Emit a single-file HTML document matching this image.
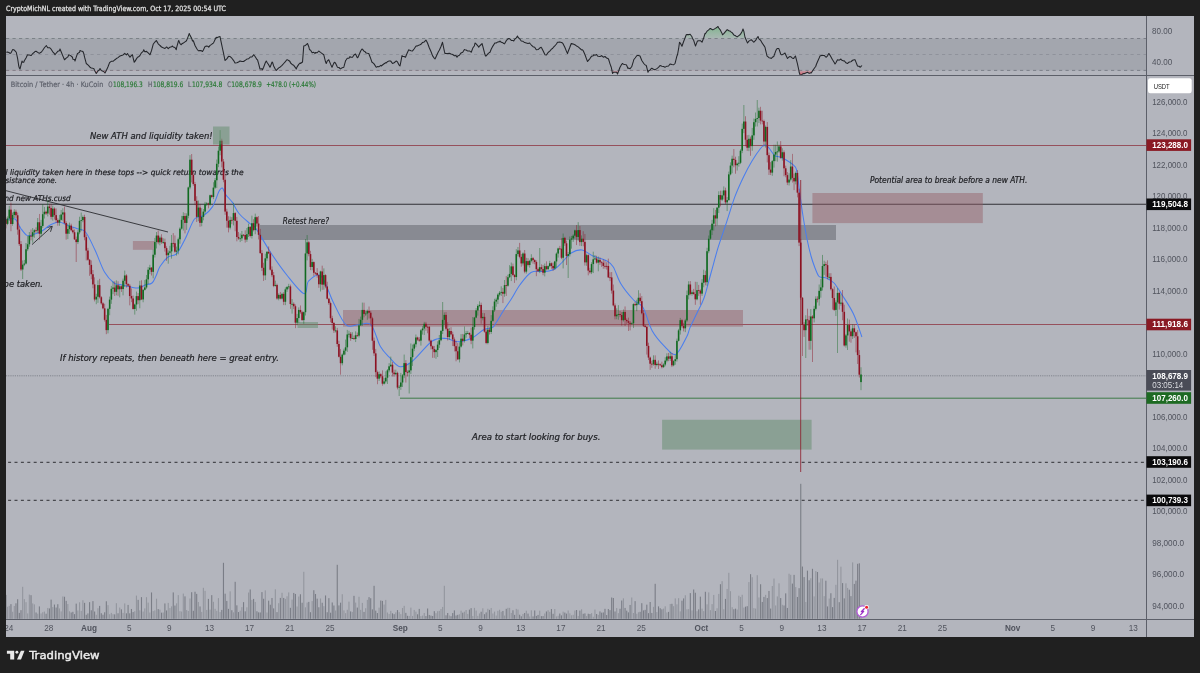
<!DOCTYPE html><html><head><meta charset="utf-8"><style>html,body{margin:0;padding:0;background:#202020;overflow:hidden}svg{display:block}</style></head><body>
<svg width="1200" height="673" viewBox="0 0 1200 673" font-family="'Liberation Sans', sans-serif">
<rect width="1200" height="673" fill="#202020"/>
<defs><clipPath id="pc"><rect x="6" y="16" width="1140.5" height="603.5"/></clipPath><clipPath id="mc"><rect x="6" y="76.0" width="1140.5" height="543.5"/></clipPath><clipPath id="rc"><rect x="6" y="16" width="1140.5" height="59.5"/></clipPath></defs>
<text x="6" y="11.2" fill="#e4e4e4" font-family="'DejaVu Sans', sans-serif" font-size="7.2" stroke="#e4e4e4" stroke-width="0.25" textLength="220" lengthAdjust="spacingAndGlyphs">CryptoMichNL created with TradingView.com, Oct 17, 2025 00:54 UTC</text>
<rect x="6" y="16" width="1188" height="621" fill="#b3b5bd"/>
<rect x="6" y="38.5" width="1140.5" height="31.900000000000006" fill="#a3a6ae"/>
<line x1="6" y1="38.5" x2="1146.5" y2="38.5" stroke="#7c7f88" stroke-width="1" stroke-dasharray="3.2 3.3"/>
<line x1="6" y1="54.5" x2="1146.5" y2="54.5" stroke="#8f929b" stroke-width="1" stroke-dasharray="3.2 3.3"/>
<line x1="6" y1="70.4" x2="1146.5" y2="70.4" stroke="#7c7f88" stroke-width="1" stroke-dasharray="3.2 3.3"/>
<g clip-path="url(#rc)">
<clipPath id="ob"><rect x="6" y="16" width="1140.5" height="22.5"/></clipPath>
<clipPath id="os"><rect x="6" y="70.4" width="1140.5" height="5.099999999999994"/></clipPath>
<linearGradient id="gg" x1="0" y1="16" x2="0" y2="38.5" gradientUnits="userSpaceOnUse"><stop offset="0" stop-color="#3aa54a" stop-opacity="0.85"/><stop offset="1" stop-color="#6cc07a" stop-opacity="0.15"/></linearGradient>
<linearGradient id="rg" x1="0" y1="70.4" x2="0" y2="75.5" gradientUnits="userSpaceOnUse"><stop offset="0" stop-color="#e05060" stop-opacity="0.2"/><stop offset="1" stop-color="#e03040" stop-opacity="0.8"/></linearGradient>
<polygon clip-path="url(#ob)" points="6.25,38.5 6.25,52.25 7.60,52.05 9.27,52.63 10.00,53.50 10.95,52.92 12.62,49.62 13.75,49.75 14.29,50.21 15.97,51.97 16.25,52.25 17.64,58.65 18.75,66.00 19.31,67.96 20.00,69.00 20.99,65.16 22.00,61.00 22.66,62.22 23.75,62.25 24.33,60.81 26.01,57.96 27.50,54.75 27.68,54.79 29.35,54.96 31.03,55.46 31.25,55.50 32.70,53.55 34.37,52.25 35.00,51.50 36.05,51.23 37.72,52.39 38.75,53.00 39.39,53.19 41.07,52.30 41.25,52.25 42.74,50.27 44.41,47.75 46.09,45.72 46.25,45.50 47.76,47.71 49.43,47.65 50.00,48.00 51.11,49.17 52.78,51.84 54.45,53.72 55.00,54.75 56.13,53.24 57.80,51.34 59.47,50.72 60.00,49.00 61.15,51.75 62.82,55.83 64.49,59.73 64.50,59.75 66.17,58.16 67.84,56.93 68.75,54.75 69.51,55.14 71.19,56.03 72.50,57.25 72.86,59.15 74.53,59.50 75.00,61.00 76.21,57.18 77.50,53.50 77.88,53.41 79.55,52.29 80.00,50.50 81.23,50.96 82.90,51.48 83.75,53.50 84.57,57.16 86.25,63.49 86.25,63.50 87.92,64.88 89.59,66.63 90.00,67.25 91.27,67.93 92.94,68.35 93.75,68.50 94.61,70.39 96.25,73.50 96.29,73.45 97.96,70.98 99.63,69.70 100.00,68.50 101.31,70.50 102.98,71.20 104.65,72.44 105.00,73.00 106.33,70.55 108.00,66.81 109.67,62.38 110.00,62.25 111.35,61.32 113.02,61.32 114.69,59.85 115.00,59.75 116.37,58.54 118.04,57.59 119.71,56.21 120.00,56.00 121.39,55.52 123.06,54.98 124.73,53.36 126.41,54.83 127.50,53.50 128.08,54.48 129.75,56.88 130.00,57.25 131.43,55.34 132.50,54.75 133.10,57.86 134.25,62.25 134.77,61.61 136.45,58.88 137.50,57.25 138.12,57.08 139.79,55.74 141.47,52.79 143.14,51.35 143.75,49.75 144.81,51.79 146.49,51.38 148.16,52.99 149.83,54.62 150.00,54.75 151.51,50.66 153.18,44.27 153.75,43.50 154.85,42.03 156.25,40.50 156.53,40.87 158.20,43.81 159.87,45.33 160.00,45.50 161.55,47.00 163.22,47.75 164.89,48.44 165.00,48.50 166.57,46.94 168.24,48.71 169.91,47.17 171.59,46.73 172.50,46.00 173.26,47.03 174.93,47.49 176.25,49.75 176.61,47.64 178.28,41.57 178.75,40.50 179.95,43.60 181.25,44.75 181.63,44.01 183.30,43.08 184.97,41.82 186.25,41.00 186.65,40.32 188.32,36.10 189.25,33.50 189.99,35.36 191.67,38.38 192.50,41.00 193.34,40.74 195.01,45.49 196.69,48.47 197.50,49.75 198.36,50.73 200.03,50.58 201.71,50.89 202.50,51.50 203.38,49.97 205.00,46.50 205.05,46.51 206.73,45.99 208.40,46.61 208.75,47.25 210.07,45.37 211.75,44.41 212.50,43.50 213.42,43.12 215.09,39.60 216.25,37.25 216.77,37.77 218.44,36.94 220.00,36.50 220.11,37.04 221.79,45.23 222.50,48.50 223.46,52.86 225.00,60.50 225.13,60.39 226.81,58.90 228.48,56.38 230.00,56.50 230.15,56.70 231.83,58.21 233.50,60.34 235.00,63.00 235.17,62.93 236.85,62.72 238.52,61.96 240.00,61.00 240.19,60.98 241.87,61.44 243.54,61.50 245.00,60.50 245.21,60.36 246.89,59.11 248.56,58.77 250.00,57.25 250.23,57.09 251.91,57.05 253.58,54.86 253.75,54.75 255.25,56.75 256.93,59.58 257.50,59.75 258.60,63.73 260.00,69.00 260.27,69.08 261.95,68.70 262.50,69.75 263.62,67.20 265.29,62.78 266.25,61.00 266.97,62.25 268.64,64.73 270.00,67.25 270.31,66.80 271.99,62.10 272.50,62.25 273.66,65.95 275.33,69.23 276.25,70.50 277.01,69.65 278.68,67.89 280.00,67.25 280.35,66.87 282.03,65.43 283.70,63.49 285.37,61.67 286.25,60.50 287.05,59.63 288.72,60.54 290.00,61.50 290.39,62.75 292.07,64.32 292.50,64.75 293.74,65.32 295.41,67.57 296.25,69.00 297.09,66.86 298.76,64.42 300.00,63.00 300.43,63.52 302.11,62.25 302.50,62.25 303.75,46.00 303.78,45.98 305.45,45.49 307.13,43.85 307.50,43.50 308.80,46.73 309.50,49.75 310.47,50.05 312.15,52.83 313.82,52.27 315.00,53.50 315.49,52.59 317.17,52.75 318.75,51.00 318.84,51.07 320.51,52.37 322.19,53.57 323.75,54.75 323.86,55.14 325.53,61.81 326.25,63.50 327.21,61.08 328.75,59.75 328.88,60.05 330.55,64.15 332.00,67.25 332.23,66.80 333.90,62.86 334.50,62.25 335.57,63.25 337.25,66.83 337.50,67.25 338.92,67.50 340.00,68.50 340.59,68.95 342.27,67.67 343.75,67.25 343.94,66.68 345.61,60.63 346.25,59.75 347.29,58.23 348.96,58.26 350.00,56.50 350.63,57.26 352.31,57.19 352.50,57.25 353.98,55.03 355.50,54.00 355.65,54.20 357.33,57.74 358.00,57.25 359.00,54.98 360.67,51.07 362.00,49.00 362.35,49.21 364.02,51.21 365.00,51.50 365.69,52.77 367.37,53.34 368.75,53.50 369.04,54.28 370.71,58.55 372.00,62.25 372.39,62.39 374.06,63.86 375.73,66.60 376.25,67.25 377.41,66.63 379.08,66.68 380.75,65.41 381.25,66.00 382.43,65.00 384.10,63.79 385.77,62.61 386.25,63.00 387.45,61.70 389.12,60.90 390.00,61.00 390.79,61.13 392.47,63.47 392.50,63.50 394.14,62.73 395.81,61.35 396.25,61.00 397.49,61.91 399.16,65.17 400.00,66.00 400.83,61.79 402.00,55.50 402.51,56.57 404.18,56.48 405.50,57.25 405.85,56.32 407.53,52.19 408.75,49.75 409.20,49.97 410.87,50.74 412.50,51.00 412.55,50.94 414.22,48.80 415.89,46.33 416.25,46.00 417.57,45.88 419.24,45.05 420.00,44.75 420.91,44.27 422.59,42.47 424.26,41.97 425.93,40.15 426.25,40.50 427.61,43.21 429.28,47.71 430.95,51.55 431.25,52.25 432.63,55.91 434.30,58.30 435.00,59.00 435.97,56.93 437.65,53.25 438.75,51.00 439.32,50.23 440.99,46.54 442.50,42.25 442.67,43.00 444.34,51.22 445.00,53.50 446.01,53.40 447.69,53.61 449.36,53.31 450.00,53.50 451.03,53.89 452.71,54.47 454.38,55.71 456.05,55.53 457.00,57.25 457.73,55.89 459.40,55.24 461.07,52.91 462.75,52.17 464.42,49.57 465.00,49.75 466.09,49.98 467.77,51.08 469.44,50.94 471.11,52.20 471.25,52.25 472.79,48.06 474.46,45.72 475.00,43.00 476.13,43.90 477.81,45.78 478.75,47.25 479.48,46.09 481.15,44.50 482.00,43.50 482.83,46.44 484.50,52.98 485.50,56.00 486.17,55.88 487.85,53.82 489.52,52.45 490.00,52.25 491.19,49.25 492.87,46.10 494.54,43.44 495.00,43.00 496.21,42.93 497.89,41.91 499.56,41.63 500.00,41.00 501.23,42.35 502.91,42.85 503.75,43.50 504.58,43.85 506.25,40.70 507.93,38.97 508.75,38.50 509.60,38.68 511.27,40.40 512.95,40.52 513.75,41.00 514.62,39.42 516.29,37.85 517.50,36.00 517.97,37.26 519.64,38.79 521.25,41.00 521.31,41.02 522.99,41.35 524.66,42.58 526.33,43.01 528.01,43.46 529.68,42.98 530.00,43.50 531.35,45.01 533.03,46.73 534.70,47.19 536.25,49.75 536.37,49.69 538.05,49.53 539.72,48.07 541.25,47.25 541.39,47.54 543.07,50.69 544.74,54.23 545.00,54.75 546.41,54.96 548.09,52.52 549.76,51.18 550.00,51.00 551.43,49.16 552.50,48.50 553.11,47.71 554.78,45.97 556.45,44.02 557.50,42.25 558.13,42.31 559.80,42.11 561.47,42.45 562.50,43.00 563.15,43.90 564.82,47.28 566.49,51.37 567.50,53.50 568.17,51.45 569.84,47.29 571.25,43.50 571.51,43.63 573.19,43.97 574.86,44.75 576.53,45.93 577.50,46.50 578.21,46.87 579.88,48.40 580.00,48.50 581.55,49.92 582.50,49.75 583.23,50.70 584.90,54.55 585.00,54.75 586.57,59.11 587.50,61.50 588.25,60.58 589.92,58.60 590.00,58.50 591.59,56.17 593.27,55.64 593.75,54.75 594.94,55.24 596.61,54.53 597.50,56.00 598.29,56.34 599.96,56.53 601.25,56.00 601.63,55.60 603.31,57.23 604.98,56.50 605.00,56.50 606.65,58.02 608.33,58.74 608.75,59.75 610.00,63.82 611.25,67.25 611.67,69.16 612.50,73.50 613.35,72.33 615.00,72.25 615.02,72.26 616.69,72.23 617.50,74.00 618.37,71.80 620.00,67.25 620.04,67.19 621.71,64.27 622.50,63.50 623.39,64.16 625.06,64.57 626.25,64.75 626.73,65.49 628.00,68.50 628.41,68.05 630.08,68.69 631.25,67.25 631.75,66.70 633.43,61.14 633.75,59.75 635.10,58.02 636.77,55.77 637.50,55.50 638.45,55.47 640.00,56.00 640.12,56.24 641.79,60.52 643.47,62.93 643.75,63.50 645.14,64.87 646.25,65.50 646.81,67.51 648.00,72.25 648.49,71.00 650.16,69.85 651.25,68.50 651.83,68.20 653.51,69.26 655.00,69.75 655.18,69.60 656.85,68.59 658.53,67.35 660.00,65.50 660.20,65.57 661.87,66.23 663.55,66.55 665.00,67.25 665.22,67.11 666.89,66.15 668.57,65.94 670.00,64.00 670.24,64.05 671.91,64.59 673.59,64.72 673.75,64.75 675.00,63.50 675.26,62.59 676.93,55.95 677.50,54.75 678.61,48.70 679.50,42.25 680.28,43.04 681.95,46.24 682.50,44.75 683.63,41.48 685.30,37.23 686.25,34.75 686.97,34.49 688.65,34.64 690.00,34.25 690.32,34.47 691.99,36.81 692.50,38.50 693.67,40.34 695.34,45.60 695.50,46.00 697.01,42.15 697.50,41.00 698.69,40.71 700.36,40.68 702.03,42.19 702.50,41.00 703.71,37.83 705.00,33.50 705.38,33.73 707.05,31.17 708.73,29.94 710.00,28.50 710.40,28.58 712.07,29.42 712.50,29.75 713.75,29.43 715.42,28.36 717.09,27.21 718.00,26.50 718.77,27.99 720.44,30.17 722.11,33.63 722.50,34.75 723.79,33.68 725.46,31.59 727.13,29.68 727.50,29.75 728.81,30.82 730.48,31.22 731.25,32.25 732.15,32.64 733.83,34.93 735.50,35.66 736.25,36.50 737.17,36.87 738.85,35.58 740.00,34.75 740.52,34.21 742.19,31.18 743.00,29.00 743.87,31.37 745.00,37.25 745.54,38.45 747.21,42.34 747.50,43.00 748.89,41.08 750.56,40.09 751.25,39.75 752.23,40.68 753.75,42.25 753.91,42.04 755.58,40.47 757.25,37.49 758.00,36.50 758.93,38.86 760.60,40.25 762.27,43.15 762.50,43.50 763.95,45.64 765.00,47.25 765.62,50.01 767.00,56.00 767.29,56.17 768.97,57.68 770.64,58.11 771.25,58.50 772.31,57.30 773.75,56.50 773.99,55.86 775.66,51.16 776.25,49.75 777.33,48.43 778.75,48.50 779.01,49.14 780.68,54.03 781.25,54.75 782.35,54.65 784.03,53.69 785.00,53.00 785.70,54.69 787.37,58.22 787.50,58.50 789.05,56.93 790.00,56.50 790.72,56.66 792.39,58.23 793.75,58.50 794.07,57.61 795.50,56.00 795.74,57.02 797.41,63.66 798.75,69.75 799.09,71.98 800.00,74.75 800.76,75.37 802.43,74.10 803.75,73.50 804.11,73.68 805.78,72.93 807.45,72.27 807.50,72.25 809.13,73.37 810.80,72.66 811.25,73.00 812.47,71.03 814.15,68.49 815.82,66.26 816.25,64.75 817.49,61.71 819.17,58.07 820.00,56.00 820.84,55.62 822.51,55.30 823.75,55.50 824.19,55.44 825.86,57.02 826.25,57.25 827.53,55.82 828.75,53.50 829.21,53.88 830.88,56.72 832.50,59.75 832.55,59.84 834.23,62.46 835.00,64.00 835.90,62.67 837.50,59.75 837.57,59.75 839.25,60.14 840.92,59.06 841.25,59.75 842.59,60.62 843.75,61.00 844.27,60.79 845.94,62.86 847.50,63.50 847.61,63.44 849.29,62.01 850.96,61.65 851.25,61.50 852.63,60.25 854.31,59.68 855.00,59.75 855.98,62.17 857.50,66.00 857.65,66.08 859.33,66.36 860.00,67.25 861.00,66.49 862.00,65.50 862,38.5" fill="url(#gg)"/>
<polygon clip-path="url(#os)" points="6.25,70.4 6.25,52.25 7.60,52.05 9.27,52.63 10.00,53.50 10.95,52.92 12.62,49.62 13.75,49.75 14.29,50.21 15.97,51.97 16.25,52.25 17.64,58.65 18.75,66.00 19.31,67.96 20.00,69.00 20.99,65.16 22.00,61.00 22.66,62.22 23.75,62.25 24.33,60.81 26.01,57.96 27.50,54.75 27.68,54.79 29.35,54.96 31.03,55.46 31.25,55.50 32.70,53.55 34.37,52.25 35.00,51.50 36.05,51.23 37.72,52.39 38.75,53.00 39.39,53.19 41.07,52.30 41.25,52.25 42.74,50.27 44.41,47.75 46.09,45.72 46.25,45.50 47.76,47.71 49.43,47.65 50.00,48.00 51.11,49.17 52.78,51.84 54.45,53.72 55.00,54.75 56.13,53.24 57.80,51.34 59.47,50.72 60.00,49.00 61.15,51.75 62.82,55.83 64.49,59.73 64.50,59.75 66.17,58.16 67.84,56.93 68.75,54.75 69.51,55.14 71.19,56.03 72.50,57.25 72.86,59.15 74.53,59.50 75.00,61.00 76.21,57.18 77.50,53.50 77.88,53.41 79.55,52.29 80.00,50.50 81.23,50.96 82.90,51.48 83.75,53.50 84.57,57.16 86.25,63.49 86.25,63.50 87.92,64.88 89.59,66.63 90.00,67.25 91.27,67.93 92.94,68.35 93.75,68.50 94.61,70.39 96.25,73.50 96.29,73.45 97.96,70.98 99.63,69.70 100.00,68.50 101.31,70.50 102.98,71.20 104.65,72.44 105.00,73.00 106.33,70.55 108.00,66.81 109.67,62.38 110.00,62.25 111.35,61.32 113.02,61.32 114.69,59.85 115.00,59.75 116.37,58.54 118.04,57.59 119.71,56.21 120.00,56.00 121.39,55.52 123.06,54.98 124.73,53.36 126.41,54.83 127.50,53.50 128.08,54.48 129.75,56.88 130.00,57.25 131.43,55.34 132.50,54.75 133.10,57.86 134.25,62.25 134.77,61.61 136.45,58.88 137.50,57.25 138.12,57.08 139.79,55.74 141.47,52.79 143.14,51.35 143.75,49.75 144.81,51.79 146.49,51.38 148.16,52.99 149.83,54.62 150.00,54.75 151.51,50.66 153.18,44.27 153.75,43.50 154.85,42.03 156.25,40.50 156.53,40.87 158.20,43.81 159.87,45.33 160.00,45.50 161.55,47.00 163.22,47.75 164.89,48.44 165.00,48.50 166.57,46.94 168.24,48.71 169.91,47.17 171.59,46.73 172.50,46.00 173.26,47.03 174.93,47.49 176.25,49.75 176.61,47.64 178.28,41.57 178.75,40.50 179.95,43.60 181.25,44.75 181.63,44.01 183.30,43.08 184.97,41.82 186.25,41.00 186.65,40.32 188.32,36.10 189.25,33.50 189.99,35.36 191.67,38.38 192.50,41.00 193.34,40.74 195.01,45.49 196.69,48.47 197.50,49.75 198.36,50.73 200.03,50.58 201.71,50.89 202.50,51.50 203.38,49.97 205.00,46.50 205.05,46.51 206.73,45.99 208.40,46.61 208.75,47.25 210.07,45.37 211.75,44.41 212.50,43.50 213.42,43.12 215.09,39.60 216.25,37.25 216.77,37.77 218.44,36.94 220.00,36.50 220.11,37.04 221.79,45.23 222.50,48.50 223.46,52.86 225.00,60.50 225.13,60.39 226.81,58.90 228.48,56.38 230.00,56.50 230.15,56.70 231.83,58.21 233.50,60.34 235.00,63.00 235.17,62.93 236.85,62.72 238.52,61.96 240.00,61.00 240.19,60.98 241.87,61.44 243.54,61.50 245.00,60.50 245.21,60.36 246.89,59.11 248.56,58.77 250.00,57.25 250.23,57.09 251.91,57.05 253.58,54.86 253.75,54.75 255.25,56.75 256.93,59.58 257.50,59.75 258.60,63.73 260.00,69.00 260.27,69.08 261.95,68.70 262.50,69.75 263.62,67.20 265.29,62.78 266.25,61.00 266.97,62.25 268.64,64.73 270.00,67.25 270.31,66.80 271.99,62.10 272.50,62.25 273.66,65.95 275.33,69.23 276.25,70.50 277.01,69.65 278.68,67.89 280.00,67.25 280.35,66.87 282.03,65.43 283.70,63.49 285.37,61.67 286.25,60.50 287.05,59.63 288.72,60.54 290.00,61.50 290.39,62.75 292.07,64.32 292.50,64.75 293.74,65.32 295.41,67.57 296.25,69.00 297.09,66.86 298.76,64.42 300.00,63.00 300.43,63.52 302.11,62.25 302.50,62.25 303.75,46.00 303.78,45.98 305.45,45.49 307.13,43.85 307.50,43.50 308.80,46.73 309.50,49.75 310.47,50.05 312.15,52.83 313.82,52.27 315.00,53.50 315.49,52.59 317.17,52.75 318.75,51.00 318.84,51.07 320.51,52.37 322.19,53.57 323.75,54.75 323.86,55.14 325.53,61.81 326.25,63.50 327.21,61.08 328.75,59.75 328.88,60.05 330.55,64.15 332.00,67.25 332.23,66.80 333.90,62.86 334.50,62.25 335.57,63.25 337.25,66.83 337.50,67.25 338.92,67.50 340.00,68.50 340.59,68.95 342.27,67.67 343.75,67.25 343.94,66.68 345.61,60.63 346.25,59.75 347.29,58.23 348.96,58.26 350.00,56.50 350.63,57.26 352.31,57.19 352.50,57.25 353.98,55.03 355.50,54.00 355.65,54.20 357.33,57.74 358.00,57.25 359.00,54.98 360.67,51.07 362.00,49.00 362.35,49.21 364.02,51.21 365.00,51.50 365.69,52.77 367.37,53.34 368.75,53.50 369.04,54.28 370.71,58.55 372.00,62.25 372.39,62.39 374.06,63.86 375.73,66.60 376.25,67.25 377.41,66.63 379.08,66.68 380.75,65.41 381.25,66.00 382.43,65.00 384.10,63.79 385.77,62.61 386.25,63.00 387.45,61.70 389.12,60.90 390.00,61.00 390.79,61.13 392.47,63.47 392.50,63.50 394.14,62.73 395.81,61.35 396.25,61.00 397.49,61.91 399.16,65.17 400.00,66.00 400.83,61.79 402.00,55.50 402.51,56.57 404.18,56.48 405.50,57.25 405.85,56.32 407.53,52.19 408.75,49.75 409.20,49.97 410.87,50.74 412.50,51.00 412.55,50.94 414.22,48.80 415.89,46.33 416.25,46.00 417.57,45.88 419.24,45.05 420.00,44.75 420.91,44.27 422.59,42.47 424.26,41.97 425.93,40.15 426.25,40.50 427.61,43.21 429.28,47.71 430.95,51.55 431.25,52.25 432.63,55.91 434.30,58.30 435.00,59.00 435.97,56.93 437.65,53.25 438.75,51.00 439.32,50.23 440.99,46.54 442.50,42.25 442.67,43.00 444.34,51.22 445.00,53.50 446.01,53.40 447.69,53.61 449.36,53.31 450.00,53.50 451.03,53.89 452.71,54.47 454.38,55.71 456.05,55.53 457.00,57.25 457.73,55.89 459.40,55.24 461.07,52.91 462.75,52.17 464.42,49.57 465.00,49.75 466.09,49.98 467.77,51.08 469.44,50.94 471.11,52.20 471.25,52.25 472.79,48.06 474.46,45.72 475.00,43.00 476.13,43.90 477.81,45.78 478.75,47.25 479.48,46.09 481.15,44.50 482.00,43.50 482.83,46.44 484.50,52.98 485.50,56.00 486.17,55.88 487.85,53.82 489.52,52.45 490.00,52.25 491.19,49.25 492.87,46.10 494.54,43.44 495.00,43.00 496.21,42.93 497.89,41.91 499.56,41.63 500.00,41.00 501.23,42.35 502.91,42.85 503.75,43.50 504.58,43.85 506.25,40.70 507.93,38.97 508.75,38.50 509.60,38.68 511.27,40.40 512.95,40.52 513.75,41.00 514.62,39.42 516.29,37.85 517.50,36.00 517.97,37.26 519.64,38.79 521.25,41.00 521.31,41.02 522.99,41.35 524.66,42.58 526.33,43.01 528.01,43.46 529.68,42.98 530.00,43.50 531.35,45.01 533.03,46.73 534.70,47.19 536.25,49.75 536.37,49.69 538.05,49.53 539.72,48.07 541.25,47.25 541.39,47.54 543.07,50.69 544.74,54.23 545.00,54.75 546.41,54.96 548.09,52.52 549.76,51.18 550.00,51.00 551.43,49.16 552.50,48.50 553.11,47.71 554.78,45.97 556.45,44.02 557.50,42.25 558.13,42.31 559.80,42.11 561.47,42.45 562.50,43.00 563.15,43.90 564.82,47.28 566.49,51.37 567.50,53.50 568.17,51.45 569.84,47.29 571.25,43.50 571.51,43.63 573.19,43.97 574.86,44.75 576.53,45.93 577.50,46.50 578.21,46.87 579.88,48.40 580.00,48.50 581.55,49.92 582.50,49.75 583.23,50.70 584.90,54.55 585.00,54.75 586.57,59.11 587.50,61.50 588.25,60.58 589.92,58.60 590.00,58.50 591.59,56.17 593.27,55.64 593.75,54.75 594.94,55.24 596.61,54.53 597.50,56.00 598.29,56.34 599.96,56.53 601.25,56.00 601.63,55.60 603.31,57.23 604.98,56.50 605.00,56.50 606.65,58.02 608.33,58.74 608.75,59.75 610.00,63.82 611.25,67.25 611.67,69.16 612.50,73.50 613.35,72.33 615.00,72.25 615.02,72.26 616.69,72.23 617.50,74.00 618.37,71.80 620.00,67.25 620.04,67.19 621.71,64.27 622.50,63.50 623.39,64.16 625.06,64.57 626.25,64.75 626.73,65.49 628.00,68.50 628.41,68.05 630.08,68.69 631.25,67.25 631.75,66.70 633.43,61.14 633.75,59.75 635.10,58.02 636.77,55.77 637.50,55.50 638.45,55.47 640.00,56.00 640.12,56.24 641.79,60.52 643.47,62.93 643.75,63.50 645.14,64.87 646.25,65.50 646.81,67.51 648.00,72.25 648.49,71.00 650.16,69.85 651.25,68.50 651.83,68.20 653.51,69.26 655.00,69.75 655.18,69.60 656.85,68.59 658.53,67.35 660.00,65.50 660.20,65.57 661.87,66.23 663.55,66.55 665.00,67.25 665.22,67.11 666.89,66.15 668.57,65.94 670.00,64.00 670.24,64.05 671.91,64.59 673.59,64.72 673.75,64.75 675.00,63.50 675.26,62.59 676.93,55.95 677.50,54.75 678.61,48.70 679.50,42.25 680.28,43.04 681.95,46.24 682.50,44.75 683.63,41.48 685.30,37.23 686.25,34.75 686.97,34.49 688.65,34.64 690.00,34.25 690.32,34.47 691.99,36.81 692.50,38.50 693.67,40.34 695.34,45.60 695.50,46.00 697.01,42.15 697.50,41.00 698.69,40.71 700.36,40.68 702.03,42.19 702.50,41.00 703.71,37.83 705.00,33.50 705.38,33.73 707.05,31.17 708.73,29.94 710.00,28.50 710.40,28.58 712.07,29.42 712.50,29.75 713.75,29.43 715.42,28.36 717.09,27.21 718.00,26.50 718.77,27.99 720.44,30.17 722.11,33.63 722.50,34.75 723.79,33.68 725.46,31.59 727.13,29.68 727.50,29.75 728.81,30.82 730.48,31.22 731.25,32.25 732.15,32.64 733.83,34.93 735.50,35.66 736.25,36.50 737.17,36.87 738.85,35.58 740.00,34.75 740.52,34.21 742.19,31.18 743.00,29.00 743.87,31.37 745.00,37.25 745.54,38.45 747.21,42.34 747.50,43.00 748.89,41.08 750.56,40.09 751.25,39.75 752.23,40.68 753.75,42.25 753.91,42.04 755.58,40.47 757.25,37.49 758.00,36.50 758.93,38.86 760.60,40.25 762.27,43.15 762.50,43.50 763.95,45.64 765.00,47.25 765.62,50.01 767.00,56.00 767.29,56.17 768.97,57.68 770.64,58.11 771.25,58.50 772.31,57.30 773.75,56.50 773.99,55.86 775.66,51.16 776.25,49.75 777.33,48.43 778.75,48.50 779.01,49.14 780.68,54.03 781.25,54.75 782.35,54.65 784.03,53.69 785.00,53.00 785.70,54.69 787.37,58.22 787.50,58.50 789.05,56.93 790.00,56.50 790.72,56.66 792.39,58.23 793.75,58.50 794.07,57.61 795.50,56.00 795.74,57.02 797.41,63.66 798.75,69.75 799.09,71.98 800.00,74.75 800.76,75.37 802.43,74.10 803.75,73.50 804.11,73.68 805.78,72.93 807.45,72.27 807.50,72.25 809.13,73.37 810.80,72.66 811.25,73.00 812.47,71.03 814.15,68.49 815.82,66.26 816.25,64.75 817.49,61.71 819.17,58.07 820.00,56.00 820.84,55.62 822.51,55.30 823.75,55.50 824.19,55.44 825.86,57.02 826.25,57.25 827.53,55.82 828.75,53.50 829.21,53.88 830.88,56.72 832.50,59.75 832.55,59.84 834.23,62.46 835.00,64.00 835.90,62.67 837.50,59.75 837.57,59.75 839.25,60.14 840.92,59.06 841.25,59.75 842.59,60.62 843.75,61.00 844.27,60.79 845.94,62.86 847.50,63.50 847.61,63.44 849.29,62.01 850.96,61.65 851.25,61.50 852.63,60.25 854.31,59.68 855.00,59.75 855.98,62.17 857.50,66.00 857.65,66.08 859.33,66.36 860.00,67.25 861.00,66.49 862.00,65.50 862,70.4" fill="url(#rg)"/>
<polyline points="6.25,52.25 7.60,52.05 9.27,52.63 10.00,53.50 10.95,52.92 12.62,49.62 13.75,49.75 14.29,50.21 15.97,51.97 16.25,52.25 17.64,58.65 18.75,66.00 19.31,67.96 20.00,69.00 20.99,65.16 22.00,61.00 22.66,62.22 23.75,62.25 24.33,60.81 26.01,57.96 27.50,54.75 27.68,54.79 29.35,54.96 31.03,55.46 31.25,55.50 32.70,53.55 34.37,52.25 35.00,51.50 36.05,51.23 37.72,52.39 38.75,53.00 39.39,53.19 41.07,52.30 41.25,52.25 42.74,50.27 44.41,47.75 46.09,45.72 46.25,45.50 47.76,47.71 49.43,47.65 50.00,48.00 51.11,49.17 52.78,51.84 54.45,53.72 55.00,54.75 56.13,53.24 57.80,51.34 59.47,50.72 60.00,49.00 61.15,51.75 62.82,55.83 64.49,59.73 64.50,59.75 66.17,58.16 67.84,56.93 68.75,54.75 69.51,55.14 71.19,56.03 72.50,57.25 72.86,59.15 74.53,59.50 75.00,61.00 76.21,57.18 77.50,53.50 77.88,53.41 79.55,52.29 80.00,50.50 81.23,50.96 82.90,51.48 83.75,53.50 84.57,57.16 86.25,63.49 86.25,63.50 87.92,64.88 89.59,66.63 90.00,67.25 91.27,67.93 92.94,68.35 93.75,68.50 94.61,70.39 96.25,73.50 96.29,73.45 97.96,70.98 99.63,69.70 100.00,68.50 101.31,70.50 102.98,71.20 104.65,72.44 105.00,73.00 106.33,70.55 108.00,66.81 109.67,62.38 110.00,62.25 111.35,61.32 113.02,61.32 114.69,59.85 115.00,59.75 116.37,58.54 118.04,57.59 119.71,56.21 120.00,56.00 121.39,55.52 123.06,54.98 124.73,53.36 126.41,54.83 127.50,53.50 128.08,54.48 129.75,56.88 130.00,57.25 131.43,55.34 132.50,54.75 133.10,57.86 134.25,62.25 134.77,61.61 136.45,58.88 137.50,57.25 138.12,57.08 139.79,55.74 141.47,52.79 143.14,51.35 143.75,49.75 144.81,51.79 146.49,51.38 148.16,52.99 149.83,54.62 150.00,54.75 151.51,50.66 153.18,44.27 153.75,43.50 154.85,42.03 156.25,40.50 156.53,40.87 158.20,43.81 159.87,45.33 160.00,45.50 161.55,47.00 163.22,47.75 164.89,48.44 165.00,48.50 166.57,46.94 168.24,48.71 169.91,47.17 171.59,46.73 172.50,46.00 173.26,47.03 174.93,47.49 176.25,49.75 176.61,47.64 178.28,41.57 178.75,40.50 179.95,43.60 181.25,44.75 181.63,44.01 183.30,43.08 184.97,41.82 186.25,41.00 186.65,40.32 188.32,36.10 189.25,33.50 189.99,35.36 191.67,38.38 192.50,41.00 193.34,40.74 195.01,45.49 196.69,48.47 197.50,49.75 198.36,50.73 200.03,50.58 201.71,50.89 202.50,51.50 203.38,49.97 205.00,46.50 205.05,46.51 206.73,45.99 208.40,46.61 208.75,47.25 210.07,45.37 211.75,44.41 212.50,43.50 213.42,43.12 215.09,39.60 216.25,37.25 216.77,37.77 218.44,36.94 220.00,36.50 220.11,37.04 221.79,45.23 222.50,48.50 223.46,52.86 225.00,60.50 225.13,60.39 226.81,58.90 228.48,56.38 230.00,56.50 230.15,56.70 231.83,58.21 233.50,60.34 235.00,63.00 235.17,62.93 236.85,62.72 238.52,61.96 240.00,61.00 240.19,60.98 241.87,61.44 243.54,61.50 245.00,60.50 245.21,60.36 246.89,59.11 248.56,58.77 250.00,57.25 250.23,57.09 251.91,57.05 253.58,54.86 253.75,54.75 255.25,56.75 256.93,59.58 257.50,59.75 258.60,63.73 260.00,69.00 260.27,69.08 261.95,68.70 262.50,69.75 263.62,67.20 265.29,62.78 266.25,61.00 266.97,62.25 268.64,64.73 270.00,67.25 270.31,66.80 271.99,62.10 272.50,62.25 273.66,65.95 275.33,69.23 276.25,70.50 277.01,69.65 278.68,67.89 280.00,67.25 280.35,66.87 282.03,65.43 283.70,63.49 285.37,61.67 286.25,60.50 287.05,59.63 288.72,60.54 290.00,61.50 290.39,62.75 292.07,64.32 292.50,64.75 293.74,65.32 295.41,67.57 296.25,69.00 297.09,66.86 298.76,64.42 300.00,63.00 300.43,63.52 302.11,62.25 302.50,62.25 303.75,46.00 303.78,45.98 305.45,45.49 307.13,43.85 307.50,43.50 308.80,46.73 309.50,49.75 310.47,50.05 312.15,52.83 313.82,52.27 315.00,53.50 315.49,52.59 317.17,52.75 318.75,51.00 318.84,51.07 320.51,52.37 322.19,53.57 323.75,54.75 323.86,55.14 325.53,61.81 326.25,63.50 327.21,61.08 328.75,59.75 328.88,60.05 330.55,64.15 332.00,67.25 332.23,66.80 333.90,62.86 334.50,62.25 335.57,63.25 337.25,66.83 337.50,67.25 338.92,67.50 340.00,68.50 340.59,68.95 342.27,67.67 343.75,67.25 343.94,66.68 345.61,60.63 346.25,59.75 347.29,58.23 348.96,58.26 350.00,56.50 350.63,57.26 352.31,57.19 352.50,57.25 353.98,55.03 355.50,54.00 355.65,54.20 357.33,57.74 358.00,57.25 359.00,54.98 360.67,51.07 362.00,49.00 362.35,49.21 364.02,51.21 365.00,51.50 365.69,52.77 367.37,53.34 368.75,53.50 369.04,54.28 370.71,58.55 372.00,62.25 372.39,62.39 374.06,63.86 375.73,66.60 376.25,67.25 377.41,66.63 379.08,66.68 380.75,65.41 381.25,66.00 382.43,65.00 384.10,63.79 385.77,62.61 386.25,63.00 387.45,61.70 389.12,60.90 390.00,61.00 390.79,61.13 392.47,63.47 392.50,63.50 394.14,62.73 395.81,61.35 396.25,61.00 397.49,61.91 399.16,65.17 400.00,66.00 400.83,61.79 402.00,55.50 402.51,56.57 404.18,56.48 405.50,57.25 405.85,56.32 407.53,52.19 408.75,49.75 409.20,49.97 410.87,50.74 412.50,51.00 412.55,50.94 414.22,48.80 415.89,46.33 416.25,46.00 417.57,45.88 419.24,45.05 420.00,44.75 420.91,44.27 422.59,42.47 424.26,41.97 425.93,40.15 426.25,40.50 427.61,43.21 429.28,47.71 430.95,51.55 431.25,52.25 432.63,55.91 434.30,58.30 435.00,59.00 435.97,56.93 437.65,53.25 438.75,51.00 439.32,50.23 440.99,46.54 442.50,42.25 442.67,43.00 444.34,51.22 445.00,53.50 446.01,53.40 447.69,53.61 449.36,53.31 450.00,53.50 451.03,53.89 452.71,54.47 454.38,55.71 456.05,55.53 457.00,57.25 457.73,55.89 459.40,55.24 461.07,52.91 462.75,52.17 464.42,49.57 465.00,49.75 466.09,49.98 467.77,51.08 469.44,50.94 471.11,52.20 471.25,52.25 472.79,48.06 474.46,45.72 475.00,43.00 476.13,43.90 477.81,45.78 478.75,47.25 479.48,46.09 481.15,44.50 482.00,43.50 482.83,46.44 484.50,52.98 485.50,56.00 486.17,55.88 487.85,53.82 489.52,52.45 490.00,52.25 491.19,49.25 492.87,46.10 494.54,43.44 495.00,43.00 496.21,42.93 497.89,41.91 499.56,41.63 500.00,41.00 501.23,42.35 502.91,42.85 503.75,43.50 504.58,43.85 506.25,40.70 507.93,38.97 508.75,38.50 509.60,38.68 511.27,40.40 512.95,40.52 513.75,41.00 514.62,39.42 516.29,37.85 517.50,36.00 517.97,37.26 519.64,38.79 521.25,41.00 521.31,41.02 522.99,41.35 524.66,42.58 526.33,43.01 528.01,43.46 529.68,42.98 530.00,43.50 531.35,45.01 533.03,46.73 534.70,47.19 536.25,49.75 536.37,49.69 538.05,49.53 539.72,48.07 541.25,47.25 541.39,47.54 543.07,50.69 544.74,54.23 545.00,54.75 546.41,54.96 548.09,52.52 549.76,51.18 550.00,51.00 551.43,49.16 552.50,48.50 553.11,47.71 554.78,45.97 556.45,44.02 557.50,42.25 558.13,42.31 559.80,42.11 561.47,42.45 562.50,43.00 563.15,43.90 564.82,47.28 566.49,51.37 567.50,53.50 568.17,51.45 569.84,47.29 571.25,43.50 571.51,43.63 573.19,43.97 574.86,44.75 576.53,45.93 577.50,46.50 578.21,46.87 579.88,48.40 580.00,48.50 581.55,49.92 582.50,49.75 583.23,50.70 584.90,54.55 585.00,54.75 586.57,59.11 587.50,61.50 588.25,60.58 589.92,58.60 590.00,58.50 591.59,56.17 593.27,55.64 593.75,54.75 594.94,55.24 596.61,54.53 597.50,56.00 598.29,56.34 599.96,56.53 601.25,56.00 601.63,55.60 603.31,57.23 604.98,56.50 605.00,56.50 606.65,58.02 608.33,58.74 608.75,59.75 610.00,63.82 611.25,67.25 611.67,69.16 612.50,73.50 613.35,72.33 615.00,72.25 615.02,72.26 616.69,72.23 617.50,74.00 618.37,71.80 620.00,67.25 620.04,67.19 621.71,64.27 622.50,63.50 623.39,64.16 625.06,64.57 626.25,64.75 626.73,65.49 628.00,68.50 628.41,68.05 630.08,68.69 631.25,67.25 631.75,66.70 633.43,61.14 633.75,59.75 635.10,58.02 636.77,55.77 637.50,55.50 638.45,55.47 640.00,56.00 640.12,56.24 641.79,60.52 643.47,62.93 643.75,63.50 645.14,64.87 646.25,65.50 646.81,67.51 648.00,72.25 648.49,71.00 650.16,69.85 651.25,68.50 651.83,68.20 653.51,69.26 655.00,69.75 655.18,69.60 656.85,68.59 658.53,67.35 660.00,65.50 660.20,65.57 661.87,66.23 663.55,66.55 665.00,67.25 665.22,67.11 666.89,66.15 668.57,65.94 670.00,64.00 670.24,64.05 671.91,64.59 673.59,64.72 673.75,64.75 675.00,63.50 675.26,62.59 676.93,55.95 677.50,54.75 678.61,48.70 679.50,42.25 680.28,43.04 681.95,46.24 682.50,44.75 683.63,41.48 685.30,37.23 686.25,34.75 686.97,34.49 688.65,34.64 690.00,34.25 690.32,34.47 691.99,36.81 692.50,38.50 693.67,40.34 695.34,45.60 695.50,46.00 697.01,42.15 697.50,41.00 698.69,40.71 700.36,40.68 702.03,42.19 702.50,41.00 703.71,37.83 705.00,33.50 705.38,33.73 707.05,31.17 708.73,29.94 710.00,28.50 710.40,28.58 712.07,29.42 712.50,29.75 713.75,29.43 715.42,28.36 717.09,27.21 718.00,26.50 718.77,27.99 720.44,30.17 722.11,33.63 722.50,34.75 723.79,33.68 725.46,31.59 727.13,29.68 727.50,29.75 728.81,30.82 730.48,31.22 731.25,32.25 732.15,32.64 733.83,34.93 735.50,35.66 736.25,36.50 737.17,36.87 738.85,35.58 740.00,34.75 740.52,34.21 742.19,31.18 743.00,29.00 743.87,31.37 745.00,37.25 745.54,38.45 747.21,42.34 747.50,43.00 748.89,41.08 750.56,40.09 751.25,39.75 752.23,40.68 753.75,42.25 753.91,42.04 755.58,40.47 757.25,37.49 758.00,36.50 758.93,38.86 760.60,40.25 762.27,43.15 762.50,43.50 763.95,45.64 765.00,47.25 765.62,50.01 767.00,56.00 767.29,56.17 768.97,57.68 770.64,58.11 771.25,58.50 772.31,57.30 773.75,56.50 773.99,55.86 775.66,51.16 776.25,49.75 777.33,48.43 778.75,48.50 779.01,49.14 780.68,54.03 781.25,54.75 782.35,54.65 784.03,53.69 785.00,53.00 785.70,54.69 787.37,58.22 787.50,58.50 789.05,56.93 790.00,56.50 790.72,56.66 792.39,58.23 793.75,58.50 794.07,57.61 795.50,56.00 795.74,57.02 797.41,63.66 798.75,69.75 799.09,71.98 800.00,74.75 800.76,75.37 802.43,74.10 803.75,73.50 804.11,73.68 805.78,72.93 807.45,72.27 807.50,72.25 809.13,73.37 810.80,72.66 811.25,73.00 812.47,71.03 814.15,68.49 815.82,66.26 816.25,64.75 817.49,61.71 819.17,58.07 820.00,56.00 820.84,55.62 822.51,55.30 823.75,55.50 824.19,55.44 825.86,57.02 826.25,57.25 827.53,55.82 828.75,53.50 829.21,53.88 830.88,56.72 832.50,59.75 832.55,59.84 834.23,62.46 835.00,64.00 835.90,62.67 837.50,59.75 837.57,59.75 839.25,60.14 840.92,59.06 841.25,59.75 842.59,60.62 843.75,61.00 844.27,60.79 845.94,62.86 847.50,63.50 847.61,63.44 849.29,62.01 850.96,61.65 851.25,61.50 852.63,60.25 854.31,59.68 855.00,59.75 855.98,62.17 857.50,66.00 857.65,66.08 859.33,66.36 860.00,67.25 861.00,66.49 862.00,65.50" fill="none" stroke="#24262b" stroke-width="1.05" stroke-linejoin="round"/>
</g>
<line x1="6" y1="75.5" x2="1194" y2="75.5" stroke="#5c5f69" stroke-width="1"/>
<g clip-path="url(#mc)">
<rect x="2.03" y="606.88" width="1.1" height="11.92" fill="#93969e"/>
<rect x="3.70" y="604.55" width="1.1" height="14.25" fill="#93969e"/>
<rect x="5.38" y="594.88" width="1.1" height="23.92" fill="#7a7d86"/>
<rect x="7.05" y="606.75" width="1.1" height="12.05" fill="#93969e"/>
<rect x="8.72" y="605.89" width="1.1" height="12.91" fill="#93969e"/>
<rect x="10.40" y="604.14" width="1.1" height="14.66" fill="#7a7d86"/>
<rect x="12.07" y="611.75" width="1.1" height="7.05" fill="#93969e"/>
<rect x="13.74" y="605.96" width="1.1" height="12.84" fill="#93969e"/>
<rect x="15.42" y="603.31" width="1.1" height="15.49" fill="#7a7d86"/>
<rect x="17.09" y="599.23" width="1.1" height="19.57" fill="#7a7d86"/>
<rect x="18.76" y="612.88" width="1.1" height="5.92" fill="#7a7d86"/>
<rect x="20.44" y="610.15" width="1.1" height="8.65" fill="#7a7d86"/>
<rect x="22.11" y="586.80" width="1.1" height="32.00" fill="#93969e"/>
<rect x="23.78" y="599.11" width="1.1" height="19.69" fill="#93969e"/>
<rect x="25.46" y="602.17" width="1.1" height="16.63" fill="#93969e"/>
<rect x="27.13" y="613.40" width="1.1" height="5.40" fill="#93969e"/>
<rect x="28.80" y="594.58" width="1.1" height="24.22" fill="#93969e"/>
<rect x="30.48" y="595.18" width="1.1" height="23.62" fill="#7a7d86"/>
<rect x="32.15" y="603.40" width="1.1" height="15.40" fill="#93969e"/>
<rect x="33.82" y="604.35" width="1.1" height="14.45" fill="#93969e"/>
<rect x="35.50" y="612.48" width="1.1" height="6.32" fill="#7a7d86"/>
<rect x="37.17" y="613.67" width="1.1" height="5.13" fill="#93969e"/>
<rect x="38.84" y="606.42" width="1.1" height="12.38" fill="#7a7d86"/>
<rect x="40.52" y="613.47" width="1.1" height="5.33" fill="#93969e"/>
<rect x="42.19" y="612.21" width="1.1" height="6.59" fill="#93969e"/>
<rect x="43.86" y="611.56" width="1.1" height="7.24" fill="#93969e"/>
<rect x="45.54" y="613.72" width="1.1" height="5.08" fill="#7a7d86"/>
<rect x="47.21" y="607.96" width="1.1" height="10.84" fill="#93969e"/>
<rect x="48.88" y="608.44" width="1.1" height="10.36" fill="#7a7d86"/>
<rect x="50.56" y="599.62" width="1.1" height="19.18" fill="#7a7d86"/>
<rect x="52.23" y="607.04" width="1.1" height="11.76" fill="#93969e"/>
<rect x="53.90" y="604.56" width="1.1" height="14.24" fill="#7a7d86"/>
<rect x="55.58" y="607.52" width="1.1" height="11.28" fill="#7a7d86"/>
<rect x="57.25" y="604.21" width="1.1" height="14.59" fill="#7a7d86"/>
<rect x="58.92" y="608.42" width="1.1" height="10.38" fill="#93969e"/>
<rect x="60.60" y="611.41" width="1.1" height="7.39" fill="#93969e"/>
<rect x="62.27" y="596.46" width="1.1" height="22.34" fill="#93969e"/>
<rect x="63.94" y="596.75" width="1.1" height="22.05" fill="#7a7d86"/>
<rect x="65.62" y="600.86" width="1.1" height="17.94" fill="#7a7d86"/>
<rect x="67.29" y="604.04" width="1.1" height="14.76" fill="#93969e"/>
<rect x="68.96" y="611.29" width="1.1" height="7.51" fill="#93969e"/>
<rect x="70.64" y="612.49" width="1.1" height="6.31" fill="#7a7d86"/>
<rect x="72.31" y="611.81" width="1.1" height="6.99" fill="#7a7d86"/>
<rect x="73.98" y="614.13" width="1.1" height="4.67" fill="#7a7d86"/>
<rect x="75.66" y="603.63" width="1.1" height="15.17" fill="#7a7d86"/>
<rect x="77.33" y="610.49" width="1.1" height="8.31" fill="#93969e"/>
<rect x="79.00" y="602.28" width="1.1" height="16.52" fill="#93969e"/>
<rect x="80.68" y="610.89" width="1.1" height="7.91" fill="#93969e"/>
<rect x="82.35" y="600.22" width="1.1" height="18.58" fill="#93969e"/>
<rect x="84.02" y="602.85" width="1.1" height="15.95" fill="#7a7d86"/>
<rect x="85.70" y="614.79" width="1.1" height="4.01" fill="#7a7d86"/>
<rect x="87.37" y="613.41" width="1.1" height="5.39" fill="#7a7d86"/>
<rect x="89.04" y="602.15" width="1.1" height="16.65" fill="#7a7d86"/>
<rect x="90.72" y="610.27" width="1.1" height="8.53" fill="#7a7d86"/>
<rect x="92.39" y="601.11" width="1.1" height="17.69" fill="#7a7d86"/>
<rect x="94.06" y="611.50" width="1.1" height="7.30" fill="#7a7d86"/>
<rect x="95.74" y="614.81" width="1.1" height="3.99" fill="#93969e"/>
<rect x="97.41" y="608.28" width="1.1" height="10.52" fill="#93969e"/>
<rect x="99.08" y="605.89" width="1.1" height="12.91" fill="#7a7d86"/>
<rect x="100.76" y="613.23" width="1.1" height="5.57" fill="#7a7d86"/>
<rect x="102.43" y="614.72" width="1.1" height="4.08" fill="#7a7d86"/>
<rect x="104.10" y="612.29" width="1.1" height="6.51" fill="#7a7d86"/>
<rect x="105.78" y="601.27" width="1.1" height="17.53" fill="#7a7d86"/>
<rect x="107.45" y="605.18" width="1.1" height="13.62" fill="#93969e"/>
<rect x="109.12" y="614.21" width="1.1" height="4.59" fill="#93969e"/>
<rect x="110.80" y="612.89" width="1.1" height="5.91" fill="#93969e"/>
<rect x="112.47" y="614.18" width="1.1" height="4.62" fill="#93969e"/>
<rect x="114.14" y="614.38" width="1.1" height="4.42" fill="#7a7d86"/>
<rect x="115.82" y="603.19" width="1.1" height="15.61" fill="#93969e"/>
<rect x="117.49" y="613.26" width="1.1" height="5.54" fill="#7a7d86"/>
<rect x="119.16" y="607.53" width="1.1" height="11.27" fill="#93969e"/>
<rect x="120.84" y="609.34" width="1.1" height="9.46" fill="#7a7d86"/>
<rect x="122.51" y="612.87" width="1.1" height="5.93" fill="#93969e"/>
<rect x="124.18" y="603.43" width="1.1" height="15.37" fill="#93969e"/>
<rect x="125.86" y="613.32" width="1.1" height="5.48" fill="#7a7d86"/>
<rect x="127.53" y="604.93" width="1.1" height="13.87" fill="#7a7d86"/>
<rect x="129.20" y="613.30" width="1.1" height="5.50" fill="#7a7d86"/>
<rect x="130.88" y="608.97" width="1.1" height="9.83" fill="#7a7d86"/>
<rect x="132.55" y="612.06" width="1.1" height="6.74" fill="#7a7d86"/>
<rect x="134.22" y="611.19" width="1.1" height="7.61" fill="#93969e"/>
<rect x="135.90" y="595.60" width="1.1" height="23.20" fill="#93969e"/>
<rect x="137.57" y="599.84" width="1.1" height="18.96" fill="#7a7d86"/>
<rect x="139.24" y="610.34" width="1.1" height="8.46" fill="#93969e"/>
<rect x="140.92" y="597.13" width="1.1" height="21.67" fill="#7a7d86"/>
<rect x="142.59" y="611.54" width="1.1" height="7.26" fill="#93969e"/>
<rect x="144.26" y="608.40" width="1.1" height="10.40" fill="#93969e"/>
<rect x="145.94" y="597.17" width="1.1" height="21.63" fill="#93969e"/>
<rect x="147.61" y="602.62" width="1.1" height="16.18" fill="#93969e"/>
<rect x="149.28" y="612.54" width="1.1" height="6.26" fill="#93969e"/>
<rect x="150.96" y="592.47" width="1.1" height="26.33" fill="#7a7d86"/>
<rect x="152.63" y="611.09" width="1.1" height="7.71" fill="#93969e"/>
<rect x="154.30" y="610.37" width="1.1" height="8.43" fill="#93969e"/>
<rect x="155.98" y="598.70" width="1.1" height="20.10" fill="#93969e"/>
<rect x="157.65" y="609.10" width="1.1" height="9.70" fill="#7a7d86"/>
<rect x="159.32" y="609.65" width="1.1" height="9.15" fill="#93969e"/>
<rect x="161.00" y="612.66" width="1.1" height="6.14" fill="#7a7d86"/>
<rect x="162.67" y="612.49" width="1.1" height="6.31" fill="#93969e"/>
<rect x="164.34" y="603.46" width="1.1" height="15.34" fill="#7a7d86"/>
<rect x="166.02" y="610.44" width="1.1" height="8.36" fill="#7a7d86"/>
<rect x="167.69" y="602.91" width="1.1" height="15.89" fill="#93969e"/>
<rect x="169.36" y="608.07" width="1.1" height="10.73" fill="#93969e"/>
<rect x="171.04" y="606.33" width="1.1" height="12.47" fill="#93969e"/>
<rect x="172.71" y="592.42" width="1.1" height="26.38" fill="#7a7d86"/>
<rect x="174.38" y="605.57" width="1.1" height="13.23" fill="#7a7d86"/>
<rect x="176.06" y="603.35" width="1.1" height="15.45" fill="#93969e"/>
<rect x="177.73" y="595.12" width="1.1" height="23.68" fill="#93969e"/>
<rect x="179.40" y="611.17" width="1.1" height="7.63" fill="#93969e"/>
<rect x="181.08" y="611.54" width="1.1" height="7.26" fill="#93969e"/>
<rect x="182.75" y="593.60" width="1.1" height="25.20" fill="#93969e"/>
<rect x="184.42" y="596.35" width="1.1" height="22.45" fill="#7a7d86"/>
<rect x="186.10" y="610.05" width="1.1" height="8.75" fill="#93969e"/>
<rect x="187.77" y="610.96" width="1.1" height="7.84" fill="#93969e"/>
<rect x="189.44" y="598.49" width="1.1" height="20.31" fill="#93969e"/>
<rect x="191.12" y="592.21" width="1.1" height="26.59" fill="#7a7d86"/>
<rect x="192.79" y="610.79" width="1.1" height="8.01" fill="#7a7d86"/>
<rect x="194.46" y="591.74" width="1.1" height="27.06" fill="#7a7d86"/>
<rect x="196.14" y="593.88" width="1.1" height="24.92" fill="#7a7d86"/>
<rect x="197.81" y="602.02" width="1.1" height="16.78" fill="#93969e"/>
<rect x="199.48" y="606.44" width="1.1" height="12.36" fill="#7a7d86"/>
<rect x="201.16" y="611.92" width="1.1" height="6.88" fill="#93969e"/>
<rect x="202.83" y="587.80" width="1.1" height="31.00" fill="#93969e"/>
<rect x="204.50" y="590.86" width="1.1" height="27.94" fill="#93969e"/>
<rect x="206.18" y="609.94" width="1.1" height="8.86" fill="#93969e"/>
<rect x="207.85" y="598.90" width="1.1" height="19.90" fill="#7a7d86"/>
<rect x="209.52" y="609.57" width="1.1" height="9.23" fill="#93969e"/>
<rect x="211.20" y="595.15" width="1.1" height="23.65" fill="#7a7d86"/>
<rect x="212.87" y="601.80" width="1.1" height="17.00" fill="#93969e"/>
<rect x="214.54" y="608.82" width="1.1" height="9.98" fill="#93969e"/>
<rect x="216.22" y="610.81" width="1.1" height="7.99" fill="#93969e"/>
<rect x="217.89" y="598.11" width="1.1" height="20.69" fill="#93969e"/>
<rect x="219.56" y="612.07" width="1.1" height="6.73" fill="#93969e"/>
<rect x="221.24" y="609.90" width="1.1" height="8.90" fill="#7a7d86"/>
<rect x="222.91" y="562.80" width="1.1" height="56.00" fill="#7a7d86"/>
<rect x="224.58" y="593.70" width="1.1" height="25.10" fill="#7a7d86"/>
<rect x="226.26" y="600.93" width="1.1" height="17.87" fill="#7a7d86"/>
<rect x="227.93" y="608.86" width="1.1" height="9.94" fill="#7a7d86"/>
<rect x="229.60" y="591.32" width="1.1" height="27.48" fill="#93969e"/>
<rect x="231.28" y="610.20" width="1.1" height="8.60" fill="#7a7d86"/>
<rect x="232.95" y="612.36" width="1.1" height="6.44" fill="#93969e"/>
<rect x="234.62" y="581.80" width="1.1" height="37.00" fill="#7a7d86"/>
<rect x="236.30" y="605.32" width="1.1" height="13.48" fill="#7a7d86"/>
<rect x="237.97" y="612.08" width="1.1" height="6.72" fill="#7a7d86"/>
<rect x="239.64" y="610.68" width="1.1" height="8.12" fill="#93969e"/>
<rect x="241.32" y="607.11" width="1.1" height="11.69" fill="#93969e"/>
<rect x="242.99" y="602.15" width="1.1" height="16.65" fill="#7a7d86"/>
<rect x="244.66" y="611.33" width="1.1" height="7.47" fill="#7a7d86"/>
<rect x="246.34" y="607.29" width="1.1" height="11.51" fill="#93969e"/>
<rect x="248.01" y="592.53" width="1.1" height="26.27" fill="#93969e"/>
<rect x="249.68" y="589.47" width="1.1" height="29.33" fill="#7a7d86"/>
<rect x="251.36" y="599.88" width="1.1" height="18.92" fill="#93969e"/>
<rect x="253.03" y="598.91" width="1.1" height="19.89" fill="#7a7d86"/>
<rect x="254.70" y="601.95" width="1.1" height="16.85" fill="#93969e"/>
<rect x="256.38" y="611.27" width="1.1" height="7.53" fill="#7a7d86"/>
<rect x="258.05" y="612.36" width="1.1" height="6.44" fill="#7a7d86"/>
<rect x="259.72" y="612.46" width="1.1" height="6.34" fill="#7a7d86"/>
<rect x="261.40" y="592.10" width="1.1" height="26.70" fill="#7a7d86"/>
<rect x="263.07" y="598.75" width="1.1" height="20.05" fill="#7a7d86"/>
<rect x="264.74" y="590.37" width="1.1" height="28.43" fill="#93969e"/>
<rect x="266.42" y="612.48" width="1.1" height="6.32" fill="#93969e"/>
<rect x="268.09" y="600.67" width="1.1" height="18.13" fill="#7a7d86"/>
<rect x="269.76" y="604.73" width="1.1" height="14.07" fill="#7a7d86"/>
<rect x="271.44" y="597.98" width="1.1" height="20.82" fill="#7a7d86"/>
<rect x="273.11" y="608.37" width="1.1" height="10.43" fill="#7a7d86"/>
<rect x="274.78" y="589.28" width="1.1" height="29.52" fill="#93969e"/>
<rect x="276.46" y="612.11" width="1.1" height="6.69" fill="#7a7d86"/>
<rect x="278.13" y="603.20" width="1.1" height="15.60" fill="#93969e"/>
<rect x="279.80" y="597.89" width="1.1" height="20.91" fill="#7a7d86"/>
<rect x="281.48" y="592.78" width="1.1" height="26.02" fill="#93969e"/>
<rect x="283.15" y="597.94" width="1.1" height="20.86" fill="#7a7d86"/>
<rect x="284.82" y="598.94" width="1.1" height="19.86" fill="#93969e"/>
<rect x="286.50" y="596.28" width="1.1" height="22.52" fill="#93969e"/>
<rect x="288.17" y="592.40" width="1.1" height="26.40" fill="#93969e"/>
<rect x="289.84" y="607.82" width="1.1" height="10.98" fill="#7a7d86"/>
<rect x="291.52" y="599.57" width="1.1" height="19.23" fill="#93969e"/>
<rect x="293.19" y="592.95" width="1.1" height="25.85" fill="#7a7d86"/>
<rect x="294.86" y="593.95" width="1.1" height="24.85" fill="#7a7d86"/>
<rect x="296.54" y="606.47" width="1.1" height="12.33" fill="#93969e"/>
<rect x="298.21" y="596.53" width="1.1" height="22.27" fill="#93969e"/>
<rect x="299.88" y="594.27" width="1.1" height="24.53" fill="#7a7d86"/>
<rect x="301.56" y="602.75" width="1.1" height="16.05" fill="#7a7d86"/>
<rect x="303.23" y="571.80" width="1.1" height="47.00" fill="#93969e"/>
<rect x="304.90" y="607.30" width="1.1" height="11.50" fill="#93969e"/>
<rect x="306.58" y="602.55" width="1.1" height="16.25" fill="#93969e"/>
<rect x="308.25" y="601.87" width="1.1" height="16.93" fill="#7a7d86"/>
<rect x="309.92" y="612.20" width="1.1" height="6.60" fill="#7a7d86"/>
<rect x="311.60" y="601.09" width="1.1" height="17.71" fill="#93969e"/>
<rect x="313.27" y="590.22" width="1.1" height="28.58" fill="#7a7d86"/>
<rect x="314.94" y="593.99" width="1.1" height="24.81" fill="#7a7d86"/>
<rect x="316.62" y="598.65" width="1.1" height="20.15" fill="#7a7d86"/>
<rect x="318.29" y="607.27" width="1.1" height="11.53" fill="#7a7d86"/>
<rect x="319.96" y="598.49" width="1.1" height="20.31" fill="#93969e"/>
<rect x="321.64" y="602.75" width="1.1" height="16.05" fill="#7a7d86"/>
<rect x="323.31" y="606.17" width="1.1" height="12.63" fill="#93969e"/>
<rect x="324.98" y="595.46" width="1.1" height="23.34" fill="#7a7d86"/>
<rect x="326.66" y="612.24" width="1.1" height="6.56" fill="#7a7d86"/>
<rect x="328.33" y="598.16" width="1.1" height="20.64" fill="#7a7d86"/>
<rect x="330.00" y="612.70" width="1.1" height="6.10" fill="#7a7d86"/>
<rect x="331.68" y="602.46" width="1.1" height="16.34" fill="#7a7d86"/>
<rect x="333.35" y="605.51" width="1.1" height="13.29" fill="#7a7d86"/>
<rect x="335.02" y="610.50" width="1.1" height="8.30" fill="#93969e"/>
<rect x="336.70" y="564.80" width="1.1" height="54.00" fill="#7a7d86"/>
<rect x="338.37" y="605.41" width="1.1" height="13.39" fill="#7a7d86"/>
<rect x="340.04" y="602.68" width="1.1" height="16.12" fill="#7a7d86"/>
<rect x="341.72" y="594.20" width="1.1" height="24.60" fill="#93969e"/>
<rect x="343.39" y="610.39" width="1.1" height="8.41" fill="#93969e"/>
<rect x="345.06" y="613.15" width="1.1" height="5.65" fill="#93969e"/>
<rect x="346.74" y="609.76" width="1.1" height="9.04" fill="#93969e"/>
<rect x="348.41" y="601.64" width="1.1" height="17.16" fill="#93969e"/>
<rect x="350.08" y="611.41" width="1.1" height="7.39" fill="#7a7d86"/>
<rect x="351.76" y="611.90" width="1.1" height="6.90" fill="#93969e"/>
<rect x="353.43" y="595.84" width="1.1" height="22.96" fill="#7a7d86"/>
<rect x="355.10" y="602.59" width="1.1" height="16.21" fill="#93969e"/>
<rect x="356.78" y="607.57" width="1.1" height="11.23" fill="#7a7d86"/>
<rect x="358.45" y="596.75" width="1.1" height="22.05" fill="#93969e"/>
<rect x="360.12" y="609.85" width="1.1" height="8.95" fill="#93969e"/>
<rect x="361.80" y="602.93" width="1.1" height="15.87" fill="#93969e"/>
<rect x="363.47" y="611.90" width="1.1" height="6.90" fill="#7a7d86"/>
<rect x="365.14" y="608.20" width="1.1" height="10.60" fill="#93969e"/>
<rect x="366.82" y="599.85" width="1.1" height="18.95" fill="#93969e"/>
<rect x="368.49" y="597.14" width="1.1" height="21.66" fill="#7a7d86"/>
<rect x="370.16" y="598.22" width="1.1" height="20.58" fill="#7a7d86"/>
<rect x="371.84" y="609.36" width="1.1" height="9.44" fill="#7a7d86"/>
<rect x="373.51" y="585.80" width="1.1" height="33.00" fill="#7a7d86"/>
<rect x="375.18" y="610.62" width="1.1" height="8.18" fill="#7a7d86"/>
<rect x="376.86" y="613.02" width="1.1" height="5.78" fill="#7a7d86"/>
<rect x="378.53" y="607.65" width="1.1" height="11.15" fill="#93969e"/>
<rect x="380.20" y="600.51" width="1.1" height="18.29" fill="#7a7d86"/>
<rect x="381.88" y="600.88" width="1.1" height="17.92" fill="#7a7d86"/>
<rect x="383.55" y="604.54" width="1.1" height="14.26" fill="#93969e"/>
<rect x="385.22" y="599.91" width="1.1" height="18.89" fill="#93969e"/>
<rect x="386.90" y="612.53" width="1.1" height="6.27" fill="#93969e"/>
<rect x="388.57" y="613.90" width="1.1" height="4.90" fill="#93969e"/>
<rect x="390.24" y="610.86" width="1.1" height="7.94" fill="#93969e"/>
<rect x="391.92" y="613.32" width="1.1" height="5.48" fill="#7a7d86"/>
<rect x="393.59" y="614.16" width="1.1" height="4.64" fill="#7a7d86"/>
<rect x="395.26" y="612.37" width="1.1" height="6.43" fill="#93969e"/>
<rect x="396.94" y="610.08" width="1.1" height="8.72" fill="#7a7d86"/>
<rect x="398.61" y="612.16" width="1.1" height="6.64" fill="#93969e"/>
<rect x="400.28" y="614.15" width="1.1" height="4.65" fill="#93969e"/>
<rect x="401.96" y="607.97" width="1.1" height="10.83" fill="#93969e"/>
<rect x="403.63" y="605.86" width="1.1" height="12.94" fill="#93969e"/>
<rect x="405.30" y="612.85" width="1.1" height="5.95" fill="#7a7d86"/>
<rect x="406.98" y="615.82" width="1.1" height="2.98" fill="#7a7d86"/>
<rect x="408.65" y="615.98" width="1.1" height="2.82" fill="#93969e"/>
<rect x="410.32" y="607.61" width="1.1" height="11.19" fill="#93969e"/>
<rect x="412.00" y="615.96" width="1.1" height="2.84" fill="#93969e"/>
<rect x="413.67" y="609.92" width="1.1" height="8.88" fill="#93969e"/>
<rect x="415.34" y="611.64" width="1.1" height="7.16" fill="#93969e"/>
<rect x="417.02" y="614.31" width="1.1" height="4.49" fill="#7a7d86"/>
<rect x="418.69" y="608.89" width="1.1" height="9.91" fill="#7a7d86"/>
<rect x="420.36" y="616.06" width="1.1" height="2.74" fill="#93969e"/>
<rect x="422.04" y="615.58" width="1.1" height="3.22" fill="#93969e"/>
<rect x="423.71" y="612.99" width="1.1" height="5.81" fill="#93969e"/>
<rect x="425.38" y="616.06" width="1.1" height="2.74" fill="#7a7d86"/>
<rect x="427.06" y="608.49" width="1.1" height="10.31" fill="#7a7d86"/>
<rect x="428.73" y="614.95" width="1.1" height="3.85" fill="#7a7d86"/>
<rect x="430.40" y="615.59" width="1.1" height="3.21" fill="#7a7d86"/>
<rect x="432.08" y="616.03" width="1.1" height="2.77" fill="#7a7d86"/>
<rect x="433.75" y="611.15" width="1.1" height="7.65" fill="#7a7d86"/>
<rect x="435.42" y="613.17" width="1.1" height="5.63" fill="#93969e"/>
<rect x="437.10" y="611.18" width="1.1" height="7.62" fill="#93969e"/>
<rect x="438.77" y="610.90" width="1.1" height="7.90" fill="#93969e"/>
<rect x="440.44" y="608.99" width="1.1" height="9.81" fill="#93969e"/>
<rect x="442.12" y="606.92" width="1.1" height="11.88" fill="#93969e"/>
<rect x="443.79" y="585.80" width="1.1" height="33.00" fill="#93969e"/>
<rect x="445.46" y="615.31" width="1.1" height="3.49" fill="#7a7d86"/>
<rect x="447.14" y="612.99" width="1.1" height="5.81" fill="#7a7d86"/>
<rect x="448.81" y="615.46" width="1.1" height="3.34" fill="#93969e"/>
<rect x="450.48" y="616.19" width="1.1" height="2.61" fill="#7a7d86"/>
<rect x="452.16" y="613.06" width="1.1" height="5.74" fill="#7a7d86"/>
<rect x="453.83" y="610.37" width="1.1" height="8.43" fill="#7a7d86"/>
<rect x="455.50" y="615.49" width="1.1" height="3.31" fill="#7a7d86"/>
<rect x="457.18" y="614.86" width="1.1" height="3.94" fill="#7a7d86"/>
<rect x="458.85" y="614.28" width="1.1" height="4.52" fill="#93969e"/>
<rect x="460.52" y="610.66" width="1.1" height="8.14" fill="#93969e"/>
<rect x="462.20" y="612.66" width="1.1" height="6.14" fill="#7a7d86"/>
<rect x="463.87" y="611.67" width="1.1" height="7.13" fill="#93969e"/>
<rect x="465.54" y="610.01" width="1.1" height="8.79" fill="#93969e"/>
<rect x="467.22" y="613.93" width="1.1" height="4.87" fill="#93969e"/>
<rect x="468.89" y="609.61" width="1.1" height="9.19" fill="#7a7d86"/>
<rect x="470.56" y="608.15" width="1.1" height="10.65" fill="#7a7d86"/>
<rect x="472.24" y="616.05" width="1.1" height="2.75" fill="#93969e"/>
<rect x="473.91" y="607.85" width="1.1" height="10.95" fill="#93969e"/>
<rect x="475.58" y="610.56" width="1.1" height="8.24" fill="#93969e"/>
<rect x="477.26" y="615.87" width="1.1" height="2.93" fill="#93969e"/>
<rect x="478.93" y="613.47" width="1.1" height="5.33" fill="#93969e"/>
<rect x="480.60" y="611.73" width="1.1" height="7.07" fill="#7a7d86"/>
<rect x="482.28" y="608.30" width="1.1" height="10.50" fill="#93969e"/>
<rect x="483.95" y="614.20" width="1.1" height="4.60" fill="#7a7d86"/>
<rect x="485.62" y="612.39" width="1.1" height="6.41" fill="#7a7d86"/>
<rect x="487.30" y="608.78" width="1.1" height="10.02" fill="#93969e"/>
<rect x="488.97" y="609.85" width="1.1" height="8.95" fill="#7a7d86"/>
<rect x="490.64" y="607.99" width="1.1" height="10.81" fill="#93969e"/>
<rect x="492.32" y="613.50" width="1.1" height="5.30" fill="#93969e"/>
<rect x="493.99" y="611.60" width="1.1" height="7.20" fill="#93969e"/>
<rect x="495.66" y="615.54" width="1.1" height="3.26" fill="#93969e"/>
<rect x="497.34" y="610.85" width="1.1" height="7.95" fill="#93969e"/>
<rect x="499.01" y="609.73" width="1.1" height="9.07" fill="#93969e"/>
<rect x="500.68" y="611.79" width="1.1" height="7.01" fill="#93969e"/>
<rect x="502.36" y="610.97" width="1.1" height="7.83" fill="#7a7d86"/>
<rect x="504.03" y="615.54" width="1.1" height="3.26" fill="#93969e"/>
<rect x="505.70" y="608.82" width="1.1" height="9.98" fill="#7a7d86"/>
<rect x="507.38" y="607.81" width="1.1" height="10.99" fill="#93969e"/>
<rect x="509.05" y="607.88" width="1.1" height="10.92" fill="#93969e"/>
<rect x="510.72" y="612.97" width="1.1" height="5.83" fill="#93969e"/>
<rect x="512.40" y="610.26" width="1.1" height="8.54" fill="#7a7d86"/>
<rect x="514.07" y="614.87" width="1.1" height="3.93" fill="#7a7d86"/>
<rect x="515.74" y="608.86" width="1.1" height="9.94" fill="#93969e"/>
<rect x="517.42" y="609.56" width="1.1" height="9.24" fill="#93969e"/>
<rect x="519.09" y="614.69" width="1.1" height="4.11" fill="#7a7d86"/>
<rect x="520.76" y="616.28" width="1.1" height="2.52" fill="#7a7d86"/>
<rect x="522.44" y="613.96" width="1.1" height="4.84" fill="#93969e"/>
<rect x="524.11" y="612.98" width="1.1" height="5.82" fill="#7a7d86"/>
<rect x="525.78" y="610.71" width="1.1" height="8.09" fill="#93969e"/>
<rect x="527.46" y="613.59" width="1.1" height="5.21" fill="#7a7d86"/>
<rect x="529.13" y="616.48" width="1.1" height="2.32" fill="#93969e"/>
<rect x="530.80" y="610.32" width="1.1" height="8.48" fill="#93969e"/>
<rect x="532.48" y="616.39" width="1.1" height="2.41" fill="#7a7d86"/>
<rect x="534.15" y="610.47" width="1.1" height="8.33" fill="#7a7d86"/>
<rect x="535.82" y="615.94" width="1.1" height="2.86" fill="#7a7d86"/>
<rect x="537.50" y="614.92" width="1.1" height="3.88" fill="#7a7d86"/>
<rect x="539.17" y="610.68" width="1.1" height="8.12" fill="#93969e"/>
<rect x="540.84" y="616.12" width="1.1" height="2.68" fill="#7a7d86"/>
<rect x="542.52" y="616.09" width="1.1" height="2.71" fill="#7a7d86"/>
<rect x="544.19" y="613.49" width="1.1" height="5.31" fill="#93969e"/>
<rect x="545.86" y="611.47" width="1.1" height="7.33" fill="#7a7d86"/>
<rect x="547.54" y="610.22" width="1.1" height="8.58" fill="#93969e"/>
<rect x="549.21" y="611.87" width="1.1" height="6.93" fill="#93969e"/>
<rect x="550.88" y="609.04" width="1.1" height="9.76" fill="#7a7d86"/>
<rect x="552.56" y="613.78" width="1.1" height="5.02" fill="#7a7d86"/>
<rect x="554.23" y="609.06" width="1.1" height="9.74" fill="#93969e"/>
<rect x="555.90" y="616.42" width="1.1" height="2.38" fill="#93969e"/>
<rect x="557.58" y="615.79" width="1.1" height="3.01" fill="#93969e"/>
<rect x="559.25" y="613.54" width="1.1" height="5.26" fill="#7a7d86"/>
<rect x="560.92" y="615.38" width="1.1" height="3.42" fill="#7a7d86"/>
<rect x="562.60" y="611.64" width="1.1" height="7.16" fill="#93969e"/>
<rect x="564.27" y="612.56" width="1.1" height="6.24" fill="#7a7d86"/>
<rect x="565.94" y="613.64" width="1.1" height="5.16" fill="#7a7d86"/>
<rect x="567.62" y="610.49" width="1.1" height="8.31" fill="#93969e"/>
<rect x="569.29" y="613.35" width="1.1" height="5.45" fill="#93969e"/>
<rect x="570.96" y="615.31" width="1.1" height="3.49" fill="#93969e"/>
<rect x="572.64" y="614.83" width="1.1" height="3.97" fill="#93969e"/>
<rect x="574.31" y="610.58" width="1.1" height="8.22" fill="#93969e"/>
<rect x="575.98" y="610.00" width="1.1" height="8.80" fill="#7a7d86"/>
<rect x="577.66" y="615.97" width="1.1" height="2.83" fill="#93969e"/>
<rect x="579.33" y="610.60" width="1.1" height="8.20" fill="#7a7d86"/>
<rect x="581.00" y="609.31" width="1.1" height="9.49" fill="#93969e"/>
<rect x="582.68" y="613.79" width="1.1" height="5.01" fill="#7a7d86"/>
<rect x="584.35" y="613.39" width="1.1" height="5.41" fill="#7a7d86"/>
<rect x="586.02" y="616.05" width="1.1" height="2.75" fill="#93969e"/>
<rect x="587.70" y="613.74" width="1.1" height="5.06" fill="#7a7d86"/>
<rect x="589.37" y="614.03" width="1.1" height="4.77" fill="#7a7d86"/>
<rect x="591.04" y="613.18" width="1.1" height="5.62" fill="#93969e"/>
<rect x="592.72" y="616.74" width="1.1" height="2.06" fill="#93969e"/>
<rect x="594.39" y="609.55" width="1.1" height="9.25" fill="#93969e"/>
<rect x="596.06" y="613.99" width="1.1" height="4.81" fill="#7a7d86"/>
<rect x="597.74" y="614.89" width="1.1" height="3.91" fill="#93969e"/>
<rect x="599.41" y="611.42" width="1.1" height="7.38" fill="#7a7d86"/>
<rect x="601.08" y="612.65" width="1.1" height="6.15" fill="#7a7d86"/>
<rect x="602.76" y="612.45" width="1.1" height="6.35" fill="#7a7d86"/>
<rect x="604.43" y="608.83" width="1.1" height="9.97" fill="#7a7d86"/>
<rect x="606.10" y="615.02" width="1.1" height="3.78" fill="#7a7d86"/>
<rect x="607.78" y="609.01" width="1.1" height="9.79" fill="#7a7d86"/>
<rect x="609.45" y="610.14" width="1.1" height="8.66" fill="#7a7d86"/>
<rect x="611.12" y="597.50" width="1.1" height="21.30" fill="#7a7d86"/>
<rect x="612.80" y="597.99" width="1.1" height="20.81" fill="#7a7d86"/>
<rect x="614.47" y="611.46" width="1.1" height="7.34" fill="#7a7d86"/>
<rect x="616.14" y="608.08" width="1.1" height="10.72" fill="#93969e"/>
<rect x="617.82" y="613.14" width="1.1" height="5.66" fill="#93969e"/>
<rect x="619.49" y="608.76" width="1.1" height="10.04" fill="#7a7d86"/>
<rect x="621.16" y="600.52" width="1.1" height="18.28" fill="#7a7d86"/>
<rect x="622.84" y="598.34" width="1.1" height="20.46" fill="#93969e"/>
<rect x="624.51" y="607.91" width="1.1" height="10.89" fill="#7a7d86"/>
<rect x="626.18" y="610.64" width="1.1" height="8.16" fill="#7a7d86"/>
<rect x="627.86" y="612.37" width="1.1" height="6.43" fill="#7a7d86"/>
<rect x="629.53" y="604.96" width="1.1" height="13.84" fill="#7a7d86"/>
<rect x="631.20" y="597.48" width="1.1" height="21.32" fill="#93969e"/>
<rect x="632.88" y="613.01" width="1.1" height="5.79" fill="#93969e"/>
<rect x="634.55" y="601.13" width="1.1" height="17.67" fill="#7a7d86"/>
<rect x="636.22" y="613.79" width="1.1" height="5.01" fill="#93969e"/>
<rect x="637.90" y="612.26" width="1.1" height="6.54" fill="#93969e"/>
<rect x="639.57" y="611.82" width="1.1" height="6.98" fill="#7a7d86"/>
<rect x="641.24" y="603.20" width="1.1" height="15.60" fill="#7a7d86"/>
<rect x="642.92" y="610.40" width="1.1" height="8.40" fill="#7a7d86"/>
<rect x="644.59" y="609.84" width="1.1" height="8.96" fill="#7a7d86"/>
<rect x="646.26" y="604.64" width="1.1" height="14.16" fill="#7a7d86"/>
<rect x="647.94" y="613.15" width="1.1" height="5.65" fill="#7a7d86"/>
<rect x="649.61" y="602.00" width="1.1" height="16.80" fill="#7a7d86"/>
<rect x="651.28" y="612.95" width="1.1" height="5.85" fill="#7a7d86"/>
<rect x="652.96" y="606.86" width="1.1" height="11.94" fill="#93969e"/>
<rect x="654.63" y="583.80" width="1.1" height="35.00" fill="#7a7d86"/>
<rect x="656.30" y="612.07" width="1.1" height="6.73" fill="#93969e"/>
<rect x="657.98" y="606.38" width="1.1" height="12.42" fill="#7a7d86"/>
<rect x="659.65" y="608.21" width="1.1" height="10.59" fill="#7a7d86"/>
<rect x="661.32" y="609.31" width="1.1" height="9.49" fill="#7a7d86"/>
<rect x="663.00" y="608.61" width="1.1" height="10.19" fill="#93969e"/>
<rect x="664.67" y="606.30" width="1.1" height="12.50" fill="#93969e"/>
<rect x="666.34" y="612.45" width="1.1" height="6.35" fill="#93969e"/>
<rect x="668.02" y="611.89" width="1.1" height="6.91" fill="#7a7d86"/>
<rect x="669.69" y="603.98" width="1.1" height="14.82" fill="#93969e"/>
<rect x="671.36" y="603.79" width="1.1" height="15.01" fill="#7a7d86"/>
<rect x="673.04" y="606.18" width="1.1" height="12.62" fill="#93969e"/>
<rect x="674.71" y="598.39" width="1.1" height="20.41" fill="#93969e"/>
<rect x="676.38" y="604.32" width="1.1" height="14.48" fill="#93969e"/>
<rect x="678.06" y="598.17" width="1.1" height="20.63" fill="#93969e"/>
<rect x="679.73" y="611.38" width="1.1" height="7.42" fill="#93969e"/>
<rect x="681.40" y="600.69" width="1.1" height="18.11" fill="#7a7d86"/>
<rect x="683.08" y="598.40" width="1.1" height="20.40" fill="#7a7d86"/>
<rect x="684.75" y="595.27" width="1.1" height="23.53" fill="#93969e"/>
<rect x="686.42" y="609.30" width="1.1" height="9.50" fill="#93969e"/>
<rect x="688.10" y="609.12" width="1.1" height="9.68" fill="#93969e"/>
<rect x="689.77" y="593.10" width="1.1" height="25.70" fill="#7a7d86"/>
<rect x="691.44" y="610.42" width="1.1" height="8.38" fill="#93969e"/>
<rect x="693.12" y="589.48" width="1.1" height="29.32" fill="#7a7d86"/>
<rect x="694.79" y="592.73" width="1.1" height="26.07" fill="#7a7d86"/>
<rect x="696.46" y="611.19" width="1.1" height="7.61" fill="#93969e"/>
<rect x="698.14" y="609.38" width="1.1" height="9.42" fill="#7a7d86"/>
<rect x="699.81" y="596.65" width="1.1" height="22.15" fill="#7a7d86"/>
<rect x="701.48" y="608.65" width="1.1" height="10.15" fill="#93969e"/>
<rect x="703.16" y="611.11" width="1.1" height="7.69" fill="#93969e"/>
<rect x="704.83" y="591.77" width="1.1" height="27.03" fill="#7a7d86"/>
<rect x="706.50" y="604.31" width="1.1" height="14.49" fill="#93969e"/>
<rect x="708.18" y="592.40" width="1.1" height="26.40" fill="#93969e"/>
<rect x="709.85" y="610.17" width="1.1" height="8.63" fill="#93969e"/>
<rect x="711.52" y="604.09" width="1.1" height="14.71" fill="#93969e"/>
<rect x="713.20" y="594.94" width="1.1" height="23.86" fill="#93969e"/>
<rect x="714.87" y="610.98" width="1.1" height="7.82" fill="#7a7d86"/>
<rect x="716.54" y="608.27" width="1.1" height="10.53" fill="#93969e"/>
<rect x="718.22" y="593.92" width="1.1" height="24.88" fill="#93969e"/>
<rect x="719.89" y="584.22" width="1.1" height="34.58" fill="#7a7d86"/>
<rect x="721.56" y="581.15" width="1.1" height="37.65" fill="#93969e"/>
<rect x="723.24" y="609.22" width="1.1" height="9.58" fill="#93969e"/>
<rect x="724.91" y="598.90" width="1.1" height="19.90" fill="#7a7d86"/>
<rect x="726.58" y="588.93" width="1.1" height="29.87" fill="#93969e"/>
<rect x="728.26" y="572.80" width="1.1" height="46.00" fill="#93969e"/>
<rect x="729.93" y="591.21" width="1.1" height="27.59" fill="#93969e"/>
<rect x="731.60" y="607.19" width="1.1" height="11.61" fill="#93969e"/>
<rect x="733.28" y="609.24" width="1.1" height="9.56" fill="#7a7d86"/>
<rect x="734.95" y="608.65" width="1.1" height="10.15" fill="#7a7d86"/>
<rect x="736.62" y="609.51" width="1.1" height="9.29" fill="#93969e"/>
<rect x="738.30" y="595.71" width="1.1" height="23.09" fill="#93969e"/>
<rect x="739.97" y="596.95" width="1.1" height="21.85" fill="#93969e"/>
<rect x="741.64" y="594.76" width="1.1" height="24.04" fill="#93969e"/>
<rect x="743.32" y="607.57" width="1.1" height="11.23" fill="#93969e"/>
<rect x="744.99" y="606.69" width="1.1" height="12.11" fill="#7a7d86"/>
<rect x="746.66" y="606.17" width="1.1" height="12.63" fill="#7a7d86"/>
<rect x="748.34" y="582.07" width="1.1" height="36.73" fill="#93969e"/>
<rect x="750.01" y="574.17" width="1.1" height="44.63" fill="#7a7d86"/>
<rect x="751.68" y="577.24" width="1.1" height="41.56" fill="#93969e"/>
<rect x="753.36" y="608.12" width="1.1" height="10.68" fill="#93969e"/>
<rect x="755.03" y="608.56" width="1.1" height="10.24" fill="#93969e"/>
<rect x="756.70" y="575.19" width="1.1" height="43.61" fill="#93969e"/>
<rect x="758.38" y="597.47" width="1.1" height="21.33" fill="#93969e"/>
<rect x="760.05" y="584.25" width="1.1" height="34.55" fill="#7a7d86"/>
<rect x="761.72" y="601.95" width="1.1" height="16.85" fill="#7a7d86"/>
<rect x="763.40" y="596.91" width="1.1" height="21.89" fill="#7a7d86"/>
<rect x="765.07" y="594.88" width="1.1" height="23.92" fill="#93969e"/>
<rect x="766.74" y="598.06" width="1.1" height="20.74" fill="#7a7d86"/>
<rect x="768.42" y="590.96" width="1.1" height="27.84" fill="#7a7d86"/>
<rect x="770.09" y="608.55" width="1.1" height="10.25" fill="#7a7d86"/>
<rect x="771.76" y="585.99" width="1.1" height="32.81" fill="#93969e"/>
<rect x="773.44" y="578.51" width="1.1" height="40.29" fill="#93969e"/>
<rect x="775.11" y="605.43" width="1.1" height="13.37" fill="#93969e"/>
<rect x="776.78" y="596.42" width="1.1" height="22.38" fill="#93969e"/>
<rect x="778.46" y="583.34" width="1.1" height="35.46" fill="#93969e"/>
<rect x="780.13" y="598.07" width="1.1" height="20.73" fill="#7a7d86"/>
<rect x="781.80" y="604.78" width="1.1" height="14.02" fill="#93969e"/>
<rect x="783.48" y="605.47" width="1.1" height="13.33" fill="#7a7d86"/>
<rect x="785.15" y="593.35" width="1.1" height="25.45" fill="#7a7d86"/>
<rect x="786.82" y="607.96" width="1.1" height="10.84" fill="#7a7d86"/>
<rect x="788.50" y="573.71" width="1.1" height="45.09" fill="#93969e"/>
<rect x="790.17" y="574.80" width="1.1" height="44.00" fill="#93969e"/>
<rect x="791.84" y="583.59" width="1.1" height="35.21" fill="#7a7d86"/>
<rect x="793.52" y="574.87" width="1.1" height="43.93" fill="#7a7d86"/>
<rect x="795.19" y="587.05" width="1.1" height="31.75" fill="#93969e"/>
<rect x="796.86" y="596.97" width="1.1" height="21.83" fill="#7a7d86"/>
<rect x="798.54" y="588.19" width="1.1" height="30.61" fill="#7a7d86"/>
<rect x="800.21" y="483.80" width="1.1" height="135.00" fill="#7a7d86"/>
<rect x="801.88" y="566.54" width="1.1" height="52.26" fill="#7a7d86"/>
<rect x="803.56" y="577.08" width="1.1" height="41.72" fill="#7a7d86"/>
<rect x="805.23" y="601.98" width="1.1" height="16.82" fill="#93969e"/>
<rect x="806.90" y="570.65" width="1.1" height="48.15" fill="#7a7d86"/>
<rect x="808.58" y="580.22" width="1.1" height="38.58" fill="#7a7d86"/>
<rect x="810.25" y="578.28" width="1.1" height="40.52" fill="#93969e"/>
<rect x="811.92" y="568.80" width="1.1" height="50.00" fill="#7a7d86"/>
<rect x="813.60" y="596.39" width="1.1" height="22.41" fill="#93969e"/>
<rect x="815.27" y="571.09" width="1.1" height="47.71" fill="#93969e"/>
<rect x="816.94" y="572.01" width="1.1" height="46.79" fill="#7a7d86"/>
<rect x="818.62" y="582.49" width="1.1" height="36.31" fill="#93969e"/>
<rect x="820.29" y="578.43" width="1.1" height="40.37" fill="#93969e"/>
<rect x="821.96" y="578.47" width="1.1" height="40.33" fill="#93969e"/>
<rect x="823.64" y="596.13" width="1.1" height="22.67" fill="#93969e"/>
<rect x="825.31" y="580.70" width="1.1" height="38.10" fill="#7a7d86"/>
<rect x="826.98" y="606.43" width="1.1" height="12.37" fill="#7a7d86"/>
<rect x="828.66" y="598.55" width="1.1" height="20.25" fill="#93969e"/>
<rect x="830.33" y="593.24" width="1.1" height="25.56" fill="#7a7d86"/>
<rect x="832.00" y="607.13" width="1.1" height="11.67" fill="#7a7d86"/>
<rect x="833.68" y="597.90" width="1.1" height="20.90" fill="#7a7d86"/>
<rect x="835.35" y="584.81" width="1.1" height="33.99" fill="#93969e"/>
<rect x="837.02" y="559.80" width="1.1" height="59.00" fill="#93969e"/>
<rect x="838.70" y="602.18" width="1.1" height="16.62" fill="#7a7d86"/>
<rect x="840.37" y="566.69" width="1.1" height="52.11" fill="#93969e"/>
<rect x="842.04" y="583.10" width="1.1" height="35.70" fill="#7a7d86"/>
<rect x="843.72" y="598.36" width="1.1" height="20.44" fill="#7a7d86"/>
<rect x="845.39" y="583.31" width="1.1" height="35.49" fill="#93969e"/>
<rect x="847.06" y="587.94" width="1.1" height="30.86" fill="#93969e"/>
<rect x="848.74" y="589.69" width="1.1" height="29.11" fill="#7a7d86"/>
<rect x="850.41" y="596.13" width="1.1" height="22.67" fill="#7a7d86"/>
<rect x="852.08" y="562.38" width="1.1" height="56.42" fill="#93969e"/>
<rect x="853.76" y="583.93" width="1.1" height="34.87" fill="#7a7d86"/>
<rect x="855.43" y="580.62" width="1.1" height="38.18" fill="#7a7d86"/>
<rect x="857.10" y="563.80" width="1.1" height="55.00" fill="#7a7d86"/>
<rect x="858.78" y="563.30" width="1.1" height="55.50" fill="#7a7d86"/>
<rect x="860.45" y="606.66" width="1.1" height="12.14" fill="#93969e"/>
<line x1="6" y1="145.5" x2="1146.5" y2="145.5" stroke="#96505c" stroke-width="1"/>
<line x1="6" y1="204.3" x2="1146.5" y2="204.3" stroke="#303136" stroke-width="1.1"/>
<line x1="109" y1="324.5" x2="1146.5" y2="324.5" stroke="#96505c" stroke-width="1"/>
<line x1="400" y1="398.2" x2="1146.5" y2="398.2" stroke="#3f7a48" stroke-width="1"/>
<line x1="6" y1="375.8" x2="1146.5" y2="375.8" stroke="#7d8089" stroke-width="0.9" stroke-dasharray="1.2 1"/>
<line x1="6" y1="462.3" x2="1146.5" y2="462.3" stroke="#2e2f33" stroke-width="1" stroke-dasharray="3 3.4" stroke-dashoffset="4.3"/>
<line x1="6" y1="500.3" x2="1146.5" y2="500.3" stroke="#2e2f33" stroke-width="1" stroke-dasharray="3 3.4" stroke-dashoffset="4.3"/>
<rect x="132.9" y="241" width="21.8" height="8.8" fill="rgba(148,94,102,0.46)"/>
<rect x="260" y="225" width="576" height="15" fill="rgba(93,95,103,0.5)"/>
<rect x="343" y="310" width="400" height="16.7" fill="rgba(148,94,102,0.46)"/>
<rect x="812.4" y="193" width="170.4" height="30.1" fill="rgba(148,94,102,0.46)"/>
<rect x="662.1" y="419.8" width="149.5" height="29.8" fill="rgba(97,139,107,0.5)"/>
<rect x="297.5" y="322" width="20.5" height="6" fill="rgba(97,139,107,0.5)"/>
<line x1="4" y1="190.2" x2="168" y2="232" stroke="#2a2b30" stroke-width="0.9"/>
<line x1="32" y1="244.6" x2="52" y2="226.5" stroke="#2a2b30" stroke-width="0.9"/>
<polyline points="46.5,227.5 52.3,226.3 50.5,231.8" fill="none" stroke="#2a2b30" stroke-width="0.9"/>
<text x="90" y="138.9" fill="#1d1e22" font-family="'DejaVu Sans', sans-serif" font-size="9.0" font-style="italic" stroke="#1d1e22" stroke-width="0.22" textLength="122.7" lengthAdjust="spacingAndGlyphs">New ATH and liquidity taken!</text>
<text x="5.5" y="174.8" fill="#1d1e22" font-family="'DejaVu Sans', sans-serif" font-size="7.8" font-style="italic" stroke="#1d1e22" stroke-width="0.22" textLength="238" lengthAdjust="spacingAndGlyphs">l liquidity taken here in these tops --&gt; quick return towards the</text>
<text x="5.5" y="182.9" fill="#1d1e22" font-family="'DejaVu Sans', sans-serif" font-size="7.8" font-style="italic" stroke="#1d1e22" stroke-width="0.22" textLength="51.5" lengthAdjust="spacingAndGlyphs">sistance zone.</text>
<text x="4.5" y="200.8" fill="#1d1e22" font-family="'DejaVu Sans', sans-serif" font-size="7.8" font-style="italic" stroke="#1d1e22" stroke-width="0.22" textLength="66.2" lengthAdjust="spacingAndGlyphs">nd new ATHs.cusd</text>
<text x="3.6" y="286.7" fill="#1d1e22" font-family="'DejaVu Sans', sans-serif" font-size="8.8" font-style="italic" stroke="#1d1e22" stroke-width="0.22" textLength="39.4" lengthAdjust="spacingAndGlyphs">be taken.</text>
<text x="282.8" y="224.3" fill="#1d1e22" font-family="'DejaVu Sans', sans-serif" font-size="8.4" font-style="italic" stroke="#1d1e22" stroke-width="0.22" textLength="46.2" lengthAdjust="spacingAndGlyphs">Retest here?</text>
<text x="60" y="360.8" fill="#1d1e22" font-family="'DejaVu Sans', sans-serif" font-size="9.2" font-style="italic" stroke="#1d1e22" stroke-width="0.22" textLength="219" lengthAdjust="spacingAndGlyphs">If history repeats, then beneath here = great entry.</text>
<text x="472" y="440.0" fill="#1d1e22" font-family="'DejaVu Sans', sans-serif" font-size="8.4" font-style="italic" stroke="#1d1e22" stroke-width="0.22" textLength="128.4" lengthAdjust="spacingAndGlyphs">Area to start looking for buys.</text>
<text x="870" y="182.5" fill="#1d1e22" font-family="'DejaVu Sans', sans-serif" font-size="8.0" font-style="italic" stroke="#1d1e22" stroke-width="0.22" textLength="157.4" lengthAdjust="spacingAndGlyphs">Potential area to break before a new ATH.</text>
<path d="M6.00,219.70 C7.50,219.58 12.50,217.50 15.00,219.00 C17.50,220.50 19.00,225.97 21.00,228.70 C23.00,231.43 25.00,234.42 27.00,235.40 C29.00,236.38 30.50,235.33 33.00,234.60 C35.50,233.87 39.33,232.48 42.00,231.00 C44.67,229.52 47.08,226.95 49.00,225.70 C50.92,224.45 51.75,224.12 53.50,223.50 C55.25,222.88 57.02,221.63 59.50,222.00 C61.98,222.37 65.43,224.58 68.40,225.70 C71.37,226.82 74.45,227.65 77.30,228.70 C80.15,229.75 82.55,228.45 85.50,232.00 C88.45,235.55 91.83,243.33 95.00,250.00 C98.17,256.67 101.33,266.50 104.50,272.00 C107.67,277.50 111.42,280.92 114.00,283.00 C116.58,285.08 116.07,283.67 120.00,284.50 C123.93,285.33 133.43,287.92 137.60,288.00 C141.77,288.08 142.60,285.83 145.00,285.00 C147.40,284.17 150.17,284.50 152.00,283.00 C153.83,281.50 154.67,278.75 156.00,276.00 C157.33,273.25 158.00,269.67 160.00,266.50 C162.00,263.33 165.22,259.15 168.00,257.00 C170.78,254.85 173.77,256.77 176.70,253.60 C179.63,250.43 182.63,243.77 185.60,238.00 C188.57,232.23 191.53,222.70 194.50,219.00 C197.47,215.30 200.42,217.82 203.40,215.80 C206.38,213.78 209.80,210.98 212.40,206.90 C215.00,202.82 217.33,194.45 219.00,191.30 C220.67,188.15 221.28,187.45 222.40,188.00 C223.52,188.55 224.03,192.20 225.70,194.60 C227.37,197.00 230.18,199.25 232.40,202.40 C234.62,205.55 236.07,209.97 239.00,213.50 C241.93,217.03 247.23,221.18 250.00,223.60 C252.77,226.02 252.10,223.10 255.60,228.00 C259.10,232.90 265.80,245.17 271.00,253.00 C276.20,260.83 281.30,268.23 286.80,275.00 C292.30,281.77 300.37,292.60 304.00,293.60 C307.63,294.60 305.77,283.93 308.60,281.00 C311.43,278.07 316.83,272.33 321.00,276.00 C325.17,279.67 329.43,294.87 333.60,303.00 C337.77,311.13 341.85,321.17 346.00,324.80 C350.15,328.43 354.33,324.80 358.50,324.80 C362.67,324.80 367.35,321.17 371.00,324.80 C374.65,328.43 377.23,341.07 380.40,346.60 C383.57,352.13 386.73,354.65 390.00,358.00 C393.27,361.35 396.23,366.20 400.00,366.70 C403.77,367.20 407.22,365.28 412.60,361.00 C417.98,356.72 426.67,344.75 432.30,341.00 C437.93,337.25 442.15,338.37 446.40,338.50 C450.65,338.63 453.53,341.88 457.80,341.80 C462.07,341.72 467.63,340.05 472.00,338.00 C476.37,335.95 480.62,331.25 484.00,329.50 C487.38,327.75 490.30,328.62 492.30,327.50 C494.30,326.38 494.05,325.77 496.00,322.80 C497.95,319.83 501.45,313.67 504.00,309.70 C506.55,305.73 508.63,303.15 511.30,299.00 C513.97,294.85 516.72,289.22 520.00,284.80 C523.28,280.38 527.27,274.72 531.00,272.50 C534.73,270.28 539.40,271.75 542.40,271.50 C545.40,271.25 546.80,271.50 549.00,271.00 C551.20,270.50 553.43,269.92 555.60,268.50 C557.77,267.08 559.40,265.08 562.00,262.50 C564.60,259.92 567.85,255.08 571.20,253.00 C574.55,250.92 578.47,249.50 582.10,250.00 C585.73,250.50 588.85,254.17 593.00,256.00 C597.15,257.83 603.62,259.17 607.00,261.00 C610.38,262.83 610.97,263.17 613.30,267.00 C615.63,270.83 617.62,278.50 621.00,284.00 C624.38,289.50 629.93,296.07 633.60,300.00 C637.27,303.93 639.88,302.43 643.00,307.60 C646.12,312.77 648.67,324.50 652.30,331.00 C655.93,337.50 660.90,342.70 664.80,346.60 C668.70,350.50 672.07,356.00 675.70,354.40 C679.33,352.80 684.22,341.47 686.60,337.00 C688.98,332.53 688.27,331.60 690.00,327.60 C691.73,323.60 694.67,317.93 697.00,313.00 C699.33,308.07 701.67,304.67 704.00,298.00 C706.33,291.33 708.63,281.47 711.00,273.00 C713.37,264.53 715.58,255.73 718.20,247.20 C720.82,238.67 723.90,230.27 726.70,221.80 C729.50,213.33 732.18,203.92 735.00,196.40 C737.82,188.88 740.77,182.60 743.60,176.70 C746.43,170.80 749.18,165.70 752.00,161.00 C754.82,156.30 758.37,151.17 760.50,148.50 C762.63,145.83 763.38,145.08 764.80,145.00 C766.22,144.92 767.37,146.25 769.00,148.00 C770.63,149.75 772.77,154.00 774.60,155.50 C776.43,157.00 777.60,155.97 780.00,157.00 C782.40,158.03 786.43,160.03 789.00,161.70 C791.57,163.37 793.98,164.78 795.40,167.00 C796.82,169.22 796.73,170.33 797.50,175.00 C798.27,179.67 799.08,188.17 800.00,195.00 C800.92,201.83 801.83,208.67 803.00,216.00 C804.17,223.33 805.67,232.33 807.00,239.00 C808.33,245.67 809.67,251.17 811.00,256.00 C812.33,260.83 813.73,264.67 815.00,268.00 C816.27,271.33 817.43,274.42 818.60,276.00 C819.77,277.58 820.72,277.17 822.00,277.50 C823.28,277.83 824.30,277.08 826.30,278.00 C828.30,278.92 831.42,280.25 834.00,283.00 C836.58,285.75 838.57,289.37 841.80,294.50 C845.03,299.63 850.05,306.72 853.40,313.80 C856.75,320.88 860.48,333.13 861.90,337.00" fill="none" stroke="#4a7eee" stroke-width="1.05"/>
<line x1="2.58" y1="218.36" x2="2.58" y2="223.46" stroke="#106a20" stroke-width="0.75" opacity="0.6"/>
<rect x="1.78" y="220.90" width="1.6" height="1.10" fill="#106a20"/>
<line x1="4.25" y1="215.26" x2="4.25" y2="222.31" stroke="#106a20" stroke-width="0.75" opacity="0.6"/>
<rect x="3.45" y="219.39" width="1.6" height="1.51" fill="#106a20"/>
<line x1="5.93" y1="217.18" x2="5.93" y2="228.39" stroke="#8c1222" stroke-width="0.75" opacity="0.6"/>
<rect x="5.13" y="219.39" width="1.6" height="4.46" fill="#8c1222"/>
<line x1="7.60" y1="216.37" x2="7.60" y2="225.16" stroke="#106a20" stroke-width="0.75" opacity="0.6"/>
<rect x="6.80" y="218.47" width="1.6" height="5.38" fill="#106a20"/>
<line x1="9.27" y1="205.81" x2="9.27" y2="220.99" stroke="#106a20" stroke-width="0.75" opacity="0.6"/>
<rect x="8.47" y="209.66" width="1.6" height="8.81" fill="#106a20"/>
<line x1="10.95" y1="202.63" x2="10.95" y2="231.21" stroke="#8c1222" stroke-width="0.75" opacity="0.6"/>
<rect x="10.15" y="209.66" width="1.6" height="14.33" fill="#8c1222"/>
<line x1="12.62" y1="212.56" x2="12.62" y2="225.75" stroke="#106a20" stroke-width="0.75" opacity="0.6"/>
<rect x="11.82" y="214.93" width="1.6" height="9.05" fill="#106a20"/>
<line x1="14.29" y1="209.19" x2="14.29" y2="217.98" stroke="#106a20" stroke-width="0.75" opacity="0.6"/>
<rect x="13.49" y="211.77" width="1.6" height="3.17" fill="#106a20"/>
<line x1="15.97" y1="209.67" x2="15.97" y2="218.37" stroke="#8c1222" stroke-width="0.75" opacity="0.6"/>
<rect x="15.17" y="211.77" width="1.6" height="3.49" fill="#8c1222"/>
<line x1="17.64" y1="212.55" x2="17.64" y2="234.73" stroke="#8c1222" stroke-width="0.75" opacity="0.6"/>
<rect x="16.84" y="215.26" width="1.6" height="14.32" fill="#8c1222"/>
<line x1="19.31" y1="226.18" x2="19.31" y2="246.00" stroke="#8c1222" stroke-width="0.75" opacity="0.6"/>
<rect x="18.51" y="229.59" width="1.6" height="14.51" fill="#8c1222"/>
<line x1="20.99" y1="241.10" x2="20.99" y2="271.03" stroke="#8c1222" stroke-width="0.75" opacity="0.6"/>
<rect x="20.19" y="244.10" width="1.6" height="25.39" fill="#8c1222"/>
<line x1="22.66" y1="260.43" x2="22.66" y2="279.00" stroke="#106a20" stroke-width="0.75" opacity="0.6"/>
<rect x="21.86" y="264.66" width="1.6" height="4.83" fill="#106a20"/>
<line x1="24.33" y1="259.91" x2="24.33" y2="266.19" stroke="#106a20" stroke-width="0.75" opacity="0.6"/>
<rect x="23.53" y="263.58" width="1.6" height="1.08" fill="#106a20"/>
<line x1="26.01" y1="243.02" x2="26.01" y2="264.37" stroke="#106a20" stroke-width="0.75" opacity="0.6"/>
<rect x="25.21" y="249.28" width="1.6" height="14.30" fill="#106a20"/>
<line x1="27.68" y1="236.00" x2="27.68" y2="251.11" stroke="#106a20" stroke-width="0.75" opacity="0.6"/>
<rect x="26.88" y="244.26" width="1.6" height="5.03" fill="#106a20"/>
<line x1="29.35" y1="232.01" x2="29.35" y2="246.75" stroke="#106a20" stroke-width="0.75" opacity="0.6"/>
<rect x="28.55" y="235.72" width="1.6" height="8.54" fill="#106a20"/>
<line x1="31.03" y1="229.55" x2="31.03" y2="240.36" stroke="#8c1222" stroke-width="0.75" opacity="0.6"/>
<rect x="30.23" y="235.72" width="1.6" height="0.89" fill="#8c1222"/>
<line x1="32.70" y1="228.03" x2="32.70" y2="242.69" stroke="#106a20" stroke-width="0.75" opacity="0.6"/>
<rect x="31.90" y="232.23" width="1.6" height="4.38" fill="#106a20"/>
<line x1="34.37" y1="229.19" x2="34.37" y2="237.76" stroke="#106a20" stroke-width="0.75" opacity="0.6"/>
<rect x="33.57" y="230.24" width="1.6" height="1.98" fill="#106a20"/>
<line x1="36.05" y1="227.32" x2="36.05" y2="232.92" stroke="#8c1222" stroke-width="0.75" opacity="0.6"/>
<rect x="35.25" y="230.24" width="1.6" height="0.80" fill="#8c1222"/>
<line x1="37.72" y1="218.00" x2="37.72" y2="233.22" stroke="#106a20" stroke-width="0.75" opacity="0.6"/>
<rect x="36.92" y="222.28" width="1.6" height="8.32" fill="#106a20"/>
<line x1="39.39" y1="213.96" x2="39.39" y2="239.89" stroke="#8c1222" stroke-width="0.75" opacity="0.6"/>
<rect x="38.59" y="222.28" width="1.6" height="11.47" fill="#8c1222"/>
<line x1="41.07" y1="219.84" x2="41.07" y2="236.55" stroke="#106a20" stroke-width="0.75" opacity="0.6"/>
<rect x="40.27" y="225.93" width="1.6" height="7.83" fill="#106a20"/>
<line x1="42.74" y1="204.05" x2="42.74" y2="227.89" stroke="#106a20" stroke-width="0.75" opacity="0.6"/>
<rect x="41.94" y="214.22" width="1.6" height="11.71" fill="#106a20"/>
<line x1="44.41" y1="206.91" x2="44.41" y2="218.53" stroke="#106a20" stroke-width="0.75" opacity="0.6"/>
<rect x="43.61" y="211.77" width="1.6" height="2.45" fill="#106a20"/>
<line x1="46.09" y1="210.57" x2="46.09" y2="215.01" stroke="#8c1222" stroke-width="0.75" opacity="0.6"/>
<rect x="45.29" y="211.77" width="1.6" height="1.71" fill="#8c1222"/>
<line x1="47.76" y1="199.87" x2="47.76" y2="216.43" stroke="#106a20" stroke-width="0.75" opacity="0.6"/>
<rect x="46.96" y="206.53" width="1.6" height="6.95" fill="#106a20"/>
<line x1="49.43" y1="203.85" x2="49.43" y2="214.61" stroke="#8c1222" stroke-width="0.75" opacity="0.6"/>
<rect x="48.63" y="206.53" width="1.6" height="1.52" fill="#8c1222"/>
<line x1="51.11" y1="203.82" x2="51.11" y2="219.44" stroke="#8c1222" stroke-width="0.75" opacity="0.6"/>
<rect x="50.31" y="208.05" width="1.6" height="8.78" fill="#8c1222"/>
<line x1="52.78" y1="205.62" x2="52.78" y2="220.63" stroke="#106a20" stroke-width="0.75" opacity="0.6"/>
<rect x="51.98" y="208.63" width="1.6" height="8.20" fill="#106a20"/>
<line x1="54.45" y1="207.33" x2="54.45" y2="219.59" stroke="#8c1222" stroke-width="0.75" opacity="0.6"/>
<rect x="53.65" y="208.63" width="1.6" height="6.49" fill="#8c1222"/>
<line x1="56.13" y1="208.40" x2="56.13" y2="222.87" stroke="#8c1222" stroke-width="0.75" opacity="0.6"/>
<rect x="55.33" y="215.12" width="1.6" height="5.05" fill="#8c1222"/>
<line x1="57.80" y1="218.34" x2="57.80" y2="225.72" stroke="#8c1222" stroke-width="0.75" opacity="0.6"/>
<rect x="57.00" y="220.17" width="1.6" height="2.48" fill="#8c1222"/>
<line x1="59.47" y1="214.88" x2="59.47" y2="225.77" stroke="#106a20" stroke-width="0.75" opacity="0.6"/>
<rect x="58.67" y="219.83" width="1.6" height="2.82" fill="#106a20"/>
<line x1="61.15" y1="209.94" x2="61.15" y2="220.54" stroke="#106a20" stroke-width="0.75" opacity="0.6"/>
<rect x="60.35" y="214.50" width="1.6" height="5.34" fill="#106a20"/>
<line x1="62.82" y1="208.25" x2="62.82" y2="220.67" stroke="#106a20" stroke-width="0.75" opacity="0.6"/>
<rect x="62.02" y="212.44" width="1.6" height="2.05" fill="#106a20"/>
<line x1="64.49" y1="206.60" x2="64.49" y2="224.11" stroke="#8c1222" stroke-width="0.75" opacity="0.6"/>
<rect x="63.69" y="212.44" width="1.6" height="10.55" fill="#8c1222"/>
<line x1="66.17" y1="221.26" x2="66.17" y2="239.63" stroke="#8c1222" stroke-width="0.75" opacity="0.6"/>
<rect x="65.37" y="222.99" width="1.6" height="10.70" fill="#8c1222"/>
<line x1="67.84" y1="223.67" x2="67.84" y2="239.11" stroke="#106a20" stroke-width="0.75" opacity="0.6"/>
<rect x="67.04" y="229.06" width="1.6" height="4.63" fill="#106a20"/>
<line x1="69.51" y1="222.59" x2="69.51" y2="233.95" stroke="#106a20" stroke-width="0.75" opacity="0.6"/>
<rect x="68.71" y="225.59" width="1.6" height="3.48" fill="#106a20"/>
<line x1="71.19" y1="223.68" x2="71.19" y2="231.39" stroke="#8c1222" stroke-width="0.75" opacity="0.6"/>
<rect x="70.39" y="225.59" width="1.6" height="4.66" fill="#8c1222"/>
<line x1="72.86" y1="227.47" x2="72.86" y2="233.51" stroke="#8c1222" stroke-width="0.75" opacity="0.6"/>
<rect x="72.06" y="230.25" width="1.6" height="1.98" fill="#8c1222"/>
<line x1="74.53" y1="229.46" x2="74.53" y2="239.93" stroke="#8c1222" stroke-width="0.75" opacity="0.6"/>
<rect x="73.73" y="232.24" width="1.6" height="7.09" fill="#8c1222"/>
<line x1="76.21" y1="236.58" x2="76.21" y2="262.00" stroke="#8c1222" stroke-width="0.75" opacity="0.6"/>
<rect x="75.41" y="239.33" width="1.6" height="2.75" fill="#8c1222"/>
<line x1="77.88" y1="230.13" x2="77.88" y2="244.09" stroke="#106a20" stroke-width="0.75" opacity="0.6"/>
<rect x="77.08" y="232.36" width="1.6" height="9.72" fill="#106a20"/>
<line x1="79.55" y1="216.73" x2="79.55" y2="234.24" stroke="#106a20" stroke-width="0.75" opacity="0.6"/>
<rect x="78.75" y="220.84" width="1.6" height="11.52" fill="#106a20"/>
<line x1="81.23" y1="212.53" x2="81.23" y2="231.18" stroke="#106a20" stroke-width="0.75" opacity="0.6"/>
<rect x="80.43" y="220.11" width="1.6" height="0.80" fill="#106a20"/>
<line x1="82.90" y1="215.44" x2="82.90" y2="222.23" stroke="#106a20" stroke-width="0.75" opacity="0.6"/>
<rect x="82.10" y="216.97" width="1.6" height="3.15" fill="#106a20"/>
<line x1="84.57" y1="214.73" x2="84.57" y2="240.28" stroke="#8c1222" stroke-width="0.75" opacity="0.6"/>
<rect x="83.77" y="216.97" width="1.6" height="20.22" fill="#8c1222"/>
<line x1="86.25" y1="234.60" x2="86.25" y2="260.40" stroke="#8c1222" stroke-width="0.75" opacity="0.6"/>
<rect x="85.45" y="237.19" width="1.6" height="13.38" fill="#8c1222"/>
<line x1="87.92" y1="247.86" x2="87.92" y2="260.72" stroke="#8c1222" stroke-width="0.75" opacity="0.6"/>
<rect x="87.12" y="250.56" width="1.6" height="9.18" fill="#8c1222"/>
<line x1="89.59" y1="258.91" x2="89.59" y2="275.85" stroke="#8c1222" stroke-width="0.75" opacity="0.6"/>
<rect x="88.79" y="259.75" width="1.6" height="5.14" fill="#8c1222"/>
<line x1="91.27" y1="260.45" x2="91.27" y2="279.28" stroke="#8c1222" stroke-width="0.75" opacity="0.6"/>
<rect x="90.47" y="264.89" width="1.6" height="9.35" fill="#8c1222"/>
<line x1="92.94" y1="270.02" x2="92.94" y2="288.27" stroke="#8c1222" stroke-width="0.75" opacity="0.6"/>
<rect x="92.14" y="274.24" width="1.6" height="10.17" fill="#8c1222"/>
<line x1="94.61" y1="277.35" x2="94.61" y2="301.42" stroke="#8c1222" stroke-width="0.75" opacity="0.6"/>
<rect x="93.81" y="284.41" width="1.6" height="15.07" fill="#8c1222"/>
<line x1="96.29" y1="293.78" x2="96.29" y2="304.23" stroke="#106a20" stroke-width="0.75" opacity="0.6"/>
<rect x="95.49" y="296.75" width="1.6" height="2.73" fill="#106a20"/>
<line x1="97.96" y1="280.37" x2="97.96" y2="302.85" stroke="#106a20" stroke-width="0.75" opacity="0.6"/>
<rect x="97.16" y="285.10" width="1.6" height="11.65" fill="#106a20"/>
<line x1="99.63" y1="278.83" x2="99.63" y2="298.47" stroke="#8c1222" stroke-width="0.75" opacity="0.6"/>
<rect x="98.83" y="285.10" width="1.6" height="12.10" fill="#8c1222"/>
<line x1="101.31" y1="296.04" x2="101.31" y2="304.69" stroke="#8c1222" stroke-width="0.75" opacity="0.6"/>
<rect x="100.51" y="297.20" width="1.6" height="6.16" fill="#8c1222"/>
<line x1="102.98" y1="302.23" x2="102.98" y2="309.28" stroke="#8c1222" stroke-width="0.75" opacity="0.6"/>
<rect x="102.18" y="303.36" width="1.6" height="4.98" fill="#8c1222"/>
<line x1="104.65" y1="303.76" x2="104.65" y2="321.58" stroke="#8c1222" stroke-width="0.75" opacity="0.6"/>
<rect x="103.85" y="308.35" width="1.6" height="11.51" fill="#8c1222"/>
<line x1="106.33" y1="314.90" x2="106.33" y2="334.20" stroke="#8c1222" stroke-width="0.75" opacity="0.6"/>
<rect x="105.53" y="319.86" width="1.6" height="10.26" fill="#8c1222"/>
<line x1="108.00" y1="307.75" x2="108.00" y2="333.40" stroke="#106a20" stroke-width="0.75" opacity="0.6"/>
<rect x="107.20" y="308.86" width="1.6" height="21.26" fill="#106a20"/>
<line x1="109.67" y1="296.58" x2="109.67" y2="315.26" stroke="#106a20" stroke-width="0.75" opacity="0.6"/>
<rect x="108.87" y="299.61" width="1.6" height="9.25" fill="#106a20"/>
<line x1="111.35" y1="285.88" x2="111.35" y2="303.87" stroke="#106a20" stroke-width="0.75" opacity="0.6"/>
<rect x="110.55" y="288.82" width="1.6" height="10.79" fill="#106a20"/>
<line x1="113.02" y1="281.36" x2="113.02" y2="294.23" stroke="#106a20" stroke-width="0.75" opacity="0.6"/>
<rect x="112.22" y="287.55" width="1.6" height="1.27" fill="#106a20"/>
<line x1="114.69" y1="281.35" x2="114.69" y2="295.99" stroke="#8c1222" stroke-width="0.75" opacity="0.6"/>
<rect x="113.89" y="287.55" width="1.6" height="4.28" fill="#8c1222"/>
<line x1="116.37" y1="280.34" x2="116.37" y2="295.33" stroke="#106a20" stroke-width="0.75" opacity="0.6"/>
<rect x="115.57" y="285.27" width="1.6" height="6.55" fill="#106a20"/>
<line x1="118.04" y1="281.29" x2="118.04" y2="295.80" stroke="#8c1222" stroke-width="0.75" opacity="0.6"/>
<rect x="117.24" y="285.27" width="1.6" height="4.00" fill="#8c1222"/>
<line x1="119.71" y1="285.04" x2="119.71" y2="297.37" stroke="#106a20" stroke-width="0.75" opacity="0.6"/>
<rect x="118.91" y="286.32" width="1.6" height="2.96" fill="#106a20"/>
<line x1="121.39" y1="285.35" x2="121.39" y2="291.97" stroke="#8c1222" stroke-width="0.75" opacity="0.6"/>
<rect x="120.59" y="286.32" width="1.6" height="2.76" fill="#8c1222"/>
<line x1="123.06" y1="278.59" x2="123.06" y2="295.37" stroke="#106a20" stroke-width="0.75" opacity="0.6"/>
<rect x="122.26" y="280.75" width="1.6" height="8.33" fill="#106a20"/>
<line x1="124.73" y1="270.56" x2="124.73" y2="287.00" stroke="#106a20" stroke-width="0.75" opacity="0.6"/>
<rect x="123.93" y="275.48" width="1.6" height="5.27" fill="#106a20"/>
<line x1="126.41" y1="274.19" x2="126.41" y2="287.56" stroke="#8c1222" stroke-width="0.75" opacity="0.6"/>
<rect x="125.61" y="275.48" width="1.6" height="8.65" fill="#8c1222"/>
<line x1="128.08" y1="283.10" x2="128.08" y2="286.77" stroke="#8c1222" stroke-width="0.75" opacity="0.6"/>
<rect x="127.28" y="284.13" width="1.6" height="1.57" fill="#8c1222"/>
<line x1="129.75" y1="284.10" x2="129.75" y2="305.35" stroke="#8c1222" stroke-width="0.75" opacity="0.6"/>
<rect x="128.95" y="285.70" width="1.6" height="10.32" fill="#8c1222"/>
<line x1="131.43" y1="288.38" x2="131.43" y2="302.18" stroke="#8c1222" stroke-width="0.75" opacity="0.6"/>
<rect x="130.63" y="296.02" width="1.6" height="2.45" fill="#8c1222"/>
<line x1="133.10" y1="295.55" x2="133.10" y2="309.60" stroke="#8c1222" stroke-width="0.75" opacity="0.6"/>
<rect x="132.30" y="298.47" width="1.6" height="10.49" fill="#8c1222"/>
<line x1="134.77" y1="303.59" x2="134.77" y2="314.60" stroke="#106a20" stroke-width="0.75" opacity="0.6"/>
<rect x="133.97" y="304.49" width="1.6" height="4.48" fill="#106a20"/>
<line x1="136.45" y1="291.57" x2="136.45" y2="310.75" stroke="#106a20" stroke-width="0.75" opacity="0.6"/>
<rect x="135.65" y="296.12" width="1.6" height="8.37" fill="#106a20"/>
<line x1="138.12" y1="292.97" x2="138.12" y2="304.19" stroke="#8c1222" stroke-width="0.75" opacity="0.6"/>
<rect x="137.32" y="296.12" width="1.6" height="4.12" fill="#8c1222"/>
<line x1="139.79" y1="280.80" x2="139.79" y2="308.30" stroke="#106a20" stroke-width="0.75" opacity="0.6"/>
<rect x="138.99" y="285.52" width="1.6" height="14.72" fill="#106a20"/>
<line x1="141.47" y1="280.24" x2="141.47" y2="300.08" stroke="#8c1222" stroke-width="0.75" opacity="0.6"/>
<rect x="140.67" y="285.52" width="1.6" height="13.91" fill="#8c1222"/>
<line x1="143.14" y1="289.11" x2="143.14" y2="302.28" stroke="#106a20" stroke-width="0.75" opacity="0.6"/>
<rect x="142.34" y="289.82" width="1.6" height="9.61" fill="#106a20"/>
<line x1="144.81" y1="280.06" x2="144.81" y2="290.59" stroke="#106a20" stroke-width="0.75" opacity="0.6"/>
<rect x="144.01" y="287.47" width="1.6" height="2.35" fill="#106a20"/>
<line x1="146.49" y1="274.96" x2="146.49" y2="288.82" stroke="#106a20" stroke-width="0.75" opacity="0.6"/>
<rect x="145.69" y="279.36" width="1.6" height="8.11" fill="#106a20"/>
<line x1="148.16" y1="267.03" x2="148.16" y2="284.04" stroke="#106a20" stroke-width="0.75" opacity="0.6"/>
<rect x="147.36" y="269.74" width="1.6" height="9.62" fill="#106a20"/>
<line x1="149.83" y1="264.80" x2="149.83" y2="274.17" stroke="#106a20" stroke-width="0.75" opacity="0.6"/>
<rect x="149.03" y="267.67" width="1.6" height="2.07" fill="#106a20"/>
<line x1="151.51" y1="267.04" x2="151.51" y2="275.51" stroke="#8c1222" stroke-width="0.75" opacity="0.6"/>
<rect x="150.71" y="267.67" width="1.6" height="4.18" fill="#8c1222"/>
<line x1="153.18" y1="249.64" x2="153.18" y2="278.39" stroke="#106a20" stroke-width="0.75" opacity="0.6"/>
<rect x="152.38" y="254.72" width="1.6" height="17.13" fill="#106a20"/>
<line x1="154.85" y1="237.95" x2="154.85" y2="257.47" stroke="#106a20" stroke-width="0.75" opacity="0.6"/>
<rect x="154.05" y="242.06" width="1.6" height="12.66" fill="#106a20"/>
<line x1="156.53" y1="232.01" x2="156.53" y2="248.48" stroke="#106a20" stroke-width="0.75" opacity="0.6"/>
<rect x="155.73" y="235.54" width="1.6" height="6.52" fill="#106a20"/>
<line x1="158.20" y1="230.46" x2="158.20" y2="244.28" stroke="#8c1222" stroke-width="0.75" opacity="0.6"/>
<rect x="157.40" y="235.54" width="1.6" height="6.76" fill="#8c1222"/>
<line x1="159.87" y1="235.75" x2="159.87" y2="245.33" stroke="#106a20" stroke-width="0.75" opacity="0.6"/>
<rect x="159.07" y="237.60" width="1.6" height="4.70" fill="#106a20"/>
<line x1="161.55" y1="234.24" x2="161.55" y2="243.84" stroke="#8c1222" stroke-width="0.75" opacity="0.6"/>
<rect x="160.75" y="237.60" width="1.6" height="4.60" fill="#8c1222"/>
<line x1="163.22" y1="238.27" x2="163.22" y2="243.90" stroke="#106a20" stroke-width="0.75" opacity="0.6"/>
<rect x="162.42" y="242.19" width="1.6" height="0.80" fill="#106a20"/>
<line x1="164.89" y1="238.63" x2="164.89" y2="251.58" stroke="#8c1222" stroke-width="0.75" opacity="0.6"/>
<rect x="164.09" y="242.19" width="1.6" height="5.94" fill="#8c1222"/>
<line x1="166.57" y1="246.29" x2="166.57" y2="260.88" stroke="#8c1222" stroke-width="0.75" opacity="0.6"/>
<rect x="165.77" y="248.13" width="1.6" height="7.08" fill="#8c1222"/>
<line x1="168.24" y1="250.42" x2="168.24" y2="263.73" stroke="#106a20" stroke-width="0.75" opacity="0.6"/>
<rect x="167.44" y="252.74" width="1.6" height="2.48" fill="#106a20"/>
<line x1="169.91" y1="245.82" x2="169.91" y2="254.47" stroke="#106a20" stroke-width="0.75" opacity="0.6"/>
<rect x="169.11" y="251.40" width="1.6" height="1.34" fill="#106a20"/>
<line x1="171.59" y1="234.95" x2="171.59" y2="258.68" stroke="#106a20" stroke-width="0.75" opacity="0.6"/>
<rect x="170.79" y="242.93" width="1.6" height="8.47" fill="#106a20"/>
<line x1="173.26" y1="233.12" x2="173.26" y2="247.31" stroke="#8c1222" stroke-width="0.75" opacity="0.6"/>
<rect x="172.46" y="242.93" width="1.6" height="0.80" fill="#8c1222"/>
<line x1="174.93" y1="235.42" x2="174.93" y2="252.72" stroke="#8c1222" stroke-width="0.75" opacity="0.6"/>
<rect x="174.13" y="243.19" width="1.6" height="8.48" fill="#8c1222"/>
<line x1="176.61" y1="246.58" x2="176.61" y2="255.71" stroke="#106a20" stroke-width="0.75" opacity="0.6"/>
<rect x="175.81" y="250.61" width="1.6" height="1.06" fill="#106a20"/>
<line x1="178.28" y1="237.58" x2="178.28" y2="254.35" stroke="#106a20" stroke-width="0.75" opacity="0.6"/>
<rect x="177.48" y="239.30" width="1.6" height="11.31" fill="#106a20"/>
<line x1="179.95" y1="227.31" x2="179.95" y2="243.76" stroke="#106a20" stroke-width="0.75" opacity="0.6"/>
<rect x="179.15" y="228.65" width="1.6" height="10.64" fill="#106a20"/>
<line x1="181.63" y1="215.84" x2="181.63" y2="229.64" stroke="#106a20" stroke-width="0.75" opacity="0.6"/>
<rect x="180.83" y="219.83" width="1.6" height="8.83" fill="#106a20"/>
<line x1="183.30" y1="212.23" x2="183.30" y2="230.56" stroke="#106a20" stroke-width="0.75" opacity="0.6"/>
<rect x="182.50" y="216.03" width="1.6" height="3.80" fill="#106a20"/>
<line x1="184.97" y1="213.01" x2="184.97" y2="233.38" stroke="#8c1222" stroke-width="0.75" opacity="0.6"/>
<rect x="184.17" y="216.03" width="1.6" height="6.90" fill="#8c1222"/>
<line x1="186.65" y1="213.31" x2="186.65" y2="229.93" stroke="#106a20" stroke-width="0.75" opacity="0.6"/>
<rect x="185.85" y="215.73" width="1.6" height="7.20" fill="#106a20"/>
<line x1="188.32" y1="186.58" x2="188.32" y2="218.32" stroke="#106a20" stroke-width="0.75" opacity="0.6"/>
<rect x="187.52" y="187.44" width="1.6" height="28.29" fill="#106a20"/>
<line x1="189.99" y1="155.14" x2="189.99" y2="189.27" stroke="#106a20" stroke-width="0.75" opacity="0.6"/>
<rect x="189.19" y="159.67" width="1.6" height="27.77" fill="#106a20"/>
<line x1="191.67" y1="154.03" x2="191.67" y2="182.46" stroke="#8c1222" stroke-width="0.75" opacity="0.6"/>
<rect x="190.87" y="159.67" width="1.6" height="15.31" fill="#8c1222"/>
<line x1="193.34" y1="171.85" x2="193.34" y2="185.73" stroke="#8c1222" stroke-width="0.75" opacity="0.6"/>
<rect x="192.54" y="174.98" width="1.6" height="9.04" fill="#8c1222"/>
<line x1="195.01" y1="181.91" x2="195.01" y2="205.16" stroke="#8c1222" stroke-width="0.75" opacity="0.6"/>
<rect x="194.21" y="184.02" width="1.6" height="16.84" fill="#8c1222"/>
<line x1="196.69" y1="196.31" x2="196.69" y2="222.00" stroke="#8c1222" stroke-width="0.75" opacity="0.6"/>
<rect x="195.89" y="200.86" width="1.6" height="16.01" fill="#8c1222"/>
<line x1="198.36" y1="200.50" x2="198.36" y2="221.22" stroke="#106a20" stroke-width="0.75" opacity="0.6"/>
<rect x="197.56" y="207.58" width="1.6" height="9.29" fill="#106a20"/>
<line x1="200.03" y1="203.90" x2="200.03" y2="226.76" stroke="#8c1222" stroke-width="0.75" opacity="0.6"/>
<rect x="199.23" y="207.58" width="1.6" height="15.27" fill="#8c1222"/>
<line x1="201.71" y1="208.17" x2="201.71" y2="226.29" stroke="#106a20" stroke-width="0.75" opacity="0.6"/>
<rect x="200.91" y="216.97" width="1.6" height="5.87" fill="#106a20"/>
<line x1="203.38" y1="209.02" x2="203.38" y2="220.34" stroke="#106a20" stroke-width="0.75" opacity="0.6"/>
<rect x="202.58" y="211.61" width="1.6" height="5.37" fill="#106a20"/>
<line x1="205.05" y1="201.86" x2="205.05" y2="213.64" stroke="#106a20" stroke-width="0.75" opacity="0.6"/>
<rect x="204.25" y="204.20" width="1.6" height="7.41" fill="#106a20"/>
<line x1="206.73" y1="202.08" x2="206.73" y2="206.03" stroke="#106a20" stroke-width="0.75" opacity="0.6"/>
<rect x="205.93" y="203.47" width="1.6" height="0.80" fill="#106a20"/>
<line x1="208.40" y1="202.68" x2="208.40" y2="208.33" stroke="#8c1222" stroke-width="0.75" opacity="0.6"/>
<rect x="207.60" y="203.47" width="1.6" height="1.12" fill="#8c1222"/>
<line x1="210.07" y1="194.63" x2="210.07" y2="205.61" stroke="#106a20" stroke-width="0.75" opacity="0.6"/>
<rect x="209.27" y="195.24" width="1.6" height="9.36" fill="#106a20"/>
<line x1="211.75" y1="194.63" x2="211.75" y2="198.20" stroke="#8c1222" stroke-width="0.75" opacity="0.6"/>
<rect x="210.95" y="195.24" width="1.6" height="1.69" fill="#8c1222"/>
<line x1="213.42" y1="182.23" x2="213.42" y2="199.13" stroke="#106a20" stroke-width="0.75" opacity="0.6"/>
<rect x="212.62" y="187.61" width="1.6" height="9.32" fill="#106a20"/>
<line x1="215.09" y1="177.99" x2="215.09" y2="188.93" stroke="#106a20" stroke-width="0.75" opacity="0.6"/>
<rect x="214.29" y="180.24" width="1.6" height="7.38" fill="#106a20"/>
<line x1="216.77" y1="159.52" x2="216.77" y2="188.04" stroke="#106a20" stroke-width="0.75" opacity="0.6"/>
<rect x="215.97" y="163.79" width="1.6" height="16.45" fill="#106a20"/>
<line x1="218.44" y1="146.58" x2="218.44" y2="167.20" stroke="#106a20" stroke-width="0.75" opacity="0.6"/>
<rect x="217.64" y="150.72" width="1.6" height="13.07" fill="#106a20"/>
<line x1="220.11" y1="130.13" x2="220.11" y2="155.27" stroke="#106a20" stroke-width="0.75" opacity="0.6"/>
<rect x="219.31" y="140.72" width="1.6" height="10.00" fill="#106a20"/>
<line x1="221.79" y1="138.67" x2="221.79" y2="167.37" stroke="#8c1222" stroke-width="0.75" opacity="0.6"/>
<rect x="220.99" y="140.72" width="1.6" height="20.85" fill="#8c1222"/>
<line x1="223.46" y1="158.98" x2="223.46" y2="182.26" stroke="#8c1222" stroke-width="0.75" opacity="0.6"/>
<rect x="222.66" y="161.56" width="1.6" height="18.20" fill="#8c1222"/>
<line x1="225.13" y1="173.53" x2="225.13" y2="214.84" stroke="#8c1222" stroke-width="0.75" opacity="0.6"/>
<rect x="224.33" y="179.77" width="1.6" height="31.79" fill="#8c1222"/>
<line x1="226.81" y1="208.69" x2="226.81" y2="227.64" stroke="#8c1222" stroke-width="0.75" opacity="0.6"/>
<rect x="226.01" y="211.56" width="1.6" height="9.19" fill="#8c1222"/>
<line x1="228.48" y1="216.26" x2="228.48" y2="232.37" stroke="#8c1222" stroke-width="0.75" opacity="0.6"/>
<rect x="227.68" y="220.75" width="1.6" height="6.91" fill="#8c1222"/>
<line x1="230.15" y1="216.53" x2="230.15" y2="229.38" stroke="#106a20" stroke-width="0.75" opacity="0.6"/>
<rect x="229.35" y="219.90" width="1.6" height="7.75" fill="#106a20"/>
<line x1="231.83" y1="217.04" x2="231.83" y2="224.17" stroke="#8c1222" stroke-width="0.75" opacity="0.6"/>
<rect x="231.03" y="219.90" width="1.6" height="0.80" fill="#8c1222"/>
<line x1="233.50" y1="202.81" x2="233.50" y2="225.43" stroke="#106a20" stroke-width="0.75" opacity="0.6"/>
<rect x="232.70" y="213.09" width="1.6" height="7.03" fill="#106a20"/>
<line x1="235.17" y1="212.14" x2="235.17" y2="231.27" stroke="#8c1222" stroke-width="0.75" opacity="0.6"/>
<rect x="234.37" y="213.09" width="1.6" height="7.72" fill="#8c1222"/>
<line x1="236.85" y1="216.89" x2="236.85" y2="241.32" stroke="#8c1222" stroke-width="0.75" opacity="0.6"/>
<rect x="236.05" y="220.81" width="1.6" height="16.18" fill="#8c1222"/>
<line x1="238.52" y1="231.96" x2="238.52" y2="239.82" stroke="#8c1222" stroke-width="0.75" opacity="0.6"/>
<rect x="237.72" y="236.99" width="1.6" height="1.52" fill="#8c1222"/>
<line x1="240.19" y1="233.46" x2="240.19" y2="242.08" stroke="#106a20" stroke-width="0.75" opacity="0.6"/>
<rect x="239.39" y="238.35" width="1.6" height="0.80" fill="#106a20"/>
<line x1="241.87" y1="230.96" x2="241.87" y2="241.00" stroke="#106a20" stroke-width="0.75" opacity="0.6"/>
<rect x="241.07" y="234.80" width="1.6" height="3.55" fill="#106a20"/>
<line x1="243.54" y1="233.99" x2="243.54" y2="236.49" stroke="#8c1222" stroke-width="0.75" opacity="0.6"/>
<rect x="242.74" y="234.80" width="1.6" height="0.80" fill="#8c1222"/>
<line x1="245.21" y1="230.36" x2="245.21" y2="242.62" stroke="#8c1222" stroke-width="0.75" opacity="0.6"/>
<rect x="244.41" y="234.97" width="1.6" height="4.66" fill="#8c1222"/>
<line x1="246.89" y1="228.03" x2="246.89" y2="241.89" stroke="#106a20" stroke-width="0.75" opacity="0.6"/>
<rect x="246.09" y="234.19" width="1.6" height="5.44" fill="#106a20"/>
<line x1="248.56" y1="223.73" x2="248.56" y2="236.95" stroke="#106a20" stroke-width="0.75" opacity="0.6"/>
<rect x="247.76" y="226.92" width="1.6" height="7.27" fill="#106a20"/>
<line x1="250.23" y1="226.11" x2="250.23" y2="237.45" stroke="#8c1222" stroke-width="0.75" opacity="0.6"/>
<rect x="249.43" y="226.92" width="1.6" height="9.05" fill="#8c1222"/>
<line x1="251.91" y1="215.64" x2="251.91" y2="238.53" stroke="#106a20" stroke-width="0.75" opacity="0.6"/>
<rect x="251.11" y="223.19" width="1.6" height="12.78" fill="#106a20"/>
<line x1="253.58" y1="219.23" x2="253.58" y2="231.43" stroke="#8c1222" stroke-width="0.75" opacity="0.6"/>
<rect x="252.78" y="223.19" width="1.6" height="6.93" fill="#8c1222"/>
<line x1="255.25" y1="213.62" x2="255.25" y2="234.28" stroke="#106a20" stroke-width="0.75" opacity="0.6"/>
<rect x="254.45" y="217.19" width="1.6" height="12.93" fill="#106a20"/>
<line x1="256.93" y1="216.39" x2="256.93" y2="226.54" stroke="#8c1222" stroke-width="0.75" opacity="0.6"/>
<rect x="256.13" y="217.19" width="1.6" height="6.36" fill="#8c1222"/>
<line x1="258.60" y1="216.01" x2="258.60" y2="239.47" stroke="#8c1222" stroke-width="0.75" opacity="0.6"/>
<rect x="257.80" y="223.55" width="1.6" height="11.28" fill="#8c1222"/>
<line x1="260.27" y1="228.89" x2="260.27" y2="253.84" stroke="#8c1222" stroke-width="0.75" opacity="0.6"/>
<rect x="259.47" y="234.82" width="1.6" height="18.29" fill="#8c1222"/>
<line x1="261.95" y1="250.11" x2="261.95" y2="271.07" stroke="#8c1222" stroke-width="0.75" opacity="0.6"/>
<rect x="261.15" y="253.12" width="1.6" height="14.69" fill="#8c1222"/>
<line x1="263.62" y1="262.78" x2="263.62" y2="280.95" stroke="#8c1222" stroke-width="0.75" opacity="0.6"/>
<rect x="262.82" y="267.81" width="1.6" height="7.55" fill="#8c1222"/>
<line x1="265.29" y1="253.73" x2="265.29" y2="280.05" stroke="#106a20" stroke-width="0.75" opacity="0.6"/>
<rect x="264.49" y="258.36" width="1.6" height="17.00" fill="#106a20"/>
<line x1="266.97" y1="251.20" x2="266.97" y2="260.82" stroke="#106a20" stroke-width="0.75" opacity="0.6"/>
<rect x="266.17" y="251.82" width="1.6" height="6.54" fill="#106a20"/>
<line x1="268.64" y1="246.51" x2="268.64" y2="254.06" stroke="#8c1222" stroke-width="0.75" opacity="0.6"/>
<rect x="267.84" y="251.82" width="1.6" height="1.56" fill="#8c1222"/>
<line x1="270.31" y1="251.59" x2="270.31" y2="270.52" stroke="#8c1222" stroke-width="0.75" opacity="0.6"/>
<rect x="269.51" y="253.38" width="1.6" height="16.30" fill="#8c1222"/>
<line x1="271.99" y1="266.41" x2="271.99" y2="277.13" stroke="#8c1222" stroke-width="0.75" opacity="0.6"/>
<rect x="271.19" y="269.68" width="1.6" height="5.51" fill="#8c1222"/>
<line x1="273.66" y1="272.03" x2="273.66" y2="287.17" stroke="#8c1222" stroke-width="0.75" opacity="0.6"/>
<rect x="272.86" y="275.19" width="1.6" height="10.73" fill="#8c1222"/>
<line x1="275.33" y1="280.63" x2="275.33" y2="286.65" stroke="#106a20" stroke-width="0.75" opacity="0.6"/>
<rect x="274.53" y="284.96" width="1.6" height="0.95" fill="#106a20"/>
<line x1="277.01" y1="283.61" x2="277.01" y2="299.68" stroke="#8c1222" stroke-width="0.75" opacity="0.6"/>
<rect x="276.21" y="284.96" width="1.6" height="13.55" fill="#8c1222"/>
<line x1="278.68" y1="293.32" x2="278.68" y2="300.31" stroke="#106a20" stroke-width="0.75" opacity="0.6"/>
<rect x="277.88" y="294.88" width="1.6" height="3.64" fill="#106a20"/>
<line x1="280.35" y1="291.95" x2="280.35" y2="299.33" stroke="#8c1222" stroke-width="0.75" opacity="0.6"/>
<rect x="279.55" y="294.88" width="1.6" height="3.72" fill="#8c1222"/>
<line x1="282.03" y1="292.76" x2="282.03" y2="299.44" stroke="#106a20" stroke-width="0.75" opacity="0.6"/>
<rect x="281.23" y="293.91" width="1.6" height="4.69" fill="#106a20"/>
<line x1="283.70" y1="292.19" x2="283.70" y2="305.10" stroke="#8c1222" stroke-width="0.75" opacity="0.6"/>
<rect x="282.90" y="293.91" width="1.6" height="7.85" fill="#8c1222"/>
<line x1="285.37" y1="287.41" x2="285.37" y2="305.17" stroke="#106a20" stroke-width="0.75" opacity="0.6"/>
<rect x="284.57" y="289.43" width="1.6" height="12.33" fill="#106a20"/>
<line x1="287.05" y1="286.02" x2="287.05" y2="291.90" stroke="#106a20" stroke-width="0.75" opacity="0.6"/>
<rect x="286.25" y="287.06" width="1.6" height="2.37" fill="#106a20"/>
<line x1="288.72" y1="283.84" x2="288.72" y2="289.22" stroke="#106a20" stroke-width="0.75" opacity="0.6"/>
<rect x="287.92" y="286.43" width="1.6" height="0.80" fill="#106a20"/>
<line x1="290.39" y1="284.61" x2="290.39" y2="308.84" stroke="#8c1222" stroke-width="0.75" opacity="0.6"/>
<rect x="289.59" y="286.43" width="1.6" height="17.62" fill="#8c1222"/>
<line x1="292.07" y1="299.02" x2="292.07" y2="313.68" stroke="#106a20" stroke-width="0.75" opacity="0.6"/>
<rect x="291.27" y="303.86" width="1.6" height="0.80" fill="#106a20"/>
<line x1="293.74" y1="302.32" x2="293.74" y2="309.14" stroke="#8c1222" stroke-width="0.75" opacity="0.6"/>
<rect x="292.94" y="303.86" width="1.6" height="2.39" fill="#8c1222"/>
<line x1="295.41" y1="304.42" x2="295.41" y2="328.13" stroke="#8c1222" stroke-width="0.75" opacity="0.6"/>
<rect x="294.61" y="306.25" width="1.6" height="16.42" fill="#8c1222"/>
<line x1="297.09" y1="313.88" x2="297.09" y2="325.21" stroke="#106a20" stroke-width="0.75" opacity="0.6"/>
<rect x="296.29" y="318.08" width="1.6" height="4.59" fill="#106a20"/>
<line x1="298.76" y1="307.39" x2="298.76" y2="322.78" stroke="#106a20" stroke-width="0.75" opacity="0.6"/>
<rect x="297.96" y="309.93" width="1.6" height="8.15" fill="#106a20"/>
<line x1="300.43" y1="305.46" x2="300.43" y2="313.76" stroke="#8c1222" stroke-width="0.75" opacity="0.6"/>
<rect x="299.63" y="309.93" width="1.6" height="2.28" fill="#8c1222"/>
<line x1="302.11" y1="310.76" x2="302.11" y2="320.77" stroke="#8c1222" stroke-width="0.75" opacity="0.6"/>
<rect x="301.31" y="312.21" width="1.6" height="7.89" fill="#8c1222"/>
<line x1="303.78" y1="311.50" x2="303.78" y2="323.77" stroke="#106a20" stroke-width="0.75" opacity="0.6"/>
<rect x="302.98" y="312.20" width="1.6" height="7.90" fill="#106a20"/>
<line x1="305.45" y1="239.00" x2="305.45" y2="315.50" stroke="#106a20" stroke-width="0.75" opacity="0.6"/>
<rect x="304.65" y="253.44" width="1.6" height="58.76" fill="#106a20"/>
<line x1="307.13" y1="235.05" x2="307.13" y2="260.38" stroke="#106a20" stroke-width="0.75" opacity="0.6"/>
<rect x="306.33" y="242.31" width="1.6" height="11.13" fill="#106a20"/>
<line x1="308.80" y1="240.69" x2="308.80" y2="256.31" stroke="#8c1222" stroke-width="0.75" opacity="0.6"/>
<rect x="308.00" y="242.31" width="1.6" height="11.77" fill="#8c1222"/>
<line x1="310.47" y1="250.80" x2="310.47" y2="270.14" stroke="#8c1222" stroke-width="0.75" opacity="0.6"/>
<rect x="309.67" y="254.08" width="1.6" height="12.90" fill="#8c1222"/>
<line x1="312.15" y1="258.85" x2="312.15" y2="270.31" stroke="#106a20" stroke-width="0.75" opacity="0.6"/>
<rect x="311.35" y="262.08" width="1.6" height="4.89" fill="#106a20"/>
<line x1="313.82" y1="261.45" x2="313.82" y2="275.96" stroke="#8c1222" stroke-width="0.75" opacity="0.6"/>
<rect x="313.02" y="262.08" width="1.6" height="10.70" fill="#8c1222"/>
<line x1="315.49" y1="272.00" x2="315.49" y2="274.78" stroke="#8c1222" stroke-width="0.75" opacity="0.6"/>
<rect x="314.69" y="272.79" width="1.6" height="0.80" fill="#8c1222"/>
<line x1="317.17" y1="268.10" x2="317.17" y2="277.71" stroke="#8c1222" stroke-width="0.75" opacity="0.6"/>
<rect x="316.37" y="273.00" width="1.6" height="2.14" fill="#8c1222"/>
<line x1="318.84" y1="274.52" x2="318.84" y2="287.85" stroke="#8c1222" stroke-width="0.75" opacity="0.6"/>
<rect x="318.04" y="275.13" width="1.6" height="9.13" fill="#8c1222"/>
<line x1="320.51" y1="270.69" x2="320.51" y2="291.51" stroke="#106a20" stroke-width="0.75" opacity="0.6"/>
<rect x="319.71" y="271.46" width="1.6" height="12.80" fill="#106a20"/>
<line x1="322.19" y1="265.67" x2="322.19" y2="289.87" stroke="#8c1222" stroke-width="0.75" opacity="0.6"/>
<rect x="321.39" y="271.46" width="1.6" height="13.19" fill="#8c1222"/>
<line x1="323.86" y1="268.35" x2="323.86" y2="289.72" stroke="#106a20" stroke-width="0.75" opacity="0.6"/>
<rect x="323.06" y="275.11" width="1.6" height="9.54" fill="#106a20"/>
<line x1="325.53" y1="274.28" x2="325.53" y2="288.28" stroke="#8c1222" stroke-width="0.75" opacity="0.6"/>
<rect x="324.73" y="275.11" width="1.6" height="11.38" fill="#8c1222"/>
<line x1="327.21" y1="281.76" x2="327.21" y2="299.41" stroke="#8c1222" stroke-width="0.75" opacity="0.6"/>
<rect x="326.41" y="286.49" width="1.6" height="12.23" fill="#8c1222"/>
<line x1="328.88" y1="297.85" x2="328.88" y2="304.87" stroke="#8c1222" stroke-width="0.75" opacity="0.6"/>
<rect x="328.08" y="298.72" width="1.6" height="4.38" fill="#8c1222"/>
<line x1="330.55" y1="301.62" x2="330.55" y2="322.26" stroke="#8c1222" stroke-width="0.75" opacity="0.6"/>
<rect x="329.75" y="303.10" width="1.6" height="15.13" fill="#8c1222"/>
<line x1="332.23" y1="315.78" x2="332.23" y2="329.53" stroke="#8c1222" stroke-width="0.75" opacity="0.6"/>
<rect x="331.43" y="318.22" width="1.6" height="4.76" fill="#8c1222"/>
<line x1="333.90" y1="321.94" x2="333.90" y2="332.94" stroke="#8c1222" stroke-width="0.75" opacity="0.6"/>
<rect x="333.10" y="322.98" width="1.6" height="7.57" fill="#8c1222"/>
<line x1="335.57" y1="326.26" x2="335.57" y2="332.49" stroke="#106a20" stroke-width="0.75" opacity="0.6"/>
<rect x="334.77" y="330.42" width="1.6" height="0.80" fill="#106a20"/>
<line x1="337.25" y1="327.86" x2="337.25" y2="346.77" stroke="#8c1222" stroke-width="0.75" opacity="0.6"/>
<rect x="336.45" y="330.42" width="1.6" height="13.59" fill="#8c1222"/>
<line x1="338.92" y1="340.73" x2="338.92" y2="357.43" stroke="#8c1222" stroke-width="0.75" opacity="0.6"/>
<rect x="338.12" y="344.01" width="1.6" height="12.78" fill="#8c1222"/>
<line x1="340.59" y1="349.09" x2="340.59" y2="374.70" stroke="#8c1222" stroke-width="0.75" opacity="0.6"/>
<rect x="339.79" y="356.78" width="1.6" height="6.42" fill="#8c1222"/>
<line x1="342.27" y1="353.44" x2="342.27" y2="365.35" stroke="#106a20" stroke-width="0.75" opacity="0.6"/>
<rect x="341.47" y="354.63" width="1.6" height="8.57" fill="#106a20"/>
<line x1="343.94" y1="348.69" x2="343.94" y2="355.43" stroke="#106a20" stroke-width="0.75" opacity="0.6"/>
<rect x="343.14" y="350.68" width="1.6" height="3.95" fill="#106a20"/>
<line x1="345.61" y1="339.54" x2="345.61" y2="354.65" stroke="#106a20" stroke-width="0.75" opacity="0.6"/>
<rect x="344.81" y="347.33" width="1.6" height="3.35" fill="#106a20"/>
<line x1="347.29" y1="329.90" x2="347.29" y2="351.90" stroke="#106a20" stroke-width="0.75" opacity="0.6"/>
<rect x="346.49" y="334.42" width="1.6" height="12.91" fill="#106a20"/>
<line x1="348.96" y1="330.71" x2="348.96" y2="337.43" stroke="#106a20" stroke-width="0.75" opacity="0.6"/>
<rect x="348.16" y="333.78" width="1.6" height="0.80" fill="#106a20"/>
<line x1="350.63" y1="332.01" x2="350.63" y2="340.82" stroke="#8c1222" stroke-width="0.75" opacity="0.6"/>
<rect x="349.83" y="333.78" width="1.6" height="4.51" fill="#8c1222"/>
<line x1="352.31" y1="332.21" x2="352.31" y2="339.00" stroke="#106a20" stroke-width="0.75" opacity="0.6"/>
<rect x="351.51" y="338.16" width="1.6" height="0.80" fill="#106a20"/>
<line x1="353.98" y1="335.55" x2="353.98" y2="339.99" stroke="#8c1222" stroke-width="0.75" opacity="0.6"/>
<rect x="353.18" y="338.16" width="1.6" height="0.85" fill="#8c1222"/>
<line x1="355.65" y1="331.32" x2="355.65" y2="342.05" stroke="#106a20" stroke-width="0.75" opacity="0.6"/>
<rect x="354.85" y="335.26" width="1.6" height="3.75" fill="#106a20"/>
<line x1="357.33" y1="332.55" x2="357.33" y2="336.84" stroke="#8c1222" stroke-width="0.75" opacity="0.6"/>
<rect x="356.53" y="335.26" width="1.6" height="0.80" fill="#8c1222"/>
<line x1="359.00" y1="318.90" x2="359.00" y2="337.48" stroke="#106a20" stroke-width="0.75" opacity="0.6"/>
<rect x="358.20" y="325.35" width="1.6" height="10.33" fill="#106a20"/>
<line x1="360.67" y1="316.60" x2="360.67" y2="326.01" stroke="#106a20" stroke-width="0.75" opacity="0.6"/>
<rect x="359.87" y="319.82" width="1.6" height="5.53" fill="#106a20"/>
<line x1="362.35" y1="302.57" x2="362.35" y2="325.90" stroke="#106a20" stroke-width="0.75" opacity="0.6"/>
<rect x="361.55" y="309.92" width="1.6" height="9.90" fill="#106a20"/>
<line x1="364.02" y1="302.67" x2="364.02" y2="317.34" stroke="#8c1222" stroke-width="0.75" opacity="0.6"/>
<rect x="363.22" y="309.92" width="1.6" height="3.99" fill="#8c1222"/>
<line x1="365.69" y1="311.21" x2="365.69" y2="315.90" stroke="#106a20" stroke-width="0.75" opacity="0.6"/>
<rect x="364.89" y="313.52" width="1.6" height="0.80" fill="#106a20"/>
<line x1="367.37" y1="309.60" x2="367.37" y2="319.79" stroke="#106a20" stroke-width="0.75" opacity="0.6"/>
<rect x="366.57" y="311.00" width="1.6" height="2.51" fill="#106a20"/>
<line x1="369.04" y1="306.52" x2="369.04" y2="318.49" stroke="#8c1222" stroke-width="0.75" opacity="0.6"/>
<rect x="368.24" y="311.00" width="1.6" height="1.72" fill="#8c1222"/>
<line x1="370.71" y1="310.85" x2="370.71" y2="325.35" stroke="#8c1222" stroke-width="0.75" opacity="0.6"/>
<rect x="369.91" y="312.73" width="1.6" height="5.59" fill="#8c1222"/>
<line x1="372.39" y1="316.78" x2="372.39" y2="349.80" stroke="#8c1222" stroke-width="0.75" opacity="0.6"/>
<rect x="371.59" y="318.32" width="1.6" height="22.40" fill="#8c1222"/>
<line x1="374.06" y1="337.55" x2="374.06" y2="355.97" stroke="#8c1222" stroke-width="0.75" opacity="0.6"/>
<rect x="373.26" y="340.71" width="1.6" height="12.65" fill="#8c1222"/>
<line x1="375.73" y1="348.91" x2="375.73" y2="377.17" stroke="#8c1222" stroke-width="0.75" opacity="0.6"/>
<rect x="374.93" y="353.37" width="1.6" height="18.76" fill="#8c1222"/>
<line x1="377.41" y1="370.59" x2="377.41" y2="384.21" stroke="#8c1222" stroke-width="0.75" opacity="0.6"/>
<rect x="376.61" y="372.13" width="1.6" height="6.52" fill="#8c1222"/>
<line x1="379.08" y1="371.55" x2="379.08" y2="380.99" stroke="#106a20" stroke-width="0.75" opacity="0.6"/>
<rect x="378.28" y="374.21" width="1.6" height="4.43" fill="#106a20"/>
<line x1="380.75" y1="373.28" x2="380.75" y2="378.19" stroke="#8c1222" stroke-width="0.75" opacity="0.6"/>
<rect x="379.95" y="374.21" width="1.6" height="2.04" fill="#8c1222"/>
<line x1="382.43" y1="370.37" x2="382.43" y2="385.66" stroke="#8c1222" stroke-width="0.75" opacity="0.6"/>
<rect x="381.63" y="376.25" width="1.6" height="7.42" fill="#8c1222"/>
<line x1="384.10" y1="377.96" x2="384.10" y2="384.54" stroke="#106a20" stroke-width="0.75" opacity="0.6"/>
<rect x="383.30" y="381.44" width="1.6" height="2.23" fill="#106a20"/>
<line x1="385.77" y1="371.32" x2="385.77" y2="383.49" stroke="#106a20" stroke-width="0.75" opacity="0.6"/>
<rect x="384.97" y="377.68" width="1.6" height="3.76" fill="#106a20"/>
<line x1="387.45" y1="369.00" x2="387.45" y2="383.97" stroke="#106a20" stroke-width="0.75" opacity="0.6"/>
<rect x="386.65" y="370.34" width="1.6" height="7.34" fill="#106a20"/>
<line x1="389.12" y1="363.14" x2="389.12" y2="372.35" stroke="#106a20" stroke-width="0.75" opacity="0.6"/>
<rect x="388.32" y="366.31" width="1.6" height="4.03" fill="#106a20"/>
<line x1="390.79" y1="356.62" x2="390.79" y2="367.05" stroke="#106a20" stroke-width="0.75" opacity="0.6"/>
<rect x="389.99" y="364.73" width="1.6" height="1.58" fill="#106a20"/>
<line x1="392.47" y1="362.04" x2="392.47" y2="376.56" stroke="#8c1222" stroke-width="0.75" opacity="0.6"/>
<rect x="391.67" y="364.73" width="1.6" height="7.86" fill="#8c1222"/>
<line x1="394.14" y1="369.69" x2="394.14" y2="376.66" stroke="#8c1222" stroke-width="0.75" opacity="0.6"/>
<rect x="393.34" y="372.59" width="1.6" height="1.66" fill="#8c1222"/>
<line x1="395.81" y1="369.71" x2="395.81" y2="374.92" stroke="#106a20" stroke-width="0.75" opacity="0.6"/>
<rect x="395.01" y="372.88" width="1.6" height="1.36" fill="#106a20"/>
<line x1="397.49" y1="371.67" x2="397.49" y2="389.37" stroke="#8c1222" stroke-width="0.75" opacity="0.6"/>
<rect x="396.69" y="372.88" width="1.6" height="14.71" fill="#8c1222"/>
<line x1="399.16" y1="385.03" x2="399.16" y2="396.00" stroke="#106a20" stroke-width="0.75" opacity="0.6"/>
<rect x="398.36" y="386.78" width="1.6" height="0.82" fill="#106a20"/>
<line x1="400.83" y1="372.87" x2="400.83" y2="389.83" stroke="#106a20" stroke-width="0.75" opacity="0.6"/>
<rect x="400.03" y="382.47" width="1.6" height="4.32" fill="#106a20"/>
<line x1="402.51" y1="374.02" x2="402.51" y2="386.96" stroke="#106a20" stroke-width="0.75" opacity="0.6"/>
<rect x="401.71" y="375.28" width="1.6" height="7.18" fill="#106a20"/>
<line x1="404.18" y1="354.56" x2="404.18" y2="378.18" stroke="#106a20" stroke-width="0.75" opacity="0.6"/>
<rect x="403.38" y="363.14" width="1.6" height="12.14" fill="#106a20"/>
<line x1="405.85" y1="360.17" x2="405.85" y2="382.58" stroke="#8c1222" stroke-width="0.75" opacity="0.6"/>
<rect x="405.05" y="363.14" width="1.6" height="8.84" fill="#8c1222"/>
<line x1="407.53" y1="370.42" x2="407.53" y2="376.49" stroke="#8c1222" stroke-width="0.75" opacity="0.6"/>
<rect x="406.73" y="371.98" width="1.6" height="0.80" fill="#8c1222"/>
<line x1="409.20" y1="363.46" x2="409.20" y2="393.50" stroke="#106a20" stroke-width="0.75" opacity="0.6"/>
<rect x="408.40" y="370.39" width="1.6" height="1.97" fill="#106a20"/>
<line x1="410.87" y1="343.46" x2="410.87" y2="374.07" stroke="#106a20" stroke-width="0.75" opacity="0.6"/>
<rect x="410.07" y="357.15" width="1.6" height="13.24" fill="#106a20"/>
<line x1="412.55" y1="344.55" x2="412.55" y2="365.93" stroke="#106a20" stroke-width="0.75" opacity="0.6"/>
<rect x="411.75" y="348.67" width="1.6" height="8.48" fill="#106a20"/>
<line x1="414.22" y1="342.75" x2="414.22" y2="351.16" stroke="#106a20" stroke-width="0.75" opacity="0.6"/>
<rect x="413.42" y="344.31" width="1.6" height="4.35" fill="#106a20"/>
<line x1="415.89" y1="334.51" x2="415.89" y2="347.34" stroke="#106a20" stroke-width="0.75" opacity="0.6"/>
<rect x="415.09" y="337.50" width="1.6" height="6.81" fill="#106a20"/>
<line x1="417.57" y1="336.65" x2="417.57" y2="340.85" stroke="#8c1222" stroke-width="0.75" opacity="0.6"/>
<rect x="416.77" y="337.50" width="1.6" height="2.09" fill="#8c1222"/>
<line x1="419.24" y1="337.11" x2="419.24" y2="341.75" stroke="#8c1222" stroke-width="0.75" opacity="0.6"/>
<rect x="418.44" y="339.59" width="1.6" height="1.02" fill="#8c1222"/>
<line x1="420.91" y1="329.16" x2="420.91" y2="345.59" stroke="#106a20" stroke-width="0.75" opacity="0.6"/>
<rect x="420.11" y="330.33" width="1.6" height="10.28" fill="#106a20"/>
<line x1="422.59" y1="326.13" x2="422.59" y2="334.57" stroke="#106a20" stroke-width="0.75" opacity="0.6"/>
<rect x="421.79" y="328.50" width="1.6" height="1.84" fill="#106a20"/>
<line x1="424.26" y1="321.84" x2="424.26" y2="335.04" stroke="#106a20" stroke-width="0.75" opacity="0.6"/>
<rect x="423.46" y="323.75" width="1.6" height="4.75" fill="#106a20"/>
<line x1="425.93" y1="321.88" x2="425.93" y2="330.78" stroke="#8c1222" stroke-width="0.75" opacity="0.6"/>
<rect x="425.13" y="323.75" width="1.6" height="3.04" fill="#8c1222"/>
<line x1="427.61" y1="325.62" x2="427.61" y2="333.28" stroke="#8c1222" stroke-width="0.75" opacity="0.6"/>
<rect x="426.81" y="326.79" width="1.6" height="0.80" fill="#8c1222"/>
<line x1="429.28" y1="326.08" x2="429.28" y2="342.27" stroke="#8c1222" stroke-width="0.75" opacity="0.6"/>
<rect x="428.48" y="326.79" width="1.6" height="13.78" fill="#8c1222"/>
<line x1="430.95" y1="339.68" x2="430.95" y2="349.44" stroke="#8c1222" stroke-width="0.75" opacity="0.6"/>
<rect x="430.15" y="340.58" width="1.6" height="5.70" fill="#8c1222"/>
<line x1="432.63" y1="345.54" x2="432.63" y2="357.83" stroke="#8c1222" stroke-width="0.75" opacity="0.6"/>
<rect x="431.83" y="346.28" width="1.6" height="2.82" fill="#8c1222"/>
<line x1="434.30" y1="345.93" x2="434.30" y2="357.81" stroke="#8c1222" stroke-width="0.75" opacity="0.6"/>
<rect x="433.50" y="349.10" width="1.6" height="3.03" fill="#8c1222"/>
<line x1="435.97" y1="348.97" x2="435.97" y2="358.75" stroke="#106a20" stroke-width="0.75" opacity="0.6"/>
<rect x="435.17" y="350.03" width="1.6" height="2.10" fill="#106a20"/>
<line x1="437.65" y1="341.27" x2="437.65" y2="357.01" stroke="#106a20" stroke-width="0.75" opacity="0.6"/>
<rect x="436.85" y="344.66" width="1.6" height="5.37" fill="#106a20"/>
<line x1="439.32" y1="334.99" x2="439.32" y2="347.96" stroke="#106a20" stroke-width="0.75" opacity="0.6"/>
<rect x="438.52" y="340.25" width="1.6" height="4.41" fill="#106a20"/>
<line x1="440.99" y1="330.04" x2="440.99" y2="341.29" stroke="#106a20" stroke-width="0.75" opacity="0.6"/>
<rect x="440.19" y="330.93" width="1.6" height="9.32" fill="#106a20"/>
<line x1="442.67" y1="302.00" x2="442.67" y2="334.06" stroke="#106a20" stroke-width="0.75" opacity="0.6"/>
<rect x="441.87" y="319.86" width="1.6" height="11.08" fill="#106a20"/>
<line x1="444.34" y1="312.40" x2="444.34" y2="324.47" stroke="#106a20" stroke-width="0.75" opacity="0.6"/>
<rect x="443.54" y="314.89" width="1.6" height="4.97" fill="#106a20"/>
<line x1="446.01" y1="312.11" x2="446.01" y2="330.38" stroke="#8c1222" stroke-width="0.75" opacity="0.6"/>
<rect x="445.21" y="314.89" width="1.6" height="13.84" fill="#8c1222"/>
<line x1="447.69" y1="322.24" x2="447.69" y2="340.49" stroke="#8c1222" stroke-width="0.75" opacity="0.6"/>
<rect x="446.89" y="328.72" width="1.6" height="8.28" fill="#8c1222"/>
<line x1="449.36" y1="327.75" x2="449.36" y2="339.71" stroke="#106a20" stroke-width="0.75" opacity="0.6"/>
<rect x="448.56" y="331.00" width="1.6" height="6.00" fill="#106a20"/>
<line x1="451.03" y1="327.13" x2="451.03" y2="335.29" stroke="#8c1222" stroke-width="0.75" opacity="0.6"/>
<rect x="450.23" y="331.00" width="1.6" height="3.38" fill="#8c1222"/>
<line x1="452.71" y1="331.71" x2="452.71" y2="346.02" stroke="#8c1222" stroke-width="0.75" opacity="0.6"/>
<rect x="451.91" y="334.38" width="1.6" height="5.04" fill="#8c1222"/>
<line x1="454.38" y1="337.42" x2="454.38" y2="351.48" stroke="#8c1222" stroke-width="0.75" opacity="0.6"/>
<rect x="453.58" y="339.41" width="1.6" height="6.76" fill="#8c1222"/>
<line x1="456.05" y1="340.69" x2="456.05" y2="361.32" stroke="#8c1222" stroke-width="0.75" opacity="0.6"/>
<rect x="455.25" y="346.17" width="1.6" height="5.09" fill="#8c1222"/>
<line x1="457.73" y1="343.12" x2="457.73" y2="360.06" stroke="#8c1222" stroke-width="0.75" opacity="0.6"/>
<rect x="456.93" y="351.26" width="1.6" height="8.06" fill="#8c1222"/>
<line x1="459.40" y1="342.32" x2="459.40" y2="362.46" stroke="#106a20" stroke-width="0.75" opacity="0.6"/>
<rect x="458.60" y="346.59" width="1.6" height="12.72" fill="#106a20"/>
<line x1="461.07" y1="334.08" x2="461.07" y2="347.59" stroke="#106a20" stroke-width="0.75" opacity="0.6"/>
<rect x="460.27" y="338.68" width="1.6" height="7.91" fill="#106a20"/>
<line x1="462.75" y1="333.94" x2="462.75" y2="345.45" stroke="#8c1222" stroke-width="0.75" opacity="0.6"/>
<rect x="461.95" y="338.68" width="1.6" height="2.27" fill="#8c1222"/>
<line x1="464.42" y1="326.51" x2="464.42" y2="342.54" stroke="#106a20" stroke-width="0.75" opacity="0.6"/>
<rect x="463.62" y="334.47" width="1.6" height="6.48" fill="#106a20"/>
<line x1="466.09" y1="330.90" x2="466.09" y2="337.74" stroke="#106a20" stroke-width="0.75" opacity="0.6"/>
<rect x="465.29" y="333.22" width="1.6" height="1.26" fill="#106a20"/>
<line x1="467.77" y1="330.88" x2="467.77" y2="334.01" stroke="#106a20" stroke-width="0.75" opacity="0.6"/>
<rect x="466.97" y="332.97" width="1.6" height="0.80" fill="#106a20"/>
<line x1="469.44" y1="332.33" x2="469.44" y2="338.15" stroke="#8c1222" stroke-width="0.75" opacity="0.6"/>
<rect x="468.64" y="332.97" width="1.6" height="1.73" fill="#8c1222"/>
<line x1="471.11" y1="327.62" x2="471.11" y2="344.22" stroke="#8c1222" stroke-width="0.75" opacity="0.6"/>
<rect x="470.31" y="334.70" width="1.6" height="5.94" fill="#8c1222"/>
<line x1="472.79" y1="317.01" x2="472.79" y2="348.46" stroke="#106a20" stroke-width="0.75" opacity="0.6"/>
<rect x="471.99" y="327.05" width="1.6" height="13.59" fill="#106a20"/>
<line x1="474.46" y1="316.86" x2="474.46" y2="329.63" stroke="#106a20" stroke-width="0.75" opacity="0.6"/>
<rect x="473.66" y="317.58" width="1.6" height="9.46" fill="#106a20"/>
<line x1="476.13" y1="308.10" x2="476.13" y2="318.28" stroke="#106a20" stroke-width="0.75" opacity="0.6"/>
<rect x="475.33" y="310.46" width="1.6" height="7.13" fill="#106a20"/>
<line x1="477.81" y1="304.23" x2="477.81" y2="315.60" stroke="#106a20" stroke-width="0.75" opacity="0.6"/>
<rect x="477.01" y="305.94" width="1.6" height="4.52" fill="#106a20"/>
<line x1="479.48" y1="301.26" x2="479.48" y2="307.33" stroke="#106a20" stroke-width="0.75" opacity="0.6"/>
<rect x="478.68" y="304.93" width="1.6" height="1.01" fill="#106a20"/>
<line x1="481.15" y1="302.65" x2="481.15" y2="323.75" stroke="#8c1222" stroke-width="0.75" opacity="0.6"/>
<rect x="480.35" y="304.93" width="1.6" height="13.27" fill="#8c1222"/>
<line x1="482.83" y1="312.95" x2="482.83" y2="320.35" stroke="#106a20" stroke-width="0.75" opacity="0.6"/>
<rect x="482.03" y="316.86" width="1.6" height="1.33" fill="#106a20"/>
<line x1="484.50" y1="313.17" x2="484.50" y2="332.64" stroke="#8c1222" stroke-width="0.75" opacity="0.6"/>
<rect x="483.70" y="316.86" width="1.6" height="14.77" fill="#8c1222"/>
<line x1="486.17" y1="329.34" x2="486.17" y2="344.16" stroke="#8c1222" stroke-width="0.75" opacity="0.6"/>
<rect x="485.37" y="331.63" width="1.6" height="11.33" fill="#8c1222"/>
<line x1="487.85" y1="326.09" x2="487.85" y2="344.30" stroke="#106a20" stroke-width="0.75" opacity="0.6"/>
<rect x="487.05" y="329.69" width="1.6" height="13.27" fill="#106a20"/>
<line x1="489.52" y1="327.47" x2="489.52" y2="334.55" stroke="#8c1222" stroke-width="0.75" opacity="0.6"/>
<rect x="488.72" y="329.69" width="1.6" height="2.27" fill="#8c1222"/>
<line x1="491.19" y1="315.12" x2="491.19" y2="334.04" stroke="#106a20" stroke-width="0.75" opacity="0.6"/>
<rect x="490.39" y="320.85" width="1.6" height="11.11" fill="#106a20"/>
<line x1="492.87" y1="306.33" x2="492.87" y2="321.70" stroke="#106a20" stroke-width="0.75" opacity="0.6"/>
<rect x="492.07" y="310.30" width="1.6" height="10.55" fill="#106a20"/>
<line x1="494.54" y1="298.77" x2="494.54" y2="311.88" stroke="#106a20" stroke-width="0.75" opacity="0.6"/>
<rect x="493.74" y="301.56" width="1.6" height="8.74" fill="#106a20"/>
<line x1="496.21" y1="297.70" x2="496.21" y2="306.76" stroke="#106a20" stroke-width="0.75" opacity="0.6"/>
<rect x="495.41" y="299.65" width="1.6" height="1.91" fill="#106a20"/>
<line x1="497.89" y1="293.34" x2="497.89" y2="304.05" stroke="#106a20" stroke-width="0.75" opacity="0.6"/>
<rect x="497.09" y="294.62" width="1.6" height="5.03" fill="#106a20"/>
<line x1="499.56" y1="291.10" x2="499.56" y2="296.49" stroke="#106a20" stroke-width="0.75" opacity="0.6"/>
<rect x="498.76" y="292.76" width="1.6" height="1.85" fill="#106a20"/>
<line x1="501.23" y1="286.27" x2="501.23" y2="295.98" stroke="#106a20" stroke-width="0.75" opacity="0.6"/>
<rect x="500.43" y="291.89" width="1.6" height="0.87" fill="#106a20"/>
<line x1="502.91" y1="287.96" x2="502.91" y2="303.09" stroke="#8c1222" stroke-width="0.75" opacity="0.6"/>
<rect x="502.11" y="291.89" width="1.6" height="1.81" fill="#8c1222"/>
<line x1="504.58" y1="280.00" x2="504.58" y2="296.76" stroke="#106a20" stroke-width="0.75" opacity="0.6"/>
<rect x="503.78" y="285.14" width="1.6" height="8.56" fill="#106a20"/>
<line x1="506.25" y1="276.11" x2="506.25" y2="295.98" stroke="#8c1222" stroke-width="0.75" opacity="0.6"/>
<rect x="505.45" y="285.14" width="1.6" height="0.80" fill="#8c1222"/>
<line x1="507.93" y1="274.70" x2="507.93" y2="286.68" stroke="#106a20" stroke-width="0.75" opacity="0.6"/>
<rect x="507.13" y="277.20" width="1.6" height="8.52" fill="#106a20"/>
<line x1="509.60" y1="265.15" x2="509.60" y2="278.11" stroke="#106a20" stroke-width="0.75" opacity="0.6"/>
<rect x="508.80" y="273.93" width="1.6" height="3.28" fill="#106a20"/>
<line x1="511.27" y1="262.54" x2="511.27" y2="281.07" stroke="#106a20" stroke-width="0.75" opacity="0.6"/>
<rect x="510.47" y="266.38" width="1.6" height="7.54" fill="#106a20"/>
<line x1="512.95" y1="263.59" x2="512.95" y2="276.21" stroke="#8c1222" stroke-width="0.75" opacity="0.6"/>
<rect x="512.15" y="266.38" width="1.6" height="8.67" fill="#8c1222"/>
<line x1="514.62" y1="274.01" x2="514.62" y2="282.93" stroke="#8c1222" stroke-width="0.75" opacity="0.6"/>
<rect x="513.82" y="275.06" width="1.6" height="1.99" fill="#8c1222"/>
<line x1="516.29" y1="249.23" x2="516.29" y2="280.31" stroke="#106a20" stroke-width="0.75" opacity="0.6"/>
<rect x="515.49" y="254.09" width="1.6" height="22.95" fill="#106a20"/>
<line x1="517.97" y1="246.98" x2="517.97" y2="256.35" stroke="#106a20" stroke-width="0.75" opacity="0.6"/>
<rect x="517.17" y="250.46" width="1.6" height="3.63" fill="#106a20"/>
<line x1="519.64" y1="242.87" x2="519.64" y2="258.36" stroke="#8c1222" stroke-width="0.75" opacity="0.6"/>
<rect x="518.84" y="250.46" width="1.6" height="6.37" fill="#8c1222"/>
<line x1="521.31" y1="254.00" x2="521.31" y2="266.69" stroke="#8c1222" stroke-width="0.75" opacity="0.6"/>
<rect x="520.51" y="256.83" width="1.6" height="6.58" fill="#8c1222"/>
<line x1="522.99" y1="252.42" x2="522.99" y2="265.51" stroke="#106a20" stroke-width="0.75" opacity="0.6"/>
<rect x="522.19" y="253.53" width="1.6" height="9.88" fill="#106a20"/>
<line x1="524.66" y1="250.03" x2="524.66" y2="273.21" stroke="#8c1222" stroke-width="0.75" opacity="0.6"/>
<rect x="523.86" y="253.53" width="1.6" height="18.07" fill="#8c1222"/>
<line x1="526.33" y1="257.83" x2="526.33" y2="273.56" stroke="#106a20" stroke-width="0.75" opacity="0.6"/>
<rect x="525.53" y="261.12" width="1.6" height="10.49" fill="#106a20"/>
<line x1="528.01" y1="258.13" x2="528.01" y2="266.36" stroke="#8c1222" stroke-width="0.75" opacity="0.6"/>
<rect x="527.21" y="261.12" width="1.6" height="3.83" fill="#8c1222"/>
<line x1="529.68" y1="259.78" x2="529.68" y2="267.65" stroke="#106a20" stroke-width="0.75" opacity="0.6"/>
<rect x="528.88" y="260.87" width="1.6" height="4.09" fill="#106a20"/>
<line x1="531.35" y1="254.23" x2="531.35" y2="262.39" stroke="#106a20" stroke-width="0.75" opacity="0.6"/>
<rect x="530.55" y="258.15" width="1.6" height="2.71" fill="#106a20"/>
<line x1="533.03" y1="256.94" x2="533.03" y2="263.74" stroke="#8c1222" stroke-width="0.75" opacity="0.6"/>
<rect x="532.23" y="258.15" width="1.6" height="1.98" fill="#8c1222"/>
<line x1="534.70" y1="259.20" x2="534.70" y2="264.28" stroke="#8c1222" stroke-width="0.75" opacity="0.6"/>
<rect x="533.90" y="260.13" width="1.6" height="1.91" fill="#8c1222"/>
<line x1="536.37" y1="260.42" x2="536.37" y2="276.19" stroke="#8c1222" stroke-width="0.75" opacity="0.6"/>
<rect x="535.57" y="262.04" width="1.6" height="7.15" fill="#8c1222"/>
<line x1="538.05" y1="267.59" x2="538.05" y2="271.87" stroke="#8c1222" stroke-width="0.75" opacity="0.6"/>
<rect x="537.25" y="269.18" width="1.6" height="2.05" fill="#8c1222"/>
<line x1="539.72" y1="248.00" x2="539.72" y2="273.12" stroke="#106a20" stroke-width="0.75" opacity="0.6"/>
<rect x="538.92" y="267.20" width="1.6" height="4.03" fill="#106a20"/>
<line x1="541.39" y1="264.35" x2="541.39" y2="271.48" stroke="#8c1222" stroke-width="0.75" opacity="0.6"/>
<rect x="540.59" y="267.20" width="1.6" height="1.86" fill="#8c1222"/>
<line x1="543.07" y1="264.94" x2="543.07" y2="275.26" stroke="#8c1222" stroke-width="0.75" opacity="0.6"/>
<rect x="542.27" y="269.07" width="1.6" height="3.66" fill="#8c1222"/>
<line x1="544.74" y1="263.54" x2="544.74" y2="276.41" stroke="#106a20" stroke-width="0.75" opacity="0.6"/>
<rect x="543.94" y="266.14" width="1.6" height="6.58" fill="#106a20"/>
<line x1="546.41" y1="261.37" x2="546.41" y2="270.31" stroke="#8c1222" stroke-width="0.75" opacity="0.6"/>
<rect x="545.61" y="266.14" width="1.6" height="2.95" fill="#8c1222"/>
<line x1="548.09" y1="265.37" x2="548.09" y2="270.14" stroke="#106a20" stroke-width="0.75" opacity="0.6"/>
<rect x="547.29" y="266.12" width="1.6" height="2.98" fill="#106a20"/>
<line x1="549.76" y1="260.83" x2="549.76" y2="267.21" stroke="#106a20" stroke-width="0.75" opacity="0.6"/>
<rect x="548.96" y="263.28" width="1.6" height="2.84" fill="#106a20"/>
<line x1="551.43" y1="262.43" x2="551.43" y2="268.78" stroke="#8c1222" stroke-width="0.75" opacity="0.6"/>
<rect x="550.63" y="263.28" width="1.6" height="2.68" fill="#8c1222"/>
<line x1="553.11" y1="262.60" x2="553.11" y2="270.81" stroke="#8c1222" stroke-width="0.75" opacity="0.6"/>
<rect x="552.31" y="265.95" width="1.6" height="2.47" fill="#8c1222"/>
<line x1="554.78" y1="260.79" x2="554.78" y2="269.85" stroke="#106a20" stroke-width="0.75" opacity="0.6"/>
<rect x="553.98" y="261.45" width="1.6" height="6.97" fill="#106a20"/>
<line x1="556.45" y1="252.39" x2="556.45" y2="267.67" stroke="#106a20" stroke-width="0.75" opacity="0.6"/>
<rect x="555.65" y="253.58" width="1.6" height="7.87" fill="#106a20"/>
<line x1="558.13" y1="247.74" x2="558.13" y2="257.60" stroke="#106a20" stroke-width="0.75" opacity="0.6"/>
<rect x="557.33" y="248.42" width="1.6" height="5.16" fill="#106a20"/>
<line x1="559.80" y1="245.88" x2="559.80" y2="249.92" stroke="#8c1222" stroke-width="0.75" opacity="0.6"/>
<rect x="559.00" y="248.42" width="1.6" height="0.80" fill="#8c1222"/>
<line x1="561.47" y1="238.19" x2="561.47" y2="259.13" stroke="#8c1222" stroke-width="0.75" opacity="0.6"/>
<rect x="560.67" y="248.70" width="1.6" height="9.05" fill="#8c1222"/>
<line x1="563.15" y1="233.56" x2="563.15" y2="268.43" stroke="#106a20" stroke-width="0.75" opacity="0.6"/>
<rect x="562.35" y="237.88" width="1.6" height="19.86" fill="#106a20"/>
<line x1="564.82" y1="236.80" x2="564.82" y2="245.91" stroke="#8c1222" stroke-width="0.75" opacity="0.6"/>
<rect x="564.02" y="237.88" width="1.6" height="5.46" fill="#8c1222"/>
<line x1="566.49" y1="240.65" x2="566.49" y2="265.06" stroke="#8c1222" stroke-width="0.75" opacity="0.6"/>
<rect x="565.69" y="243.34" width="1.6" height="12.60" fill="#8c1222"/>
<line x1="568.17" y1="252.07" x2="568.17" y2="278.00" stroke="#106a20" stroke-width="0.75" opacity="0.6"/>
<rect x="567.37" y="254.08" width="1.6" height="1.86" fill="#106a20"/>
<line x1="569.84" y1="236.51" x2="569.84" y2="256.52" stroke="#106a20" stroke-width="0.75" opacity="0.6"/>
<rect x="569.04" y="239.53" width="1.6" height="14.55" fill="#106a20"/>
<line x1="571.51" y1="235.91" x2="571.51" y2="248.67" stroke="#106a20" stroke-width="0.75" opacity="0.6"/>
<rect x="570.71" y="238.45" width="1.6" height="1.09" fill="#106a20"/>
<line x1="573.19" y1="234.31" x2="573.19" y2="241.91" stroke="#106a20" stroke-width="0.75" opacity="0.6"/>
<rect x="572.39" y="235.68" width="1.6" height="2.77" fill="#106a20"/>
<line x1="574.86" y1="229.65" x2="574.86" y2="238.62" stroke="#106a20" stroke-width="0.75" opacity="0.6"/>
<rect x="574.06" y="230.37" width="1.6" height="5.31" fill="#106a20"/>
<line x1="576.53" y1="225.05" x2="576.53" y2="245.09" stroke="#8c1222" stroke-width="0.75" opacity="0.6"/>
<rect x="575.73" y="230.37" width="1.6" height="6.55" fill="#8c1222"/>
<line x1="578.21" y1="222.18" x2="578.21" y2="240.78" stroke="#106a20" stroke-width="0.75" opacity="0.6"/>
<rect x="577.41" y="230.08" width="1.6" height="6.85" fill="#106a20"/>
<line x1="579.88" y1="225.97" x2="579.88" y2="245.79" stroke="#8c1222" stroke-width="0.75" opacity="0.6"/>
<rect x="579.08" y="230.08" width="1.6" height="12.02" fill="#8c1222"/>
<line x1="581.55" y1="235.41" x2="581.55" y2="246.07" stroke="#106a20" stroke-width="0.75" opacity="0.6"/>
<rect x="580.75" y="238.72" width="1.6" height="3.37" fill="#106a20"/>
<line x1="583.23" y1="231.23" x2="583.23" y2="246.26" stroke="#8c1222" stroke-width="0.75" opacity="0.6"/>
<rect x="582.43" y="238.72" width="1.6" height="3.15" fill="#8c1222"/>
<line x1="584.90" y1="233.96" x2="584.90" y2="265.58" stroke="#8c1222" stroke-width="0.75" opacity="0.6"/>
<rect x="584.10" y="241.87" width="1.6" height="20.49" fill="#8c1222"/>
<line x1="586.57" y1="253.68" x2="586.57" y2="265.81" stroke="#106a20" stroke-width="0.75" opacity="0.6"/>
<rect x="585.77" y="255.16" width="1.6" height="7.21" fill="#106a20"/>
<line x1="588.25" y1="254.26" x2="588.25" y2="275.35" stroke="#8c1222" stroke-width="0.75" opacity="0.6"/>
<rect x="587.45" y="255.16" width="1.6" height="15.46" fill="#8c1222"/>
<line x1="589.92" y1="267.80" x2="589.92" y2="273.69" stroke="#8c1222" stroke-width="0.75" opacity="0.6"/>
<rect x="589.12" y="270.62" width="1.6" height="1.63" fill="#8c1222"/>
<line x1="591.59" y1="262.26" x2="591.59" y2="274.08" stroke="#106a20" stroke-width="0.75" opacity="0.6"/>
<rect x="590.79" y="264.06" width="1.6" height="8.19" fill="#106a20"/>
<line x1="593.27" y1="251.68" x2="593.27" y2="273.05" stroke="#106a20" stroke-width="0.75" opacity="0.6"/>
<rect x="592.47" y="259.29" width="1.6" height="4.77" fill="#106a20"/>
<line x1="594.94" y1="255.01" x2="594.94" y2="259.98" stroke="#106a20" stroke-width="0.75" opacity="0.6"/>
<rect x="594.14" y="258.49" width="1.6" height="0.80" fill="#106a20"/>
<line x1="596.61" y1="255.78" x2="596.61" y2="263.68" stroke="#8c1222" stroke-width="0.75" opacity="0.6"/>
<rect x="595.81" y="258.49" width="1.6" height="4.13" fill="#8c1222"/>
<line x1="598.29" y1="256.58" x2="598.29" y2="271.28" stroke="#106a20" stroke-width="0.75" opacity="0.6"/>
<rect x="597.49" y="259.87" width="1.6" height="2.75" fill="#106a20"/>
<line x1="599.96" y1="257.43" x2="599.96" y2="264.93" stroke="#8c1222" stroke-width="0.75" opacity="0.6"/>
<rect x="599.16" y="259.87" width="1.6" height="2.44" fill="#8c1222"/>
<line x1="601.63" y1="261.05" x2="601.63" y2="266.90" stroke="#8c1222" stroke-width="0.75" opacity="0.6"/>
<rect x="600.83" y="262.31" width="1.6" height="0.80" fill="#8c1222"/>
<line x1="603.31" y1="259.34" x2="603.31" y2="268.73" stroke="#8c1222" stroke-width="0.75" opacity="0.6"/>
<rect x="602.51" y="262.74" width="1.6" height="3.17" fill="#8c1222"/>
<line x1="604.98" y1="260.35" x2="604.98" y2="268.70" stroke="#8c1222" stroke-width="0.75" opacity="0.6"/>
<rect x="604.18" y="265.91" width="1.6" height="0.80" fill="#8c1222"/>
<line x1="606.65" y1="262.26" x2="606.65" y2="269.57" stroke="#8c1222" stroke-width="0.75" opacity="0.6"/>
<rect x="605.85" y="265.93" width="1.6" height="0.80" fill="#8c1222"/>
<line x1="608.33" y1="258.65" x2="608.33" y2="278.03" stroke="#8c1222" stroke-width="0.75" opacity="0.6"/>
<rect x="607.53" y="265.94" width="1.6" height="11.41" fill="#8c1222"/>
<line x1="610.00" y1="272.28" x2="610.00" y2="281.11" stroke="#8c1222" stroke-width="0.75" opacity="0.6"/>
<rect x="609.20" y="277.34" width="1.6" height="0.80" fill="#8c1222"/>
<line x1="611.67" y1="272.04" x2="611.67" y2="293.62" stroke="#8c1222" stroke-width="0.75" opacity="0.6"/>
<rect x="610.87" y="277.44" width="1.6" height="13.15" fill="#8c1222"/>
<line x1="613.35" y1="284.54" x2="613.35" y2="306.41" stroke="#8c1222" stroke-width="0.75" opacity="0.6"/>
<rect x="612.55" y="290.59" width="1.6" height="14.82" fill="#8c1222"/>
<line x1="615.02" y1="303.47" x2="615.02" y2="319.40" stroke="#8c1222" stroke-width="0.75" opacity="0.6"/>
<rect x="614.22" y="305.41" width="1.6" height="10.88" fill="#8c1222"/>
<line x1="616.69" y1="308.31" x2="616.69" y2="319.27" stroke="#106a20" stroke-width="0.75" opacity="0.6"/>
<rect x="615.89" y="314.62" width="1.6" height="1.67" fill="#106a20"/>
<line x1="618.37" y1="305.17" x2="618.37" y2="319.72" stroke="#106a20" stroke-width="0.75" opacity="0.6"/>
<rect x="617.57" y="313.99" width="1.6" height="0.80" fill="#106a20"/>
<line x1="620.04" y1="311.06" x2="620.04" y2="317.16" stroke="#8c1222" stroke-width="0.75" opacity="0.6"/>
<rect x="619.24" y="313.99" width="1.6" height="1.02" fill="#8c1222"/>
<line x1="621.71" y1="312.04" x2="621.71" y2="325.58" stroke="#8c1222" stroke-width="0.75" opacity="0.6"/>
<rect x="620.91" y="315.01" width="1.6" height="5.18" fill="#8c1222"/>
<line x1="623.39" y1="309.41" x2="623.39" y2="321.55" stroke="#106a20" stroke-width="0.75" opacity="0.6"/>
<rect x="622.59" y="311.97" width="1.6" height="8.22" fill="#106a20"/>
<line x1="625.06" y1="306.43" x2="625.06" y2="325.99" stroke="#8c1222" stroke-width="0.75" opacity="0.6"/>
<rect x="624.26" y="311.97" width="1.6" height="7.99" fill="#8c1222"/>
<line x1="626.73" y1="318.44" x2="626.73" y2="323.97" stroke="#8c1222" stroke-width="0.75" opacity="0.6"/>
<rect x="625.93" y="319.96" width="1.6" height="1.24" fill="#8c1222"/>
<line x1="628.41" y1="317.61" x2="628.41" y2="330.99" stroke="#8c1222" stroke-width="0.75" opacity="0.6"/>
<rect x="627.61" y="321.20" width="1.6" height="1.59" fill="#8c1222"/>
<line x1="630.08" y1="320.95" x2="630.08" y2="330.42" stroke="#8c1222" stroke-width="0.75" opacity="0.6"/>
<rect x="629.28" y="322.79" width="1.6" height="1.14" fill="#8c1222"/>
<line x1="631.75" y1="322.38" x2="631.75" y2="324.66" stroke="#106a20" stroke-width="0.75" opacity="0.6"/>
<rect x="630.95" y="323.28" width="1.6" height="0.80" fill="#106a20"/>
<line x1="633.43" y1="303.31" x2="633.43" y2="328.04" stroke="#106a20" stroke-width="0.75" opacity="0.6"/>
<rect x="632.63" y="304.12" width="1.6" height="19.15" fill="#106a20"/>
<line x1="635.10" y1="301.75" x2="635.10" y2="305.87" stroke="#8c1222" stroke-width="0.75" opacity="0.6"/>
<rect x="634.30" y="304.12" width="1.6" height="1.03" fill="#8c1222"/>
<line x1="636.77" y1="299.71" x2="636.77" y2="311.19" stroke="#106a20" stroke-width="0.75" opacity="0.6"/>
<rect x="635.97" y="303.54" width="1.6" height="1.61" fill="#106a20"/>
<line x1="638.45" y1="290.23" x2="638.45" y2="304.86" stroke="#106a20" stroke-width="0.75" opacity="0.6"/>
<rect x="637.65" y="297.74" width="1.6" height="5.80" fill="#106a20"/>
<line x1="640.12" y1="293.31" x2="640.12" y2="303.14" stroke="#8c1222" stroke-width="0.75" opacity="0.6"/>
<rect x="639.32" y="297.74" width="1.6" height="3.45" fill="#8c1222"/>
<line x1="641.79" y1="296.10" x2="641.79" y2="314.34" stroke="#8c1222" stroke-width="0.75" opacity="0.6"/>
<rect x="640.99" y="301.20" width="1.6" height="12.02" fill="#8c1222"/>
<line x1="643.47" y1="310.02" x2="643.47" y2="326.95" stroke="#8c1222" stroke-width="0.75" opacity="0.6"/>
<rect x="642.67" y="313.22" width="1.6" height="12.55" fill="#8c1222"/>
<line x1="645.14" y1="324.72" x2="645.14" y2="327.72" stroke="#8c1222" stroke-width="0.75" opacity="0.6"/>
<rect x="644.34" y="325.77" width="1.6" height="1.18" fill="#8c1222"/>
<line x1="646.81" y1="326.03" x2="646.81" y2="354.59" stroke="#8c1222" stroke-width="0.75" opacity="0.6"/>
<rect x="646.01" y="326.94" width="1.6" height="18.97" fill="#8c1222"/>
<line x1="648.49" y1="342.69" x2="648.49" y2="360.09" stroke="#8c1222" stroke-width="0.75" opacity="0.6"/>
<rect x="647.69" y="345.92" width="1.6" height="11.65" fill="#8c1222"/>
<line x1="650.16" y1="356.59" x2="650.16" y2="369.86" stroke="#8c1222" stroke-width="0.75" opacity="0.6"/>
<rect x="649.36" y="357.56" width="1.6" height="6.16" fill="#8c1222"/>
<line x1="651.83" y1="360.73" x2="651.83" y2="367.83" stroke="#8c1222" stroke-width="0.75" opacity="0.6"/>
<rect x="651.03" y="363.73" width="1.6" height="0.80" fill="#8c1222"/>
<line x1="653.51" y1="355.32" x2="653.51" y2="365.59" stroke="#106a20" stroke-width="0.75" opacity="0.6"/>
<rect x="652.71" y="359.84" width="1.6" height="4.38" fill="#106a20"/>
<line x1="655.18" y1="355.34" x2="655.18" y2="368.74" stroke="#8c1222" stroke-width="0.75" opacity="0.6"/>
<rect x="654.38" y="359.84" width="1.6" height="5.20" fill="#8c1222"/>
<line x1="656.85" y1="361.61" x2="656.85" y2="366.41" stroke="#106a20" stroke-width="0.75" opacity="0.6"/>
<rect x="656.05" y="363.83" width="1.6" height="1.21" fill="#106a20"/>
<line x1="658.53" y1="360.39" x2="658.53" y2="368.96" stroke="#8c1222" stroke-width="0.75" opacity="0.6"/>
<rect x="657.73" y="363.83" width="1.6" height="0.80" fill="#8c1222"/>
<line x1="660.20" y1="363.41" x2="660.20" y2="366.23" stroke="#8c1222" stroke-width="0.75" opacity="0.6"/>
<rect x="659.40" y="364.31" width="1.6" height="0.93" fill="#8c1222"/>
<line x1="661.87" y1="361.66" x2="661.87" y2="368.38" stroke="#8c1222" stroke-width="0.75" opacity="0.6"/>
<rect x="661.07" y="365.24" width="1.6" height="1.89" fill="#8c1222"/>
<line x1="663.55" y1="363.34" x2="663.55" y2="367.84" stroke="#106a20" stroke-width="0.75" opacity="0.6"/>
<rect x="662.75" y="364.54" width="1.6" height="2.60" fill="#106a20"/>
<line x1="665.22" y1="357.23" x2="665.22" y2="366.25" stroke="#106a20" stroke-width="0.75" opacity="0.6"/>
<rect x="664.42" y="360.60" width="1.6" height="3.94" fill="#106a20"/>
<line x1="666.89" y1="353.30" x2="666.89" y2="362.32" stroke="#106a20" stroke-width="0.75" opacity="0.6"/>
<rect x="666.09" y="356.45" width="1.6" height="4.14" fill="#106a20"/>
<line x1="668.57" y1="352.94" x2="668.57" y2="361.18" stroke="#8c1222" stroke-width="0.75" opacity="0.6"/>
<rect x="667.77" y="356.45" width="1.6" height="2.26" fill="#8c1222"/>
<line x1="670.24" y1="351.80" x2="670.24" y2="361.01" stroke="#106a20" stroke-width="0.75" opacity="0.6"/>
<rect x="669.44" y="356.25" width="1.6" height="2.47" fill="#106a20"/>
<line x1="671.91" y1="353.07" x2="671.91" y2="367.05" stroke="#8c1222" stroke-width="0.75" opacity="0.6"/>
<rect x="671.11" y="356.25" width="1.6" height="9.09" fill="#8c1222"/>
<line x1="673.59" y1="360.10" x2="673.59" y2="366.30" stroke="#106a20" stroke-width="0.75" opacity="0.6"/>
<rect x="672.79" y="361.12" width="1.6" height="4.22" fill="#106a20"/>
<line x1="675.26" y1="354.97" x2="675.26" y2="364.76" stroke="#106a20" stroke-width="0.75" opacity="0.6"/>
<rect x="674.46" y="359.23" width="1.6" height="1.89" fill="#106a20"/>
<line x1="676.93" y1="338.59" x2="676.93" y2="361.60" stroke="#106a20" stroke-width="0.75" opacity="0.6"/>
<rect x="676.13" y="340.82" width="1.6" height="18.41" fill="#106a20"/>
<line x1="678.61" y1="328.84" x2="678.61" y2="341.52" stroke="#106a20" stroke-width="0.75" opacity="0.6"/>
<rect x="677.81" y="330.35" width="1.6" height="10.47" fill="#106a20"/>
<line x1="680.28" y1="317.88" x2="680.28" y2="334.57" stroke="#106a20" stroke-width="0.75" opacity="0.6"/>
<rect x="679.48" y="320.16" width="1.6" height="10.18" fill="#106a20"/>
<line x1="681.95" y1="319.18" x2="681.95" y2="327.65" stroke="#8c1222" stroke-width="0.75" opacity="0.6"/>
<rect x="681.15" y="320.16" width="1.6" height="5.64" fill="#8c1222"/>
<line x1="683.63" y1="322.89" x2="683.63" y2="331.42" stroke="#8c1222" stroke-width="0.75" opacity="0.6"/>
<rect x="682.83" y="325.81" width="1.6" height="2.48" fill="#8c1222"/>
<line x1="685.30" y1="318.81" x2="685.30" y2="332.15" stroke="#106a20" stroke-width="0.75" opacity="0.6"/>
<rect x="684.50" y="320.46" width="1.6" height="7.84" fill="#106a20"/>
<line x1="686.97" y1="290.54" x2="686.97" y2="321.86" stroke="#106a20" stroke-width="0.75" opacity="0.6"/>
<rect x="686.17" y="295.19" width="1.6" height="25.27" fill="#106a20"/>
<line x1="688.65" y1="281.19" x2="688.65" y2="299.40" stroke="#106a20" stroke-width="0.75" opacity="0.6"/>
<rect x="687.85" y="284.50" width="1.6" height="10.69" fill="#106a20"/>
<line x1="690.32" y1="281.12" x2="690.32" y2="295.23" stroke="#8c1222" stroke-width="0.75" opacity="0.6"/>
<rect x="689.52" y="284.50" width="1.6" height="9.46" fill="#8c1222"/>
<line x1="691.99" y1="290.32" x2="691.99" y2="295.63" stroke="#106a20" stroke-width="0.75" opacity="0.6"/>
<rect x="691.19" y="292.30" width="1.6" height="1.66" fill="#106a20"/>
<line x1="693.67" y1="288.88" x2="693.67" y2="294.67" stroke="#8c1222" stroke-width="0.75" opacity="0.6"/>
<rect x="692.87" y="292.30" width="1.6" height="1.74" fill="#8c1222"/>
<line x1="695.34" y1="281.78" x2="695.34" y2="304.83" stroke="#8c1222" stroke-width="0.75" opacity="0.6"/>
<rect x="694.54" y="294.04" width="1.6" height="5.27" fill="#8c1222"/>
<line x1="697.01" y1="281.90" x2="697.01" y2="300.32" stroke="#106a20" stroke-width="0.75" opacity="0.6"/>
<rect x="696.21" y="290.14" width="1.6" height="9.17" fill="#106a20"/>
<line x1="698.69" y1="284.90" x2="698.69" y2="295.89" stroke="#8c1222" stroke-width="0.75" opacity="0.6"/>
<rect x="697.89" y="290.14" width="1.6" height="0.80" fill="#8c1222"/>
<line x1="700.36" y1="289.31" x2="700.36" y2="304.68" stroke="#8c1222" stroke-width="0.75" opacity="0.6"/>
<rect x="699.56" y="290.60" width="1.6" height="3.01" fill="#8c1222"/>
<line x1="702.03" y1="279.15" x2="702.03" y2="295.82" stroke="#106a20" stroke-width="0.75" opacity="0.6"/>
<rect x="701.23" y="282.73" width="1.6" height="10.89" fill="#106a20"/>
<line x1="703.71" y1="269.66" x2="703.71" y2="287.29" stroke="#106a20" stroke-width="0.75" opacity="0.6"/>
<rect x="702.91" y="275.06" width="1.6" height="7.67" fill="#106a20"/>
<line x1="705.38" y1="270.70" x2="705.38" y2="285.32" stroke="#8c1222" stroke-width="0.75" opacity="0.6"/>
<rect x="704.58" y="275.06" width="1.6" height="7.15" fill="#8c1222"/>
<line x1="707.05" y1="247.77" x2="707.05" y2="285.77" stroke="#106a20" stroke-width="0.75" opacity="0.6"/>
<rect x="706.25" y="251.22" width="1.6" height="30.99" fill="#106a20"/>
<line x1="708.73" y1="235.53" x2="708.73" y2="253.26" stroke="#106a20" stroke-width="0.75" opacity="0.6"/>
<rect x="707.93" y="238.69" width="1.6" height="12.53" fill="#106a20"/>
<line x1="710.40" y1="228.90" x2="710.40" y2="239.92" stroke="#106a20" stroke-width="0.75" opacity="0.6"/>
<rect x="709.60" y="230.26" width="1.6" height="8.43" fill="#106a20"/>
<line x1="712.07" y1="219.79" x2="712.07" y2="235.08" stroke="#106a20" stroke-width="0.75" opacity="0.6"/>
<rect x="711.27" y="223.69" width="1.6" height="6.57" fill="#106a20"/>
<line x1="713.75" y1="208.10" x2="713.75" y2="230.57" stroke="#106a20" stroke-width="0.75" opacity="0.6"/>
<rect x="712.95" y="215.33" width="1.6" height="8.36" fill="#106a20"/>
<line x1="715.42" y1="209.86" x2="715.42" y2="226.30" stroke="#8c1222" stroke-width="0.75" opacity="0.6"/>
<rect x="714.62" y="215.33" width="1.6" height="3.14" fill="#8c1222"/>
<line x1="717.09" y1="206.98" x2="717.09" y2="225.42" stroke="#106a20" stroke-width="0.75" opacity="0.6"/>
<rect x="716.29" y="207.70" width="1.6" height="10.77" fill="#106a20"/>
<line x1="718.77" y1="191.26" x2="718.77" y2="213.06" stroke="#106a20" stroke-width="0.75" opacity="0.6"/>
<rect x="717.97" y="195.06" width="1.6" height="12.64" fill="#106a20"/>
<line x1="720.44" y1="190.65" x2="720.44" y2="206.42" stroke="#8c1222" stroke-width="0.75" opacity="0.6"/>
<rect x="719.64" y="195.06" width="1.6" height="4.58" fill="#8c1222"/>
<line x1="722.11" y1="190.63" x2="722.11" y2="201.09" stroke="#106a20" stroke-width="0.75" opacity="0.6"/>
<rect x="721.31" y="195.38" width="1.6" height="4.26" fill="#106a20"/>
<line x1="723.79" y1="186.40" x2="723.79" y2="199.49" stroke="#106a20" stroke-width="0.75" opacity="0.6"/>
<rect x="722.99" y="190.46" width="1.6" height="4.93" fill="#106a20"/>
<line x1="725.46" y1="187.70" x2="725.46" y2="204.26" stroke="#8c1222" stroke-width="0.75" opacity="0.6"/>
<rect x="724.66" y="190.46" width="1.6" height="11.85" fill="#8c1222"/>
<line x1="727.13" y1="197.02" x2="727.13" y2="211.07" stroke="#106a20" stroke-width="0.75" opacity="0.6"/>
<rect x="726.33" y="200.09" width="1.6" height="2.22" fill="#106a20"/>
<line x1="728.81" y1="171.62" x2="728.81" y2="200.75" stroke="#106a20" stroke-width="0.75" opacity="0.6"/>
<rect x="728.01" y="174.35" width="1.6" height="25.74" fill="#106a20"/>
<line x1="730.48" y1="162.38" x2="730.48" y2="175.32" stroke="#106a20" stroke-width="0.75" opacity="0.6"/>
<rect x="729.68" y="165.58" width="1.6" height="8.77" fill="#106a20"/>
<line x1="732.15" y1="155.64" x2="732.15" y2="173.26" stroke="#106a20" stroke-width="0.75" opacity="0.6"/>
<rect x="731.35" y="158.77" width="1.6" height="6.81" fill="#106a20"/>
<line x1="733.83" y1="149.05" x2="733.83" y2="167.30" stroke="#8c1222" stroke-width="0.75" opacity="0.6"/>
<rect x="733.03" y="158.77" width="1.6" height="1.14" fill="#8c1222"/>
<line x1="735.50" y1="156.70" x2="735.50" y2="173.70" stroke="#8c1222" stroke-width="0.75" opacity="0.6"/>
<rect x="734.70" y="159.91" width="1.6" height="5.32" fill="#8c1222"/>
<line x1="737.17" y1="162.56" x2="737.17" y2="170.55" stroke="#106a20" stroke-width="0.75" opacity="0.6"/>
<rect x="736.37" y="163.66" width="1.6" height="1.57" fill="#106a20"/>
<line x1="738.85" y1="156.18" x2="738.85" y2="166.63" stroke="#106a20" stroke-width="0.75" opacity="0.6"/>
<rect x="738.05" y="162.77" width="1.6" height="0.89" fill="#106a20"/>
<line x1="740.52" y1="149.24" x2="740.52" y2="164.12" stroke="#106a20" stroke-width="0.75" opacity="0.6"/>
<rect x="739.72" y="150.73" width="1.6" height="12.03" fill="#106a20"/>
<line x1="742.19" y1="123.58" x2="742.19" y2="153.16" stroke="#106a20" stroke-width="0.75" opacity="0.6"/>
<rect x="741.39" y="128.86" width="1.6" height="21.87" fill="#106a20"/>
<line x1="743.87" y1="105.00" x2="743.87" y2="133.14" stroke="#106a20" stroke-width="0.75" opacity="0.6"/>
<rect x="743.07" y="121.53" width="1.6" height="7.33" fill="#106a20"/>
<line x1="745.54" y1="116.21" x2="745.54" y2="146.39" stroke="#8c1222" stroke-width="0.75" opacity="0.6"/>
<rect x="744.74" y="121.53" width="1.6" height="18.19" fill="#8c1222"/>
<line x1="747.21" y1="135.15" x2="747.21" y2="150.91" stroke="#8c1222" stroke-width="0.75" opacity="0.6"/>
<rect x="746.41" y="139.72" width="1.6" height="8.00" fill="#8c1222"/>
<line x1="748.89" y1="134.87" x2="748.89" y2="151.15" stroke="#106a20" stroke-width="0.75" opacity="0.6"/>
<rect x="748.09" y="138.81" width="1.6" height="8.91" fill="#106a20"/>
<line x1="750.56" y1="136.60" x2="750.56" y2="155.77" stroke="#8c1222" stroke-width="0.75" opacity="0.6"/>
<rect x="749.76" y="138.81" width="1.6" height="7.29" fill="#8c1222"/>
<line x1="752.23" y1="127.89" x2="752.23" y2="150.75" stroke="#106a20" stroke-width="0.75" opacity="0.6"/>
<rect x="751.43" y="135.37" width="1.6" height="10.73" fill="#106a20"/>
<line x1="753.91" y1="118.50" x2="753.91" y2="139.80" stroke="#106a20" stroke-width="0.75" opacity="0.6"/>
<rect x="753.11" y="122.20" width="1.6" height="13.16" fill="#106a20"/>
<line x1="755.58" y1="112.50" x2="755.58" y2="126.63" stroke="#106a20" stroke-width="0.75" opacity="0.6"/>
<rect x="754.78" y="118.92" width="1.6" height="3.28" fill="#106a20"/>
<line x1="757.25" y1="100.00" x2="757.25" y2="126.48" stroke="#106a20" stroke-width="0.75" opacity="0.6"/>
<rect x="756.45" y="118.04" width="1.6" height="0.88" fill="#106a20"/>
<line x1="758.93" y1="107.66" x2="758.93" y2="123.04" stroke="#106a20" stroke-width="0.75" opacity="0.6"/>
<rect x="758.13" y="110.74" width="1.6" height="7.30" fill="#106a20"/>
<line x1="760.60" y1="106.81" x2="760.60" y2="124.38" stroke="#8c1222" stroke-width="0.75" opacity="0.6"/>
<rect x="759.80" y="110.74" width="1.6" height="9.85" fill="#8c1222"/>
<line x1="762.27" y1="110.73" x2="762.27" y2="124.33" stroke="#8c1222" stroke-width="0.75" opacity="0.6"/>
<rect x="761.47" y="120.59" width="1.6" height="0.80" fill="#8c1222"/>
<line x1="763.95" y1="119.66" x2="763.95" y2="146.52" stroke="#8c1222" stroke-width="0.75" opacity="0.6"/>
<rect x="763.15" y="121.05" width="1.6" height="20.47" fill="#8c1222"/>
<line x1="765.62" y1="125.49" x2="765.62" y2="147.60" stroke="#106a20" stroke-width="0.75" opacity="0.6"/>
<rect x="764.82" y="126.87" width="1.6" height="14.65" fill="#106a20"/>
<line x1="767.29" y1="122.09" x2="767.29" y2="162.43" stroke="#8c1222" stroke-width="0.75" opacity="0.6"/>
<rect x="766.49" y="126.87" width="1.6" height="28.29" fill="#8c1222"/>
<line x1="768.97" y1="152.56" x2="768.97" y2="174.98" stroke="#8c1222" stroke-width="0.75" opacity="0.6"/>
<rect x="768.17" y="155.16" width="1.6" height="14.47" fill="#8c1222"/>
<line x1="770.64" y1="162.08" x2="770.64" y2="175.04" stroke="#8c1222" stroke-width="0.75" opacity="0.6"/>
<rect x="769.84" y="169.62" width="1.6" height="2.98" fill="#8c1222"/>
<line x1="772.31" y1="160.05" x2="772.31" y2="175.82" stroke="#106a20" stroke-width="0.75" opacity="0.6"/>
<rect x="771.51" y="161.15" width="1.6" height="11.46" fill="#106a20"/>
<line x1="773.99" y1="144.69" x2="773.99" y2="167.62" stroke="#106a20" stroke-width="0.75" opacity="0.6"/>
<rect x="773.19" y="154.60" width="1.6" height="6.55" fill="#106a20"/>
<line x1="775.66" y1="144.71" x2="775.66" y2="161.19" stroke="#106a20" stroke-width="0.75" opacity="0.6"/>
<rect x="774.86" y="151.97" width="1.6" height="2.63" fill="#106a20"/>
<line x1="777.33" y1="141.44" x2="777.33" y2="161.67" stroke="#106a20" stroke-width="0.75" opacity="0.6"/>
<rect x="776.53" y="151.44" width="1.6" height="0.80" fill="#106a20"/>
<line x1="779.01" y1="144.62" x2="779.01" y2="152.74" stroke="#106a20" stroke-width="0.75" opacity="0.6"/>
<rect x="778.21" y="146.44" width="1.6" height="5.00" fill="#106a20"/>
<line x1="780.68" y1="141.13" x2="780.68" y2="158.84" stroke="#8c1222" stroke-width="0.75" opacity="0.6"/>
<rect x="779.88" y="146.44" width="1.6" height="11.41" fill="#8c1222"/>
<line x1="782.35" y1="148.28" x2="782.35" y2="160.58" stroke="#106a20" stroke-width="0.75" opacity="0.6"/>
<rect x="781.55" y="152.25" width="1.6" height="5.60" fill="#106a20"/>
<line x1="784.03" y1="150.45" x2="784.03" y2="176.29" stroke="#8c1222" stroke-width="0.75" opacity="0.6"/>
<rect x="783.23" y="152.25" width="1.6" height="16.05" fill="#8c1222"/>
<line x1="785.70" y1="165.65" x2="785.70" y2="177.30" stroke="#8c1222" stroke-width="0.75" opacity="0.6"/>
<rect x="784.90" y="168.30" width="1.6" height="6.81" fill="#8c1222"/>
<line x1="787.37" y1="172.06" x2="787.37" y2="185.10" stroke="#8c1222" stroke-width="0.75" opacity="0.6"/>
<rect x="786.57" y="175.11" width="1.6" height="7.42" fill="#8c1222"/>
<line x1="789.05" y1="173.24" x2="789.05" y2="185.49" stroke="#106a20" stroke-width="0.75" opacity="0.6"/>
<rect x="788.25" y="179.57" width="1.6" height="2.95" fill="#106a20"/>
<line x1="790.72" y1="160.13" x2="790.72" y2="181.31" stroke="#106a20" stroke-width="0.75" opacity="0.6"/>
<rect x="789.92" y="166.55" width="1.6" height="13.03" fill="#106a20"/>
<line x1="792.39" y1="153.86" x2="792.39" y2="182.57" stroke="#8c1222" stroke-width="0.75" opacity="0.6"/>
<rect x="791.59" y="166.55" width="1.6" height="11.34" fill="#8c1222"/>
<line x1="794.07" y1="173.53" x2="794.07" y2="190.11" stroke="#8c1222" stroke-width="0.75" opacity="0.6"/>
<rect x="793.27" y="177.88" width="1.6" height="3.49" fill="#8c1222"/>
<line x1="795.74" y1="171.55" x2="795.74" y2="184.43" stroke="#106a20" stroke-width="0.75" opacity="0.6"/>
<rect x="794.94" y="172.98" width="1.6" height="8.39" fill="#106a20"/>
<line x1="797.41" y1="169.97" x2="797.41" y2="197.40" stroke="#8c1222" stroke-width="0.75" opacity="0.6"/>
<rect x="796.61" y="172.98" width="1.6" height="19.67" fill="#8c1222"/>
<line x1="799.09" y1="188.71" x2="799.09" y2="246.08" stroke="#8c1222" stroke-width="0.75" opacity="0.6"/>
<rect x="798.29" y="192.65" width="1.6" height="49.96" fill="#8c1222"/>
<line x1="800.76" y1="238.93" x2="800.76" y2="299.89" stroke="#8c1222" stroke-width="0.75" opacity="0.6"/>
<rect x="799.96" y="242.62" width="1.6" height="55.13" fill="#8c1222"/>
<line x1="802.43" y1="297.00" x2="802.43" y2="356.00" stroke="#8c1222" stroke-width="0.75" opacity="0.6"/>
<rect x="801.63" y="297.75" width="1.6" height="27.12" fill="#8c1222"/>
<line x1="804.11" y1="322.20" x2="804.11" y2="336.92" stroke="#8c1222" stroke-width="0.75" opacity="0.6"/>
<rect x="803.31" y="324.86" width="1.6" height="5.36" fill="#8c1222"/>
<line x1="805.78" y1="315.26" x2="805.78" y2="358.00" stroke="#106a20" stroke-width="0.75" opacity="0.6"/>
<rect x="804.98" y="319.39" width="1.6" height="10.83" fill="#106a20"/>
<line x1="807.45" y1="308.70" x2="807.45" y2="325.65" stroke="#8c1222" stroke-width="0.75" opacity="0.6"/>
<rect x="806.65" y="319.39" width="1.6" height="0.82" fill="#8c1222"/>
<line x1="809.13" y1="315.86" x2="809.13" y2="349.71" stroke="#8c1222" stroke-width="0.75" opacity="0.6"/>
<rect x="808.33" y="320.21" width="1.6" height="20.62" fill="#8c1222"/>
<line x1="810.80" y1="309.07" x2="810.80" y2="349.73" stroke="#106a20" stroke-width="0.75" opacity="0.6"/>
<rect x="810.00" y="316.50" width="1.6" height="24.32" fill="#106a20"/>
<line x1="812.47" y1="315.16" x2="812.47" y2="362.00" stroke="#8c1222" stroke-width="0.75" opacity="0.6"/>
<rect x="811.67" y="316.50" width="1.6" height="1.80" fill="#8c1222"/>
<line x1="814.15" y1="305.82" x2="814.15" y2="322.49" stroke="#106a20" stroke-width="0.75" opacity="0.6"/>
<rect x="813.35" y="308.82" width="1.6" height="9.48" fill="#106a20"/>
<line x1="815.82" y1="296.29" x2="815.82" y2="310.44" stroke="#106a20" stroke-width="0.75" opacity="0.6"/>
<rect x="815.02" y="298.78" width="1.6" height="10.05" fill="#106a20"/>
<line x1="817.49" y1="296.31" x2="817.49" y2="302.43" stroke="#8c1222" stroke-width="0.75" opacity="0.6"/>
<rect x="816.69" y="298.78" width="1.6" height="0.80" fill="#8c1222"/>
<line x1="819.17" y1="284.51" x2="819.17" y2="305.65" stroke="#106a20" stroke-width="0.75" opacity="0.6"/>
<rect x="818.37" y="290.83" width="1.6" height="8.30" fill="#106a20"/>
<line x1="820.84" y1="279.05" x2="820.84" y2="297.68" stroke="#106a20" stroke-width="0.75" opacity="0.6"/>
<rect x="820.04" y="287.38" width="1.6" height="3.45" fill="#106a20"/>
<line x1="822.51" y1="254.91" x2="822.51" y2="290.56" stroke="#106a20" stroke-width="0.75" opacity="0.6"/>
<rect x="821.71" y="266.03" width="1.6" height="21.34" fill="#106a20"/>
<line x1="824.19" y1="260.74" x2="824.19" y2="274.92" stroke="#106a20" stroke-width="0.75" opacity="0.6"/>
<rect x="823.39" y="264.18" width="1.6" height="1.85" fill="#106a20"/>
<line x1="825.86" y1="261.78" x2="825.86" y2="276.67" stroke="#8c1222" stroke-width="0.75" opacity="0.6"/>
<rect x="825.06" y="264.18" width="1.6" height="0.96" fill="#8c1222"/>
<line x1="827.53" y1="260.34" x2="827.53" y2="279.21" stroke="#8c1222" stroke-width="0.75" opacity="0.6"/>
<rect x="826.73" y="265.14" width="1.6" height="11.95" fill="#8c1222"/>
<line x1="829.21" y1="273.19" x2="829.21" y2="279.67" stroke="#106a20" stroke-width="0.75" opacity="0.6"/>
<rect x="828.41" y="276.90" width="1.6" height="0.80" fill="#106a20"/>
<line x1="830.88" y1="273.18" x2="830.88" y2="290.45" stroke="#8c1222" stroke-width="0.75" opacity="0.6"/>
<rect x="830.08" y="276.90" width="1.6" height="12.30" fill="#8c1222"/>
<line x1="832.55" y1="288.23" x2="832.55" y2="309.58" stroke="#8c1222" stroke-width="0.75" opacity="0.6"/>
<rect x="831.75" y="289.20" width="1.6" height="8.77" fill="#8c1222"/>
<line x1="834.23" y1="286.45" x2="834.23" y2="310.96" stroke="#8c1222" stroke-width="0.75" opacity="0.6"/>
<rect x="833.43" y="297.97" width="1.6" height="11.93" fill="#8c1222"/>
<line x1="835.90" y1="300.31" x2="835.90" y2="316.05" stroke="#106a20" stroke-width="0.75" opacity="0.6"/>
<rect x="835.10" y="302.37" width="1.6" height="7.53" fill="#106a20"/>
<line x1="837.57" y1="288.12" x2="837.57" y2="353.00" stroke="#106a20" stroke-width="0.75" opacity="0.6"/>
<rect x="836.77" y="292.92" width="1.6" height="9.46" fill="#106a20"/>
<line x1="839.25" y1="291.76" x2="839.25" y2="309.59" stroke="#8c1222" stroke-width="0.75" opacity="0.6"/>
<rect x="838.45" y="292.92" width="1.6" height="10.79" fill="#8c1222"/>
<line x1="840.92" y1="294.35" x2="840.92" y2="305.70" stroke="#106a20" stroke-width="0.75" opacity="0.6"/>
<rect x="840.12" y="302.64" width="1.6" height="1.07" fill="#106a20"/>
<line x1="842.59" y1="290.01" x2="842.59" y2="320.24" stroke="#8c1222" stroke-width="0.75" opacity="0.6"/>
<rect x="841.79" y="302.64" width="1.6" height="9.19" fill="#8c1222"/>
<line x1="844.27" y1="304.68" x2="844.27" y2="346.50" stroke="#8c1222" stroke-width="0.75" opacity="0.6"/>
<rect x="843.47" y="311.83" width="1.6" height="33.64" fill="#8c1222"/>
<line x1="845.94" y1="333.92" x2="845.94" y2="347.65" stroke="#106a20" stroke-width="0.75" opacity="0.6"/>
<rect x="845.14" y="335.41" width="1.6" height="10.05" fill="#106a20"/>
<line x1="847.61" y1="318.47" x2="847.61" y2="350.00" stroke="#106a20" stroke-width="0.75" opacity="0.6"/>
<rect x="846.81" y="325.06" width="1.6" height="10.35" fill="#106a20"/>
<line x1="849.29" y1="319.64" x2="849.29" y2="341.66" stroke="#8c1222" stroke-width="0.75" opacity="0.6"/>
<rect x="848.49" y="325.06" width="1.6" height="6.35" fill="#8c1222"/>
<line x1="850.96" y1="329.32" x2="850.96" y2="342.70" stroke="#8c1222" stroke-width="0.75" opacity="0.6"/>
<rect x="850.16" y="331.41" width="1.6" height="4.78" fill="#8c1222"/>
<line x1="852.63" y1="324.31" x2="852.63" y2="338.99" stroke="#106a20" stroke-width="0.75" opacity="0.6"/>
<rect x="851.83" y="328.31" width="1.6" height="7.88" fill="#106a20"/>
<line x1="854.31" y1="324.99" x2="854.31" y2="337.92" stroke="#8c1222" stroke-width="0.75" opacity="0.6"/>
<rect x="853.51" y="328.31" width="1.6" height="3.89" fill="#8c1222"/>
<line x1="855.98" y1="331.50" x2="855.98" y2="352.36" stroke="#8c1222" stroke-width="0.75" opacity="0.6"/>
<rect x="855.18" y="332.20" width="1.6" height="4.09" fill="#8c1222"/>
<line x1="857.65" y1="329.99" x2="857.65" y2="364.01" stroke="#8c1222" stroke-width="0.75" opacity="0.6"/>
<rect x="856.85" y="336.30" width="1.6" height="18.78" fill="#8c1222"/>
<line x1="859.33" y1="350.12" x2="859.33" y2="377.59" stroke="#8c1222" stroke-width="0.75" opacity="0.6"/>
<rect x="858.53" y="355.07" width="1.6" height="19.61" fill="#8c1222"/>
<line x1="861.00" y1="367.29" x2="861.00" y2="390.18" stroke="#106a20" stroke-width="0.75" opacity="0.6"/>
<rect x="860.20" y="374.50" width="1.6" height="7.60" fill="#106a20"/>
<line x1="800.7" y1="180" x2="800.7" y2="472" stroke="#8c1222" stroke-width="0.9" opacity="0.85"/>
<rect x="213" y="126.5" width="16.5" height="18" fill="rgba(97,139,107,0.5)"/>
</g>
<text x="10.8" y="87.2" font-family="'DejaVu Sans Condensed', 'DejaVu Sans', sans-serif" font-size="7.5" fill="#5d606b" stroke="#5d606b" stroke-width="0.18" textLength="92.5" lengthAdjust="spacingAndGlyphs">Bitcoin / Tether · 4h · KuCoin</text>
<text x="108.3" y="87.2" font-family="'DejaVu Sans Condensed', 'DejaVu Sans', sans-serif" font-size="7.5" fill="#5d606b" stroke="#5d606b" stroke-width="0.18" textLength="4.3" lengthAdjust="spacingAndGlyphs">O</text>
<text x="113.0" y="87.2" font-family="'DejaVu Sans Condensed', 'DejaVu Sans', sans-serif" font-size="7.5" fill="#2b7a37" stroke="#2b7a37" stroke-width="0.18" textLength="29.7" lengthAdjust="spacingAndGlyphs">108,196.3</text>
<text x="148.0" y="87.2" font-family="'DejaVu Sans Condensed', 'DejaVu Sans', sans-serif" font-size="7.5" fill="#5d606b" stroke="#5d606b" stroke-width="0.18" textLength="4.3" lengthAdjust="spacingAndGlyphs">H</text>
<text x="153.0" y="87.2" font-family="'DejaVu Sans Condensed', 'DejaVu Sans', sans-serif" font-size="7.5" fill="#2b7a37" stroke="#2b7a37" stroke-width="0.18" textLength="30.3" lengthAdjust="spacingAndGlyphs">108,819.6</text>
<text x="188.1" y="87.2" font-family="'DejaVu Sans Condensed', 'DejaVu Sans', sans-serif" font-size="7.5" fill="#5d606b" stroke="#5d606b" stroke-width="0.18" textLength="3.3" lengthAdjust="spacingAndGlyphs">L</text>
<text x="191.9" y="87.2" font-family="'DejaVu Sans Condensed', 'DejaVu Sans', sans-serif" font-size="7.5" fill="#2b7a37" stroke="#2b7a37" stroke-width="0.18" textLength="30.4" lengthAdjust="spacingAndGlyphs">107,934.8</text>
<text x="227.3" y="87.2" font-family="'DejaVu Sans Condensed', 'DejaVu Sans', sans-serif" font-size="7.5" fill="#5d606b" stroke="#5d606b" stroke-width="0.18" textLength="3.6" lengthAdjust="spacingAndGlyphs">C</text>
<text x="231.3" y="87.2" font-family="'DejaVu Sans Condensed', 'DejaVu Sans', sans-serif" font-size="7.5" fill="#2b7a37" stroke="#2b7a37" stroke-width="0.18" textLength="30.6" lengthAdjust="spacingAndGlyphs">108,678.9</text>
<text x="266.3" y="87.2" font-family="'DejaVu Sans Condensed', 'DejaVu Sans', sans-serif" font-size="7.5" fill="#2b7a37" stroke="#2b7a37" stroke-width="0.18" textLength="49.7" lengthAdjust="spacingAndGlyphs">+478.0 (+0.44%)</text>
<circle cx="862.5" cy="611.5" r="5.6" fill="#ffffff" stroke="#b258d8" stroke-width="1.3"/>
<path d="M864.4,608.5 L861.3,611.7 L863.7,611.4 L860.7,614.7" fill="none" stroke="#9b2fc4" stroke-width="1.25" stroke-linejoin="round" stroke-linecap="round"/>
<circle cx="866.6" cy="607.3" r="2.3" fill="#ffffff"/>
<circle cx="866.6" cy="607.3" r="1.5" fill="#ec1c2a"/>
<line x1="1146.5" y1="16" x2="1146.5" y2="637" stroke="#5c5f69" stroke-width="1"/>
<line x1="6" y1="619.5" x2="1194" y2="619.5" stroke="#5c5f69" stroke-width="1"/>
<text x="1152" y="33.7" font-size="8.3" fill="#50535d" textLength="20.1" lengthAdjust="spacingAndGlyphs">80.00</text>
<text x="1152" y="65" font-size="8.3" fill="#50535d" textLength="20.1" lengthAdjust="spacingAndGlyphs">40.00</text>
<rect x="1148" y="78.3" width="43.7" height="15" rx="2.2" fill="#ffffff"/>
<text x="1153.7" y="88.75" font-size="7.9" fill="#222" textLength="16" lengthAdjust="spacingAndGlyphs">USDT</text>
<text x="1152.2" y="608.89" font-size="8.3" fill="#50535d" textLength="31.8" lengthAdjust="spacingAndGlyphs">94,000.0</text>
<text x="1152.2" y="577.37" font-size="8.3" fill="#50535d" textLength="31.8" lengthAdjust="spacingAndGlyphs">96,000.0</text>
<text x="1152.2" y="545.85" font-size="8.3" fill="#50535d" textLength="31.8" lengthAdjust="spacingAndGlyphs">98,000.0</text>
<text x="1152.2" y="514.33" font-size="8.3" fill="#50535d" textLength="35.3" lengthAdjust="spacingAndGlyphs">100,000.0</text>
<text x="1152.2" y="482.82" font-size="8.3" fill="#50535d" textLength="35.3" lengthAdjust="spacingAndGlyphs">102,000.0</text>
<text x="1152.2" y="451.30" font-size="8.3" fill="#50535d" textLength="35.3" lengthAdjust="spacingAndGlyphs">104,000.0</text>
<text x="1152.2" y="419.78" font-size="8.3" fill="#50535d" textLength="35.3" lengthAdjust="spacingAndGlyphs">106,000.0</text>
<text x="1152.2" y="388.26" font-size="8.3" fill="#50535d" textLength="35.3" lengthAdjust="spacingAndGlyphs">108,000.0</text>
<text x="1152.2" y="356.74" font-size="8.3" fill="#50535d" textLength="35.3" lengthAdjust="spacingAndGlyphs">110,000.0</text>
<text x="1152.2" y="325.23" font-size="8.3" fill="#50535d" textLength="35.3" lengthAdjust="spacingAndGlyphs">112,000.0</text>
<text x="1152.2" y="293.71" font-size="8.3" fill="#50535d" textLength="35.3" lengthAdjust="spacingAndGlyphs">114,000.0</text>
<text x="1152.2" y="262.19" font-size="8.3" fill="#50535d" textLength="35.3" lengthAdjust="spacingAndGlyphs">116,000.0</text>
<text x="1152.2" y="230.67" font-size="8.3" fill="#50535d" textLength="35.3" lengthAdjust="spacingAndGlyphs">118,000.0</text>
<text x="1152.2" y="199.15" font-size="8.3" fill="#50535d" textLength="35.3" lengthAdjust="spacingAndGlyphs">120,000.0</text>
<text x="1152.2" y="167.64" font-size="8.3" fill="#50535d" textLength="35.3" lengthAdjust="spacingAndGlyphs">122,000.0</text>
<text x="1152.2" y="136.12" font-size="8.3" fill="#50535d" textLength="35.3" lengthAdjust="spacingAndGlyphs">124,000.0</text>
<text x="1152.2" y="104.60" font-size="8.3" fill="#50535d" textLength="35.3" lengthAdjust="spacingAndGlyphs">126,000.0</text>
<rect x="1146.5" y="139.30" width="44.6" height="11.6" fill="#8a1a24"/>
<text x="1152.3" y="148.00" font-size="8.3" font-weight="bold" fill="#ffffff" textLength="35.7" lengthAdjust="spacingAndGlyphs">123,288.0</text>
<rect x="1146.5" y="198.50" width="44.6" height="11.6" fill="#0a0a0c"/>
<text x="1152.3" y="207.20" font-size="8.3" font-weight="bold" fill="#ffffff" textLength="35.7" lengthAdjust="spacingAndGlyphs">119,504.8</text>
<rect x="1146.5" y="318.70" width="44.6" height="11.6" fill="#8a1a24"/>
<text x="1152.3" y="327.40" font-size="8.3" font-weight="bold" fill="#ffffff" textLength="35.7" lengthAdjust="spacingAndGlyphs">111,918.6</text>
<rect x="1146.5" y="456.20" width="44.6" height="11.6" fill="#0a0a0c"/>
<text x="1152.3" y="464.90" font-size="8.3" font-weight="bold" fill="#ffffff" textLength="35.7" lengthAdjust="spacingAndGlyphs">103,190.6</text>
<rect x="1146.5" y="494.60" width="44.6" height="11.6" fill="#0a0a0c"/>
<text x="1152.3" y="503.30" font-size="8.3" font-weight="bold" fill="#ffffff" textLength="35.7" lengthAdjust="spacingAndGlyphs">100,739.3</text>
<rect x="1146.5" y="370" width="44.6" height="20.6" fill="#4a4c57"/>
<text x="1152.3" y="378.7" font-size="8.3" font-weight="bold" fill="#fff" textLength="35.7" lengthAdjust="spacingAndGlyphs">108,678.9</text>
<text x="1152.3" y="387.6" font-size="8.3" fill="#dcdde2" textLength="31" lengthAdjust="spacingAndGlyphs">03:05:14</text>
<rect x="1146.5" y="392.20" width="44.6" height="11.6" fill="#1d6a22"/>
<text x="1152.3" y="400.90" font-size="8.3" font-weight="bold" fill="#ffffff" textLength="35.7" lengthAdjust="spacingAndGlyphs">107,260.0</text>
<clipPath id="tc"><rect x="6" y="620" width="1140" height="17"/></clipPath><g clip-path="url(#tc)">
<text x="8.7" y="630.6" font-size="8.2" fill="#50535d" text-anchor="middle">24</text>
<text x="48.8" y="630.6" font-size="8.2" fill="#50535d" text-anchor="middle">28</text>
<text x="89.0" y="630.6" font-size="8.2" fill="#50535d" text-anchor="middle" font-weight="bold">Aug</text>
<text x="129.2" y="630.6" font-size="8.2" fill="#50535d" text-anchor="middle">5</text>
<text x="169.3" y="630.6" font-size="8.2" fill="#50535d" text-anchor="middle">9</text>
<text x="209.5" y="630.6" font-size="8.2" fill="#50535d" text-anchor="middle">13</text>
<text x="249.6" y="630.6" font-size="8.2" fill="#50535d" text-anchor="middle">17</text>
<text x="289.8" y="630.6" font-size="8.2" fill="#50535d" text-anchor="middle">21</text>
<text x="330.0" y="630.6" font-size="8.2" fill="#50535d" text-anchor="middle">25</text>
<text x="400.2" y="630.6" font-size="8.2" fill="#50535d" text-anchor="middle" font-weight="bold">Sep</text>
<text x="440.4" y="630.6" font-size="8.2" fill="#50535d" text-anchor="middle">5</text>
<text x="480.6" y="630.6" font-size="8.2" fill="#50535d" text-anchor="middle">9</text>
<text x="520.7" y="630.6" font-size="8.2" fill="#50535d" text-anchor="middle">13</text>
<text x="560.9" y="630.6" font-size="8.2" fill="#50535d" text-anchor="middle">17</text>
<text x="601.0" y="630.6" font-size="8.2" fill="#50535d" text-anchor="middle">21</text>
<text x="641.2" y="630.6" font-size="8.2" fill="#50535d" text-anchor="middle">25</text>
<text x="701.4" y="630.6" font-size="8.2" fill="#50535d" text-anchor="middle" font-weight="bold">Oct</text>
<text x="741.6" y="630.6" font-size="8.2" fill="#50535d" text-anchor="middle">5</text>
<text x="781.8" y="630.6" font-size="8.2" fill="#50535d" text-anchor="middle">9</text>
<text x="821.9" y="630.6" font-size="8.2" fill="#50535d" text-anchor="middle">13</text>
<text x="862.1" y="630.6" font-size="8.2" fill="#50535d" text-anchor="middle">17</text>
<text x="902.2" y="630.6" font-size="8.2" fill="#50535d" text-anchor="middle">21</text>
<text x="942.4" y="630.6" font-size="8.2" fill="#50535d" text-anchor="middle">25</text>
<text x="1012.7" y="630.6" font-size="8.2" fill="#50535d" text-anchor="middle" font-weight="bold">Nov</text>
<text x="1052.8" y="630.6" font-size="8.2" fill="#50535d" text-anchor="middle">5</text>
<text x="1093.0" y="630.6" font-size="8.2" fill="#50535d" text-anchor="middle">9</text>
<text x="1133.2" y="630.6" font-size="8.2" fill="#50535d" text-anchor="middle">13</text>
</g>
<rect x="1194" y="0" width="6" height="673" fill="#202020"/>
<path d="M6.9,650.8 H14.2 V659.4 H10.2 V653.7 H6.9 Z" fill="#e8e8e8"/>
<circle cx="16.9" cy="652.3" r="1.45" fill="#e8e8e8"/>
<path d="M20.9,650.8 H24.5 L21.0,659.4 H17.0 Z" fill="#e8e8e8"/>
<text x="29.2" y="659.2" font-family="'DejaVu Sans', sans-serif" font-size="11.3" fill="#ececec" stroke="#ececec" stroke-width="0.45" textLength="70.4" lengthAdjust="spacingAndGlyphs">TradingView</text>
</svg></body></html>
